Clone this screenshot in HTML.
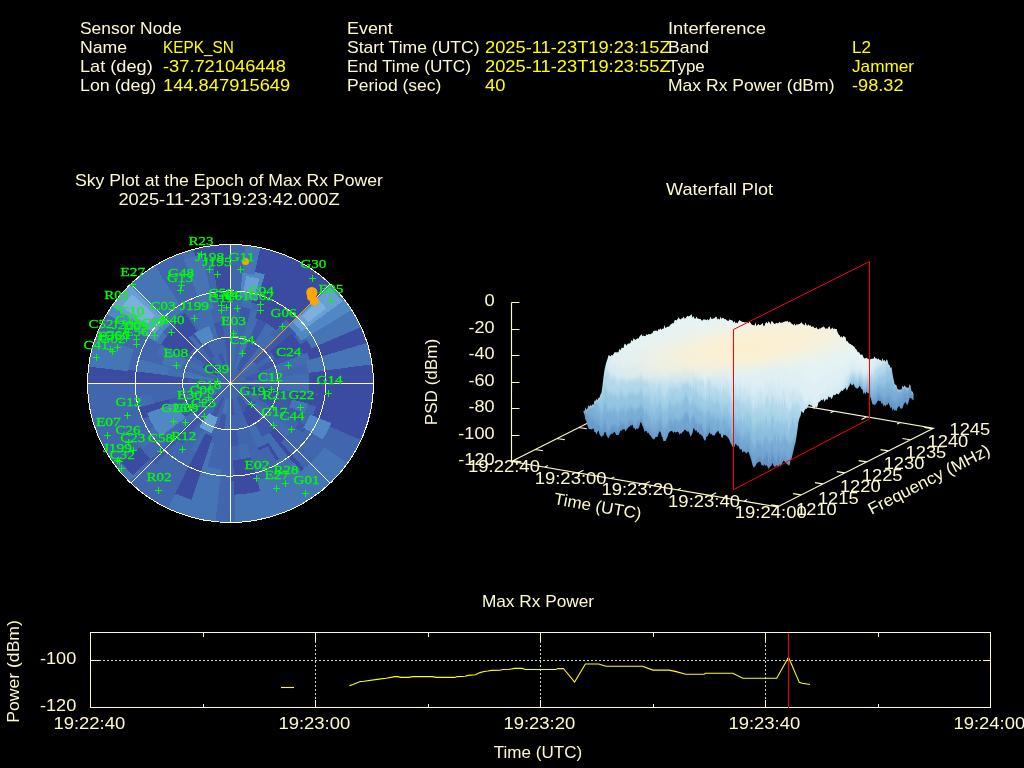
<!DOCTYPE html>
<html><head><meta charset="utf-8"><title>Interference Event</title>
<style>
html,body{margin:0;padding:0;background:#000;width:1024px;height:768px;overflow:hidden}
svg{display:block;will-change:transform}
text{font-family:"Liberation Sans",sans-serif;white-space:pre}
.sv text{font-family:"Liberation Serif",serif}
</style></head><body>
<svg width="1024" height="768" viewBox="0 0 1024 768">
<rect width="1024" height="768" fill="#000"/>
<text x="80.0" y="33.5" fill="#fffacd" font-size="16.6" textLength="101.7" lengthAdjust="spacingAndGlyphs">Sensor Node</text>
<text x="80.0" y="52.5" fill="#fffacd" font-size="16.6" textLength="47.2" lengthAdjust="spacingAndGlyphs">Name</text>
<text x="163.0" y="52.5" fill="#ffff00" font-size="16.6" textLength="70.9" lengthAdjust="spacingAndGlyphs">KEPK_SN</text>
<text x="80.0" y="71.5" fill="#fffacd" font-size="16.6" textLength="72.7" lengthAdjust="spacingAndGlyphs">Lat (deg)</text>
<text x="163.0" y="71.5" fill="#ffff00" font-size="16.6" textLength="122.8" lengthAdjust="spacingAndGlyphs">-37.721046448</text>
<text x="80.0" y="90.5" fill="#fffacd" font-size="16.6" textLength="76.3" lengthAdjust="spacingAndGlyphs">Lon (deg)</text>
<text x="163.0" y="90.5" fill="#ffff00" font-size="16.6" textLength="127.2" lengthAdjust="spacingAndGlyphs">144.847915649</text>
<text x="347.0" y="33.5" fill="#fffacd" font-size="16.6" textLength="45.8" lengthAdjust="spacingAndGlyphs">Event</text>
<text x="347.0" y="52.5" fill="#fffacd" font-size="16.6" textLength="132.6" lengthAdjust="spacingAndGlyphs">Start Time (UTC)</text>
<text x="485.0" y="52.5" fill="#ffff00" font-size="16.6" textLength="185.6" lengthAdjust="spacingAndGlyphs">2025-11-23T19:23:15Z</text>
<text x="347.0" y="71.5" fill="#fffacd" font-size="16.6" textLength="123.9" lengthAdjust="spacingAndGlyphs">End Time (UTC)</text>
<text x="485.0" y="71.5" fill="#ffff00" font-size="16.6" textLength="185.6" lengthAdjust="spacingAndGlyphs">2025-11-23T19:23:55Z</text>
<text x="347.0" y="90.5" fill="#fffacd" font-size="16.6" textLength="94.4" lengthAdjust="spacingAndGlyphs">Period (sec)</text>
<text x="485.0" y="90.5" fill="#ffff00" font-size="16.6" textLength="20.4" lengthAdjust="spacingAndGlyphs">40</text>
<text x="668.0" y="33.5" fill="#fffacd" font-size="16.6" textLength="97.9" lengthAdjust="spacingAndGlyphs">Interference</text>
<text x="668.0" y="52.5" fill="#fffacd" font-size="16.6" textLength="41.1" lengthAdjust="spacingAndGlyphs">Band</text>
<text x="852.0" y="52.5" fill="#ffff00" font-size="16.6" textLength="19.1" lengthAdjust="spacingAndGlyphs">L2</text>
<text x="668.0" y="71.5" fill="#fffacd" font-size="16.6" textLength="36.8" lengthAdjust="spacingAndGlyphs">Type</text>
<text x="852.0" y="71.5" fill="#ffff00" font-size="16.6" textLength="62.1" lengthAdjust="spacingAndGlyphs">Jammer</text>
<text x="668.0" y="90.5" fill="#fffacd" font-size="16.6" textLength="166.5" lengthAdjust="spacingAndGlyphs">Max Rx Power (dBm)</text>
<text x="852.0" y="90.5" fill="#ffff00" font-size="16.6" textLength="51.6" lengthAdjust="spacingAndGlyphs">-98.32</text>
<text x="75.0" y="185.5" fill="#fffacd" font-size="16.6" textLength="308.0" lengthAdjust="spacingAndGlyphs">Sky Plot at the Epoch of Max Rx Power</text>
<text x="118.4" y="204.5" fill="#fffacd" font-size="16.6" textLength="221.2" lengthAdjust="spacingAndGlyphs">2025-11-23T19:23:42.000Z</text>
<text x="666.1" y="194.5" fill="#fffacd" font-size="16.6" textLength="106.9" lengthAdjust="spacingAndGlyphs">Waterfall Plot</text>
<text x="481.9" y="606.5" fill="#fffacd" font-size="16.6" textLength="112.2" lengthAdjust="spacingAndGlyphs">Max Rx Power</text>
<text x="493.8" y="757.5" fill="#fffacd" font-size="16.6" textLength="88.4" lengthAdjust="spacingAndGlyphs">Time (UTC)</text>
<defs><clipPath id="skc"><ellipse cx="230.5" cy="383.5" rx="143.0" ry="139.0"/></clipPath></defs>
<g clip-path="url(#skc)" shape-rendering="crispEdges">
<rect x="86" y="243" width="290" height="282" fill="#4166ae"/>
<path d="M230.5 352.1 232.0 352.1 233.4 352.2 234.9 352.3 232.7 368.2 231.9 368.1 231.2 368.1 230.5 368.1Z" fill="#436db1"/>
<path d="M230.5 336.6 232.7 336.7 234.9 336.8 237.0 337.0 234.8 352.9 233.4 352.7 231.9 352.6 230.5 352.6Z" fill="#436db1"/>
<path d="M230.5 321.2 233.4 321.2 236.3 321.4 239.2 321.7 237.0 337.6 234.8 337.4 232.7 337.2 230.5 337.2Z" fill="#436db1"/>
<path d="M240.9 306.4 244.5 306.9 248.1 307.6 251.6 308.5 247.3 323.9 244.5 323.2 241.6 322.7 238.8 322.3Z" fill="#3e57a8"/>
<path d="M243.0 291.1 247.3 291.7 251.6 292.6 255.8 293.6 251.5 309.0 248.0 308.2 244.4 307.5 240.9 306.9Z" fill="#436db1"/>
<path d="M245.1 275.8 250.1 276.5 255.1 277.5 260.0 278.7 255.7 294.1 251.5 293.1 247.2 292.3 242.9 291.6Z" fill="#3b4ba1"/>
<path d="M247.2 260.5 252.9 261.3 258.6 262.4 264.2 263.8 259.8 279.2 255.0 278.0 250.0 277.1 245.0 276.3Z" fill="#3b4ba1"/>
<path d="M249.2 245.1 255.7 246.1 262.1 247.4 268.4 248.9 264.0 264.3 258.4 263.0 252.8 261.9 247.1 261.0Z" fill="#3b4ba1"/>
<path d="M238.9 353.1 240.3 353.5 241.7 354.0 243.0 354.5 236.7 369.3 236.0 369.0 235.3 368.8 234.6 368.6Z" fill="#436db1"/>
<path d="M243.0 338.2 245.1 338.8 247.2 339.5 249.2 340.3 242.8 355.0 241.5 354.5 240.1 354.1 238.7 353.7Z" fill="#4575b4"/>
<path d="M247.1 323.3 249.9 324.1 252.6 325.0 255.4 326.0 249.0 340.8 247.0 340.0 244.9 339.3 242.8 338.7Z" fill="#436db1"/>
<path d="M251.2 308.4 254.7 309.4 258.1 310.5 261.5 311.8 255.1 326.5 252.4 325.5 249.7 324.6 246.9 323.8Z" fill="#436db1"/>
<path d="M263.5 263.6 269.1 265.2 274.6 267.0 280.0 269.1 273.6 283.8 268.9 282.0 264.1 280.4 259.3 279.1Z" fill="#436db1"/>
<path d="M267.7 248.7 273.9 250.5 280.1 252.5 286.1 254.8 279.8 269.6 274.4 267.5 268.9 265.7 263.4 264.2Z" fill="#436db1"/>
<path d="M242.9 354.4 244.2 355.0 245.5 355.7 246.8 356.4 238.5 370.2 237.9 369.8 237.2 369.5 236.6 369.2Z" fill="#3e57a8"/>
<path d="M249.0 340.2 251.0 341.0 252.9 342.0 254.8 343.0 246.5 356.8 245.3 356.2 244.0 355.5 242.7 355.0Z" fill="#3e57a8"/>
<path d="M255.0 325.9 257.7 327.1 260.3 328.3 262.9 329.7 254.5 343.5 252.7 342.5 250.7 341.5 248.7 340.7Z" fill="#3e57a8"/>
<path d="M261.1 311.6 264.4 313.1 267.7 314.6 270.9 316.3 262.6 330.2 260.0 328.8 257.5 327.6 254.8 326.4Z" fill="#3e57a8"/>
<path d="M273.3 283.1 277.9 285.1 282.5 287.3 286.9 289.7 278.6 303.5 274.8 301.5 270.9 299.6 267.0 297.9Z" fill="#4575b4"/>
<path d="M279.4 268.8 284.7 271.1 289.9 273.6 294.9 276.3 286.6 290.2 282.2 287.8 277.7 285.6 273.1 283.6Z" fill="#4575b4"/>
<path d="M285.4 254.6 291.4 257.1 297.2 259.9 302.9 263.0 294.6 276.8 289.6 274.1 284.4 271.6 279.1 269.3Z" fill="#4575b4"/>
<path d="M246.7 356.3 247.9 357.0 249.1 357.8 250.3 358.7 240.2 371.3 239.7 370.9 239.1 370.5 238.4 370.1Z" fill="#3e57a8"/>
<path d="M254.6 342.9 256.5 344.0 258.3 345.2 260.1 346.5 250.0 359.1 248.8 358.3 247.6 357.5 246.4 356.7Z" fill="#3e57a8"/>
<path d="M262.6 329.5 265.1 331.0 267.5 332.6 269.8 334.2 259.7 346.9 258.0 345.6 256.2 344.5 254.3 343.4Z" fill="#436db1"/>
<path d="M270.5 316.1 273.6 318.0 276.6 319.9 279.5 322.0 269.5 334.7 267.1 333.0 264.7 331.5 262.3 330.0Z" fill="#436db1"/>
<path d="M278.5 302.8 282.2 305.0 285.8 307.3 289.3 309.8 279.2 322.5 276.3 320.4 273.3 318.4 270.2 316.6Z" fill="#436db1"/>
<path d="M302.3 262.6 307.9 265.9 313.3 269.5 318.5 273.2 308.4 285.9 303.8 282.5 299.0 279.4 294.1 276.5Z" fill="#436db1"/>
<path d="M250.2 358.6 251.3 359.4 252.4 360.4 253.5 361.4 241.8 372.6 241.3 372.1 240.7 371.7 240.2 371.2Z" fill="#436db1"/>
<path d="M259.9 346.3 261.6 347.6 263.2 349.0 264.8 350.5 253.1 361.8 252.1 360.8 251.0 359.9 249.8 359.0Z" fill="#436db1"/>
<path d="M269.5 334.0 271.8 335.8 274.0 337.7 276.1 339.7 264.4 350.9 262.8 349.4 261.2 348.1 259.5 346.7Z" fill="#436db1"/>
<path d="M253.4 361.3 254.4 362.3 255.4 363.4 256.3 364.5 243.2 374.2 242.7 373.6 242.2 373.1 241.7 372.6Z" fill="#436db1"/>
<path d="M264.6 350.3 266.1 351.9 267.6 353.5 268.9 355.2 255.8 364.8 254.9 363.7 254.0 362.7 253.0 361.7Z" fill="#3e57a8"/>
<path d="M275.8 339.4 277.9 341.5 279.8 343.6 281.6 345.8 268.5 355.5 267.1 353.8 265.7 352.3 264.2 350.7Z" fill="#3e57a8"/>
<path d="M287.1 328.5 289.6 331.1 292.0 333.7 294.2 336.5 281.1 346.1 279.3 344.0 277.4 341.8 275.4 339.8Z" fill="#3e57a8"/>
<path d="M298.3 317.6 301.3 320.6 304.2 323.8 306.9 327.1 293.8 336.8 291.5 334.1 289.2 331.4 286.7 328.9Z" fill="#3e57a8"/>
<path d="M319.2 317.3 322.2 321.3 325.0 325.4 327.6 329.7 313.3 337.6 311.1 334.0 308.7 330.5 306.1 327.1Z" fill="#3e57a8"/>
<path d="M331.8 307.9 335.2 312.5 338.4 317.2 341.4 322.0 327.1 329.9 324.5 325.7 321.7 321.6 318.7 317.7Z" fill="#3e57a8"/>
<path d="M344.4 298.5 348.3 303.7 351.9 308.9 355.2 314.4 340.9 322.3 337.9 317.5 334.8 312.8 331.3 308.3Z" fill="#3b4ba1"/>
<path d="M272.3 360.1 273.3 361.9 274.3 363.8 275.2 365.8 259.9 371.8 259.3 370.5 258.7 369.3 258.0 368.1Z" fill="#3e57a8"/>
<path d="M286.0 352.3 287.4 354.8 288.7 357.4 289.9 359.9 274.6 366.0 273.8 364.1 272.8 362.2 271.8 360.3Z" fill="#3e57a8"/>
<path d="M299.8 344.6 301.5 347.7 303.1 350.9 304.6 354.1 289.3 360.2 288.2 357.6 286.9 355.1 285.5 352.6Z" fill="#3e57a8"/>
<path d="M313.6 336.9 315.6 340.6 317.6 344.4 319.3 348.3 304.1 354.3 302.6 351.1 301.0 348.0 299.3 344.9Z" fill="#3b4ba1"/>
<path d="M327.3 329.2 329.8 333.5 332.0 337.9 334.0 342.4 318.8 348.5 317.0 344.6 315.1 340.9 313.1 337.2Z" fill="#3b4ba1"/>
<path d="M260.4 371.5 260.9 372.8 261.4 374.1 261.8 375.5 245.9 379.6 245.7 378.9 245.4 378.2 245.2 377.6Z" fill="#3e57a8"/>
<path d="M289.7 359.6 290.8 362.3 291.7 365.0 292.5 367.7 276.6 371.7 276.0 369.7 275.3 367.7 274.5 365.8Z" fill="#436db1"/>
<path d="M304.4 353.7 305.7 357.0 306.9 360.4 307.9 363.8 292.0 367.8 291.2 365.1 290.3 362.5 289.2 359.9Z" fill="#436db1"/>
<path d="M319.1 347.8 320.7 351.8 322.1 355.8 323.3 359.8 307.3 363.9 306.4 360.5 305.2 357.2 303.9 353.9Z" fill="#436db1"/>
<path d="M261.7 375.4 262.1 376.7 262.4 378.1 262.6 379.6 246.3 381.6 246.2 380.9 246.0 380.2 245.8 379.5Z" fill="#3e57a8"/>
<path d="M277.1 371.4 277.6 373.4 278.0 375.5 278.4 377.6 262.0 379.6 261.8 378.2 261.5 376.9 261.2 375.5Z" fill="#436db1"/>
<path d="M338.5 355.4 339.7 360.2 340.7 365.0 341.4 369.9 325.1 371.9 324.4 367.7 323.6 363.6 322.6 359.5Z" fill="#3b4ba1"/>
<path d="M353.8 351.4 355.2 356.8 356.3 362.4 357.2 367.9 340.8 370.0 340.1 365.1 339.1 360.3 337.9 355.5Z" fill="#3b4ba1"/>
<path d="M369.2 347.4 370.7 353.5 372.0 359.7 372.9 366.0 356.6 368.0 355.8 362.5 354.6 357.0 353.3 351.5Z" fill="#3b4ba1"/>
<path d="M262.6 379.4 262.7 380.8 262.8 382.2 262.8 383.7 246.4 383.6 246.4 382.9 246.3 382.2 246.3 381.5Z" fill="#436db1"/>
<path d="M278.3 377.4 278.6 379.5 278.7 381.6 278.7 383.7 262.3 383.7 262.3 382.3 262.2 380.9 262.0 379.5Z" fill="#436db1"/>
<path d="M294.1 375.4 294.4 378.2 294.6 381.0 294.6 383.8 278.2 383.7 278.1 381.6 278.0 379.5 277.8 377.5Z" fill="#436db1"/>
<path d="M309.8 373.3 310.2 376.9 310.5 380.4 310.5 383.9 294.1 383.8 294.0 381.0 293.8 378.2 293.5 375.4Z" fill="#436db1"/>
<path d="M325.6 371.3 326.1 375.5 326.3 379.8 326.4 384.0 309.9 383.9 309.9 380.4 309.7 376.9 309.3 373.4Z" fill="#436db1"/>
<path d="M341.3 369.3 341.9 374.2 342.2 379.1 342.3 384.1 325.8 384.0 325.8 379.8 325.5 375.6 325.0 371.4Z" fill="#436db1"/>
<path d="M357.1 367.3 357.7 372.9 358.1 378.5 358.2 384.1 341.7 384.1 341.6 379.2 341.3 374.3 340.8 369.4Z" fill="#436db1"/>
<path d="M372.8 365.3 373.5 371.6 374.0 377.9 374.1 384.2 357.6 384.1 357.5 378.5 357.1 372.9 356.5 367.4Z" fill="#436db1"/>
<path d="M294.6 383.5 294.6 386.3 294.4 389.1 294.0 392.0 277.7 389.8 278.0 387.7 278.1 385.6 278.2 383.5Z" fill="#436db1"/>
<path d="M310.5 383.5 310.4 387.0 310.2 390.5 309.8 394.1 293.5 391.9 293.8 389.1 294.0 386.3 294.1 383.5Z" fill="#436db1"/>
<path d="M326.4 383.5 326.3 387.7 326.0 391.9 325.5 396.2 309.2 394.0 309.6 390.5 309.9 387.0 309.9 383.5Z" fill="#436db1"/>
<path d="M342.3 383.5 342.2 388.4 341.8 393.3 341.3 398.2 325.0 396.1 325.4 391.9 325.7 387.7 325.8 383.5Z" fill="#3e57a8"/>
<path d="M358.2 383.5 358.1 389.1 357.7 394.7 357.0 400.3 340.7 398.2 341.3 393.3 341.6 388.4 341.7 383.5Z" fill="#3e57a8"/>
<path d="M374.1 383.5 373.9 389.8 373.5 396.1 372.7 402.4 356.4 400.3 357.1 394.7 357.5 389.1 357.6 383.5Z" fill="#3e57a8"/>
<path d="M262.6 387.6 262.3 389.0 262.1 390.4 261.7 391.8 245.8 387.6 246.0 386.9 246.1 386.2 246.3 385.5Z" fill="#3b4ba1"/>
<path d="M278.3 389.6 278.0 391.7 277.6 393.8 277.0 395.9 261.2 391.7 261.5 390.3 261.8 388.9 262.0 387.5Z" fill="#3b4ba1"/>
<path d="M294.1 391.6 293.6 394.4 293.1 397.2 292.4 399.9 276.5 395.7 277.0 393.7 277.4 391.6 277.8 389.5Z" fill="#3e57a8"/>
<path d="M309.8 393.7 309.3 397.1 308.6 400.6 307.7 404.0 291.8 399.8 292.5 397.1 293.1 394.3 293.5 391.6Z" fill="#3b4ba1"/>
<path d="M325.6 395.7 324.9 399.8 324.1 404.0 323.0 408.1 307.1 403.9 308.0 400.5 308.7 397.0 309.3 393.6Z" fill="#3b4ba1"/>
<path d="M341.3 397.7 340.6 402.6 339.6 407.4 338.3 412.2 322.5 408.0 323.5 403.9 324.4 399.8 325.0 395.6Z" fill="#3b4ba1"/>
<path d="M357.1 399.7 356.2 405.3 355.1 410.8 353.7 416.2 337.8 412.0 339.0 407.3 340.0 402.5 340.8 397.6Z" fill="#3b4ba1"/>
<path d="M372.8 401.7 371.8 408.0 370.6 414.2 369.0 420.3 353.1 416.1 354.5 410.7 355.6 405.2 356.5 399.6Z" fill="#3b4ba1"/>
<path d="M261.7 391.6 261.3 393.0 260.9 394.4 260.3 395.7 245.1 389.5 245.4 388.8 245.6 388.2 245.8 387.5Z" fill="#3b4ba1"/>
<path d="M277.1 395.6 276.5 397.7 275.8 399.7 275.0 401.7 259.8 395.5 260.3 394.2 260.8 392.8 261.2 391.5Z" fill="#3e57a8"/>
<path d="M292.4 399.6 291.6 402.3 290.7 405.0 289.6 407.7 274.4 401.5 275.2 399.5 275.9 397.5 276.5 395.5Z" fill="#3e57a8"/>
<path d="M307.8 403.6 306.8 407.0 305.6 410.4 304.3 413.6 289.1 407.4 290.1 404.8 291.1 402.2 291.9 399.5Z" fill="#4575b4"/>
<path d="M338.5 411.6 337.1 416.4 335.4 421.0 333.6 425.6 318.4 419.4 320.0 415.5 321.4 411.5 322.6 407.5Z" fill="#3e57a8"/>
<path d="M353.8 415.6 352.2 421.0 350.3 426.4 348.2 431.6 333.0 425.4 334.9 420.8 336.5 416.2 337.9 411.5Z" fill="#3e57a8"/>
<path d="M369.2 419.6 367.4 425.7 365.2 431.7 362.9 437.6 347.7 431.4 349.8 426.2 351.7 420.9 353.3 415.5Z" fill="#3e57a8"/>
<path d="M275.1 401.4 274.2 403.4 273.2 405.3 272.1 407.2 257.9 399.1 258.6 397.9 259.3 396.6 259.9 395.3Z" fill="#3e57a8"/>
<path d="M289.7 407.4 288.6 409.9 287.3 412.5 285.9 414.9 271.7 406.9 272.7 405.0 273.7 403.2 274.5 401.2Z" fill="#3e57a8"/>
<path d="M304.4 413.3 303.0 416.5 301.3 419.7 299.6 422.7 285.4 414.7 286.8 412.2 288.1 409.7 289.2 407.1Z" fill="#3e57a8"/>
<path d="M313.6 430.1 311.3 433.7 308.9 437.2 306.3 440.6 293.3 430.8 295.4 428.0 297.4 425.1 299.3 422.1Z" fill="#3e57a8"/>
<path d="M327.3 437.8 324.7 442.0 321.9 446.1 318.8 450.1 305.8 440.3 308.4 436.9 310.8 433.4 313.1 429.8Z" fill="#436db1"/>
<path d="M341.1 445.6 338.1 450.4 334.8 455.0 331.4 459.6 318.4 449.8 321.4 445.8 324.2 441.7 326.8 437.6Z" fill="#3e57a8"/>
<path d="M354.8 453.3 351.5 458.7 347.8 463.9 343.9 469.0 330.9 459.2 334.4 454.7 337.6 450.1 340.6 445.3Z" fill="#3b4ba1"/>
<path d="M256.2 402.6 255.2 403.8 254.3 404.8 253.3 405.9 241.7 394.5 242.2 394.0 242.7 393.4 243.1 392.9Z" fill="#3e57a8"/>
<path d="M268.8 412.0 267.4 413.7 266.0 415.3 264.4 416.8 252.9 405.5 253.9 404.4 254.8 403.4 255.7 402.3Z" fill="#436db1"/>
<path d="M281.4 421.4 279.6 423.7 277.6 425.8 275.6 427.8 264.0 416.4 265.5 414.9 267.0 413.3 268.3 411.7Z" fill="#436db1"/>
<path d="M294.0 430.8 291.7 433.6 289.3 436.2 286.8 438.8 275.2 427.4 277.2 425.4 279.1 423.3 280.9 421.1Z" fill="#436db1"/>
<path d="M306.6 440.3 303.9 443.5 301.0 446.7 298.0 449.8 286.4 438.4 288.9 435.9 291.3 433.2 293.5 430.5Z" fill="#436db1"/>
<path d="M319.2 449.7 316.0 453.5 312.7 457.2 309.1 460.7 297.6 449.4 300.6 446.3 303.4 443.2 306.1 439.9Z" fill="#436db1"/>
<path d="M331.8 459.1 328.2 463.4 324.3 467.7 320.3 471.7 308.7 460.3 312.2 456.8 315.6 453.1 318.7 449.3Z" fill="#436db1"/>
<path d="M344.4 468.5 340.3 473.4 336.0 478.1 331.5 482.7 319.9 471.3 323.9 467.3 327.7 463.1 331.3 458.7Z" fill="#436db1"/>
<path d="M253.4 405.7 252.3 406.7 251.2 407.7 250.1 408.5 240.1 395.8 240.7 395.4 241.2 394.9 241.7 394.4Z" fill="#436db1"/>
<path d="M264.6 416.7 263.0 418.1 261.4 419.5 259.7 420.8 249.7 408.1 250.8 407.2 251.9 406.3 253.0 405.3Z" fill="#436db1"/>
<path d="M275.8 427.6 273.7 429.5 271.5 431.4 269.3 433.2 259.3 420.4 261.0 419.1 262.6 417.7 264.2 416.3Z" fill="#3e57a8"/>
<path d="M287.1 438.5 284.5 440.9 281.7 443.3 278.9 445.5 268.9 432.7 271.2 431.0 273.4 429.1 275.4 427.2Z" fill="#3b4ba1"/>
<path d="M298.3 449.4 295.2 452.3 291.9 455.1 288.5 457.8 278.5 445.0 281.4 442.8 284.1 440.5 286.7 438.1Z" fill="#3b4ba1"/>
<path d="M309.6 460.3 305.9 463.7 302.1 467.0 298.1 470.1 288.1 457.3 291.5 454.7 294.8 451.9 297.9 449.0Z" fill="#3b4ba1"/>
<path d="M320.8 471.3 316.6 475.2 312.2 478.9 307.7 482.4 297.7 469.6 301.7 466.6 305.5 463.3 309.1 459.9Z" fill="#3b4ba1"/>
<path d="M332.0 482.2 327.3 486.6 322.4 490.7 317.3 494.7 307.4 481.9 311.9 478.4 316.2 474.7 320.4 470.9Z" fill="#3b4ba1"/>
<path d="M250.2 408.4 249.0 409.3 247.8 410.1 246.5 410.8 238.4 396.9 239.0 396.6 239.6 396.2 240.2 395.8Z" fill="#3e57a8"/>
<path d="M259.9 420.7 258.1 422.0 256.3 423.1 254.4 424.2 246.2 410.3 247.5 409.6 248.7 408.8 249.8 408.0Z" fill="#3e57a8"/>
<path d="M269.5 433.0 267.2 434.6 264.8 436.2 262.3 437.6 254.1 423.7 256.0 422.7 257.8 421.5 259.5 420.3Z" fill="#3e57a8"/>
<path d="M279.2 445.2 276.3 447.3 273.3 449.2 270.1 451.1 262.0 437.2 264.5 435.7 266.9 434.2 269.2 432.5Z" fill="#436db1"/>
<path d="M288.9 457.5 285.4 460.0 281.7 462.3 278.0 464.5 269.9 450.6 273.0 448.8 276.0 446.8 278.9 444.8Z" fill="#436db1"/>
<path d="M298.6 469.7 294.5 472.6 290.2 475.4 285.9 477.9 277.7 464.0 281.4 461.8 285.0 459.5 288.5 457.0Z" fill="#436db1"/>
<path d="M308.2 482.0 303.6 485.3 298.7 488.4 293.8 491.3 285.6 477.4 289.9 474.9 294.1 472.2 298.2 469.3Z" fill="#436db1"/>
<path d="M317.9 494.2 312.6 498.0 307.2 501.5 301.6 504.7 293.5 490.8 298.4 487.9 303.2 484.8 307.9 481.5Z" fill="#436db1"/>
<path d="M246.7 410.7 245.4 411.4 244.1 412.0 242.7 412.6 236.5 397.8 237.2 397.5 237.8 397.2 238.4 396.9Z" fill="#3e57a8"/>
<path d="M254.6 424.1 252.7 425.1 250.7 426.1 248.7 426.9 242.5 412.1 243.8 411.5 245.1 410.9 246.4 410.3Z" fill="#3b4ba1"/>
<path d="M262.6 437.5 260.0 438.8 257.4 440.1 254.7 441.2 248.5 426.4 250.5 425.6 252.4 424.6 254.3 423.6Z" fill="#436db1"/>
<path d="M270.5 450.9 267.3 452.6 264.1 454.1 260.7 455.5 254.5 440.7 257.2 439.6 259.7 438.3 262.3 437.0Z" fill="#436db1"/>
<path d="M278.5 464.2 274.6 466.3 270.7 468.1 266.7 469.8 260.5 455.0 263.8 453.6 267.1 452.1 270.2 450.4Z" fill="#436db1"/>
<path d="M286.4 477.6 281.9 480.0 277.4 482.1 272.7 484.1 266.5 469.3 270.5 467.6 274.4 465.8 278.2 463.8Z" fill="#436db1"/>
<path d="M294.3 491.0 289.3 493.7 284.1 496.2 278.7 498.4 272.5 483.6 277.2 481.6 281.7 479.5 286.1 477.1Z" fill="#436db1"/>
<path d="M279.4 498.2 274.0 500.2 268.5 502.0 262.9 503.5 258.7 488.1 263.6 486.7 268.4 485.2 273.1 483.4Z" fill="#3e57a8"/>
<path d="M251.2 458.6 247.7 459.5 244.1 460.1 240.5 460.7 238.5 444.8 241.3 444.4 244.1 443.8 246.9 443.2Z" fill="#436db1"/>
<path d="M255.3 473.5 251.1 474.5 246.8 475.4 242.5 476.0 240.5 460.1 244.0 459.6 247.6 458.9 251.1 458.1Z" fill="#436db1"/>
<path d="M259.4 488.5 254.5 489.6 249.5 490.6 244.5 491.3 242.4 475.4 246.7 474.8 251.0 474.0 255.2 473.0Z" fill="#436db1"/>
<path d="M263.5 503.4 257.9 504.7 252.2 505.8 246.5 506.6 244.4 490.8 249.4 490.0 254.4 489.1 259.3 487.9Z" fill="#3b4ba1"/>
<path d="M267.7 518.3 261.3 519.8 254.9 521.0 248.5 522.0 246.4 506.1 252.1 505.3 257.8 504.2 263.4 502.8Z" fill="#3b4ba1"/>
<path d="M234.7 414.7 233.3 414.8 231.8 414.9 230.3 414.9 230.4 398.9 231.1 398.9 231.9 398.9 232.6 398.8Z" fill="#3e57a8"/>
<path d="M238.9 445.3 236.0 445.6 233.1 445.8 230.2 445.8 230.3 429.8 232.4 429.8 234.6 429.7 236.7 429.4Z" fill="#3e57a8"/>
<path d="M245.1 491.2 240.0 491.8 235.0 492.1 229.9 492.2 230.0 476.2 234.3 476.1 238.6 475.8 242.9 475.4Z" fill="#3b4ba1"/>
<path d="M247.2 506.5 241.4 507.2 235.6 507.5 229.8 507.6 229.9 491.6 235.0 491.5 240.0 491.2 245.0 490.7Z" fill="#3b4ba1"/>
<path d="M249.2 521.9 242.8 522.5 236.3 522.9 229.7 523.1 229.8 507.1 235.6 507.0 241.4 506.6 247.1 506.0Z" fill="#3b4ba1"/>
<path d="M230.5 414.9 229.0 414.9 227.6 414.8 226.1 414.7 228.3 398.8 229.1 398.9 229.8 398.9 230.5 398.9Z" fill="#436db1"/>
<path d="M230.5 430.4 228.3 430.3 226.1 430.2 224.0 430.0 226.2 414.1 227.6 414.3 229.1 414.4 230.5 414.4Z" fill="#436db1"/>
<path d="M230.5 507.6 224.7 507.5 218.9 507.1 213.2 506.5 215.4 490.6 220.4 491.2 225.5 491.5 230.5 491.6Z" fill="#436db1"/>
<path d="M230.5 523.1 224.0 522.9 217.5 522.5 211.0 521.8 213.2 505.9 219.0 506.5 224.7 506.9 230.5 507.1Z" fill="#436db1"/>
<path d="M226.3 414.7 224.8 414.5 223.4 414.2 222.0 413.8 226.3 398.4 227.0 398.6 227.7 398.7 228.4 398.8Z" fill="#4575b4"/>
<path d="M224.2 430.0 222.0 429.7 219.9 429.2 217.8 428.7 222.1 413.3 223.5 413.6 224.9 413.9 226.4 414.1Z" fill="#3e57a8"/>
<path d="M209.8 458.6 206.3 457.6 202.9 456.5 199.5 455.2 205.9 440.5 208.6 441.5 211.3 442.4 214.1 443.2Z" fill="#4575b4"/>
<path d="M205.7 473.5 201.5 472.4 197.4 471.0 193.3 469.4 199.7 454.7 203.1 456.0 206.5 457.1 209.9 458.1Z" fill="#4575b4"/>
<path d="M218.1 412.6 216.8 412.0 215.5 411.3 214.2 410.6 222.5 396.8 223.1 397.2 223.8 397.5 224.4 397.8Z" fill="#3e57a8"/>
<path d="M212.0 426.8 210.0 426.0 208.1 425.0 206.2 424.0 214.5 410.2 215.7 410.8 217.0 411.5 218.3 412.0Z" fill="#3e57a8"/>
<path d="M206.0 441.1 203.3 439.9 200.7 438.7 198.1 437.3 206.5 423.5 208.3 424.5 210.3 425.5 212.3 426.3Z" fill="#436db1"/>
<path d="M199.9 455.4 196.6 453.9 193.3 452.4 190.1 450.7 198.4 436.8 201.0 438.2 203.5 439.4 206.2 440.6Z" fill="#436db1"/>
<path d="M193.8 469.6 189.8 467.9 185.9 466.0 182.1 464.0 190.4 450.2 193.6 451.9 196.8 453.4 200.1 454.8Z" fill="#436db1"/>
<path d="M187.7 483.9 183.1 481.9 178.5 479.7 174.1 477.3 182.4 463.5 186.2 465.5 190.1 467.4 194.0 469.1Z" fill="#3e57a8"/>
<path d="M181.6 498.2 176.3 495.9 171.1 493.4 166.1 490.7 174.4 476.8 178.8 479.2 183.3 481.4 187.9 483.4Z" fill="#3e57a8"/>
<path d="M175.6 512.4 169.6 509.9 163.8 507.1 158.1 504.0 166.4 490.2 171.4 492.9 176.6 495.4 181.9 497.7Z" fill="#4575b4"/>
<path d="M182.5 464.2 178.8 462.0 175.2 459.7 171.7 457.2 181.8 444.5 184.7 446.6 187.7 448.6 190.8 450.4Z" fill="#3e57a8"/>
<path d="M174.6 477.6 170.3 475.0 166.1 472.3 162.0 469.4 172.1 456.7 175.5 459.2 179.1 461.6 182.8 463.8Z" fill="#3e57a8"/>
<path d="M166.7 491.0 161.7 488.1 156.9 484.9 152.2 481.6 162.3 468.9 166.4 471.8 170.6 474.6 174.9 477.1Z" fill="#3e57a8"/>
<path d="M158.7 504.4 153.1 501.1 147.7 497.5 142.5 493.8 152.6 481.1 157.2 484.5 162.0 487.6 166.9 490.5Z" fill="#4575b4"/>
<path d="M191.5 433.0 189.2 431.2 187.0 429.3 184.9 427.3 196.6 416.1 198.2 417.6 199.8 418.9 201.5 420.3Z" fill="#3e57a8"/>
<path d="M181.8 445.2 179.0 443.0 176.2 440.7 173.6 438.2 185.3 427.0 187.4 428.9 189.6 430.8 191.8 432.5Z" fill="#3e57a8"/>
<path d="M172.1 457.5 168.7 454.8 165.5 452.0 162.3 449.1 174.0 437.8 176.6 440.3 179.3 442.6 182.1 444.8Z" fill="#3e57a8"/>
<path d="M162.4 469.7 158.5 466.6 154.7 463.4 151.0 459.9 162.7 448.7 165.8 451.6 169.1 454.4 172.5 457.0Z" fill="#3e57a8"/>
<path d="M207.6 405.7 206.6 404.7 205.6 403.6 204.7 402.5 217.8 392.8 218.3 393.4 218.8 393.9 219.3 394.4Z" fill="#3e57a8"/>
<path d="M196.4 416.7 194.9 415.1 193.4 413.5 192.1 411.8 205.2 402.2 206.1 403.3 207.0 404.3 208.0 405.3Z" fill="#3e57a8"/>
<path d="M185.2 427.6 183.1 425.5 181.2 423.4 179.4 421.2 192.5 411.5 193.9 413.2 195.3 414.7 196.8 416.3Z" fill="#436db1"/>
<path d="M129.0 482.2 124.5 477.6 120.2 472.8 116.1 467.9 129.3 458.2 132.8 462.6 136.6 466.8 140.6 470.9Z" fill="#4575b4"/>
<path d="M204.8 402.6 204.0 401.5 203.2 400.3 202.4 399.1 216.7 391.2 217.1 391.8 217.5 392.3 217.9 392.9Z" fill="#436db1"/>
<path d="M192.2 412.0 190.9 410.3 189.7 408.6 188.6 406.7 202.9 398.8 203.6 400.0 204.4 401.2 205.3 402.3Z" fill="#436db1"/>
<path d="M179.6 421.4 177.9 419.2 176.3 416.8 174.8 414.4 189.1 406.5 190.2 408.3 191.4 410.0 192.7 411.7Z" fill="#3e57a8"/>
<path d="M167.0 430.8 164.9 428.0 162.9 425.1 161.0 422.0 175.3 414.1 176.8 416.5 178.4 418.8 180.1 421.1Z" fill="#436db1"/>
<path d="M154.4 440.3 151.8 436.8 149.4 433.3 147.2 429.7 161.5 421.8 163.3 424.8 165.3 427.7 167.5 430.5Z" fill="#436db1"/>
<path d="M141.8 449.7 138.8 445.7 136.0 441.6 133.4 437.3 147.7 429.4 149.9 433.0 152.3 436.5 154.9 439.9Z" fill="#436db1"/>
<path d="M202.5 399.2 201.8 398.0 201.1 396.7 200.5 395.4 215.8 389.3 216.1 390.0 216.4 390.6 216.7 391.2Z" fill="#436db1"/>
<path d="M188.7 406.9 187.7 405.1 186.7 403.2 185.8 401.2 201.1 395.2 201.7 396.5 202.3 397.7 203.0 398.9Z" fill="#3e57a8"/>
<path d="M175.0 414.7 173.6 412.2 172.3 409.6 171.1 407.1 186.4 401.0 187.2 402.9 188.2 404.8 189.2 406.7Z" fill="#436db1"/>
<path d="M200.6 395.5 200.1 394.2 199.6 392.9 199.2 391.5 215.1 387.4 215.3 388.1 215.6 388.8 215.8 389.4Z" fill="#4575b4"/>
<path d="M185.9 401.4 185.1 399.5 184.4 397.4 183.8 395.4 199.8 391.3 200.2 392.7 200.6 394.0 201.1 395.3Z" fill="#436db1"/>
<path d="M171.3 407.4 170.2 404.7 169.3 402.0 168.5 399.3 184.4 395.3 185.0 397.3 185.7 399.3 186.5 401.2Z" fill="#3e57a8"/>
<path d="M156.6 413.3 155.3 410.0 154.1 406.6 153.1 403.2 169.0 399.2 169.8 401.9 170.7 404.5 171.8 407.1Z" fill="#3b4ba1"/>
<path d="M141.9 419.2 140.3 415.2 138.9 411.2 137.7 407.2 153.7 403.1 154.6 406.5 155.8 409.8 157.1 413.1Z" fill="#3b4ba1"/>
<path d="M127.2 425.1 125.4 420.5 123.8 415.8 122.4 411.1 138.3 407.0 139.5 411.1 140.9 415.0 142.4 419.0Z" fill="#436db1"/>
<path d="M112.5 431.0 110.4 425.7 108.6 420.4 107.0 415.0 122.9 410.9 124.3 415.6 125.9 420.3 127.7 424.9Z" fill="#436db1"/>
<path d="M97.9 436.9 95.5 431.0 93.4 425.0 91.6 418.9 107.5 414.9 109.1 420.2 111.0 425.6 113.1 430.8Z" fill="#436db1"/>
<path d="M137.9 407.6 136.8 403.5 136.0 399.4 135.4 395.2 151.7 393.2 152.2 396.6 152.9 400.1 153.8 403.5Z" fill="#436db1"/>
<path d="M122.5 411.6 121.3 406.8 120.3 402.0 119.6 397.1 135.9 395.1 136.6 399.3 137.4 403.4 138.4 407.5Z" fill="#436db1"/>
<path d="M107.2 415.6 105.8 410.2 104.7 404.6 103.8 399.1 120.2 397.0 120.9 401.9 121.9 406.7 123.1 411.5Z" fill="#436db1"/>
<path d="M91.8 419.6 90.3 413.5 89.0 407.3 88.1 401.0 104.4 399.0 105.2 404.5 106.4 410.0 107.7 415.5Z" fill="#436db1"/>
<path d="M198.4 387.6 198.3 386.2 198.2 384.8 198.2 383.3 214.6 383.4 214.6 384.1 214.7 384.8 214.7 385.5Z" fill="#3e57a8"/>
<path d="M166.9 391.6 166.6 388.8 166.4 386.0 166.4 383.2 182.8 383.3 182.9 385.4 183.0 387.5 183.2 389.5Z" fill="#3e57a8"/>
<path d="M151.2 393.7 150.8 390.1 150.5 386.6 150.5 383.1 166.9 383.2 167.0 386.0 167.2 388.8 167.5 391.6Z" fill="#3e57a8"/>
<path d="M135.4 395.7 134.9 391.5 134.7 387.2 134.6 383.0 151.1 383.1 151.1 386.6 151.3 390.1 151.7 393.6Z" fill="#3e57a8"/>
<path d="M119.7 397.7 119.1 392.8 118.8 387.9 118.7 382.9 135.2 383.0 135.2 387.2 135.5 391.4 136.0 395.6Z" fill="#3e57a8"/>
<path d="M103.9 399.7 103.3 394.1 102.9 388.5 102.8 382.9 119.3 382.9 119.4 387.8 119.7 392.7 120.2 397.6Z" fill="#3e57a8"/>
<path d="M198.2 383.5 198.2 382.1 198.3 380.7 198.4 379.2 214.8 381.4 214.7 382.1 214.6 382.8 214.6 383.5Z" fill="#3e57a8"/>
<path d="M182.3 383.5 182.3 381.4 182.5 379.3 182.7 377.1 199.0 379.3 198.9 380.7 198.8 382.1 198.7 383.5Z" fill="#3e57a8"/>
<path d="M166.4 383.5 166.4 380.7 166.6 377.9 167.0 375.0 183.3 377.2 183.0 379.3 182.9 381.4 182.8 383.5Z" fill="#3e57a8"/>
<path d="M150.5 383.5 150.6 380.0 150.8 376.5 151.2 372.9 167.5 375.1 167.2 377.9 167.0 380.7 166.9 383.5Z" fill="#3b4ba1"/>
<path d="M134.6 383.5 134.7 379.3 135.0 375.1 135.5 370.8 151.8 373.0 151.4 376.5 151.1 380.0 151.1 383.5Z" fill="#3b4ba1"/>
<path d="M118.7 383.5 118.8 378.6 119.2 373.7 119.7 368.8 136.0 370.9 135.6 375.1 135.3 379.3 135.2 383.5Z" fill="#3b4ba1"/>
<path d="M102.8 383.5 102.9 377.9 103.3 372.3 104.0 366.7 120.3 368.8 119.7 373.7 119.4 378.6 119.3 383.5Z" fill="#3b4ba1"/>
<path d="M86.9 383.5 87.1 377.2 87.5 370.9 88.3 364.6 104.6 366.7 103.9 372.3 103.5 377.9 103.4 383.5Z" fill="#3b4ba1"/>
<path d="M198.4 379.4 198.7 378.0 198.9 376.6 199.3 375.2 215.2 379.4 215.0 380.1 214.9 380.8 214.7 381.5Z" fill="#4575b4"/>
<path d="M182.7 377.4 183.0 375.3 183.4 373.2 184.0 371.1 199.8 375.3 199.5 376.7 199.2 378.1 199.0 379.5Z" fill="#4575b4"/>
<path d="M166.9 375.4 167.4 372.6 167.9 369.8 168.6 367.1 184.5 371.3 184.0 373.3 183.6 375.4 183.2 377.5Z" fill="#436db1"/>
<path d="M151.2 373.3 151.7 369.9 152.4 366.4 153.3 363.0 169.2 367.2 168.5 369.9 167.9 372.7 167.5 375.4Z" fill="#4575b4"/>
<path d="M135.4 371.3 136.1 367.2 136.9 363.0 138.0 358.9 153.9 363.1 153.0 366.5 152.3 370.0 151.7 373.4Z" fill="#4575b4"/>
<path d="M200.6 371.5 201.2 370.2 201.9 368.9 202.6 367.6 216.8 375.7 216.4 376.3 216.1 376.9 215.8 377.6Z" fill="#436db1"/>
<path d="M185.9 365.6 186.8 363.6 187.8 361.7 188.9 359.8 203.1 367.9 202.4 369.1 201.7 370.4 201.1 371.7Z" fill="#436db1"/>
<path d="M171.3 359.6 172.4 357.1 173.7 354.5 175.1 352.1 189.3 360.1 188.3 362.0 187.3 363.8 186.5 365.8Z" fill="#436db1"/>
<path d="M156.6 353.7 158.0 350.5 159.7 347.3 161.4 344.3 175.6 352.3 174.2 354.8 172.9 357.3 171.8 359.9Z" fill="#436db1"/>
<path d="M112.5 336.0 114.9 330.9 117.5 325.8 120.3 320.9 134.5 329.0 132.0 333.2 129.8 337.6 127.7 342.1Z" fill="#3e57a8"/>
<path d="M97.9 330.1 100.5 324.3 103.4 318.6 106.5 313.1 120.8 321.2 118.0 326.1 115.4 331.1 113.1 336.2Z" fill="#3e57a8"/>
<path d="M202.5 367.8 203.2 366.6 204.1 365.4 204.9 364.2 217.9 374.0 217.5 374.6 217.1 375.2 216.7 375.8Z" fill="#3b4ba1"/>
<path d="M147.4 336.9 149.7 333.3 152.1 329.8 154.7 326.4 167.7 336.2 165.6 339.0 163.6 341.9 161.7 344.9Z" fill="#4575b4"/>
<path d="M119.9 321.4 122.9 316.6 126.2 312.0 129.6 307.4 142.6 317.2 139.6 321.2 136.8 325.3 134.2 329.4Z" fill="#436db1"/>
<path d="M106.2 313.7 109.5 308.3 113.2 303.1 117.1 298.0 130.1 307.8 126.6 312.3 123.4 316.9 120.4 321.7Z" fill="#436db1"/>
<path d="M204.8 364.4 205.8 363.2 206.7 362.2 207.7 361.1 219.3 372.5 218.8 373.0 218.3 373.6 217.9 374.1Z" fill="#3e57a8"/>
<path d="M192.2 355.0 193.6 353.3 195.0 351.7 196.6 350.2 208.1 361.5 207.1 362.6 206.2 363.6 205.3 364.7Z" fill="#3e57a8"/>
<path d="M207.6 361.3 208.7 360.3 209.8 359.3 210.9 358.5 220.9 371.2 220.3 371.6 219.8 372.1 219.3 372.6Z" fill="#3e57a8"/>
<path d="M185.2 339.4 187.3 337.5 189.5 335.6 191.7 333.8 201.7 346.6 200.0 347.9 198.4 349.3 196.8 350.7Z" fill="#436db1"/>
<path d="M173.9 328.5 176.5 326.1 179.3 323.7 182.1 321.5 192.1 334.3 189.8 336.0 187.6 337.9 185.6 339.8Z" fill="#436db1"/>
<path d="M162.7 317.6 165.8 314.7 169.1 311.9 172.5 309.2 182.5 322.0 179.6 324.2 176.9 326.5 174.3 328.9Z" fill="#436db1"/>
<path d="M151.4 306.7 155.1 303.3 158.9 300.0 162.9 296.9 172.9 309.7 169.5 312.3 166.2 315.1 163.1 318.0Z" fill="#436db1"/>
<path d="M140.2 295.7 144.4 291.8 148.8 288.1 153.3 284.6 163.3 297.4 159.3 300.4 155.5 303.7 151.9 307.1Z" fill="#436db1"/>
<path d="M129.0 284.8 133.7 280.4 138.6 276.3 143.7 272.3 153.6 285.1 149.1 288.6 144.8 292.3 140.6 296.1Z" fill="#436db1"/>
<path d="M201.1 346.3 202.9 345.0 204.7 343.9 206.6 342.8 214.8 356.7 213.5 357.4 212.3 358.2 211.2 359.0Z" fill="#3e57a8"/>
<path d="M191.5 334.0 193.8 332.4 196.2 330.8 198.7 329.4 206.9 343.3 205.0 344.3 203.2 345.5 201.5 346.7Z" fill="#3e57a8"/>
<path d="M143.1 272.8 148.4 269.0 153.8 265.5 159.4 262.3 167.5 276.2 162.6 279.1 157.8 282.2 153.1 285.5Z" fill="#3b4ba1"/>
<path d="M190.5 316.1 193.7 314.4 196.9 312.9 200.3 311.5 206.5 326.3 203.8 327.4 201.3 328.7 198.7 330.0Z" fill="#436db1"/>
<path d="M218.1 354.4 219.5 353.9 220.9 353.5 222.3 353.1 226.5 368.6 225.8 368.8 225.1 369.0 224.4 369.2Z" fill="#3e57a8"/>
<path d="M206.0 325.9 208.7 324.9 211.4 324.0 214.2 323.2 218.4 338.7 216.3 339.3 214.3 339.9 212.3 340.7Z" fill="#436db1"/>
<path d="M199.9 311.6 203.3 310.4 206.7 309.2 210.2 308.3 214.4 323.7 211.6 324.5 208.9 325.4 206.2 326.4Z" fill="#436db1"/>
<path d="M193.8 297.4 197.9 295.8 202.0 294.5 206.2 293.3 210.3 308.8 206.9 309.8 203.5 310.9 200.1 312.2Z" fill="#436db1"/>
<path d="M187.7 283.1 192.4 281.3 197.3 279.7 202.1 278.4 206.3 293.9 202.2 295.0 198.1 296.4 194.0 297.9Z" fill="#436db1"/>
<path d="M181.6 268.8 187.0 266.8 192.5 265.0 198.1 263.5 202.3 278.9 197.4 280.3 192.6 281.8 187.9 283.6Z" fill="#436db1"/>
<path d="M175.6 254.6 181.6 252.3 187.8 250.3 194.1 248.5 198.2 264.0 192.7 265.5 187.2 267.3 181.9 269.3Z" fill="#436db1"/>
<path d="M213.9 323.3 216.7 322.6 219.6 322.1 222.5 321.7 224.5 337.5 222.4 337.8 220.3 338.2 218.2 338.7Z" fill="#3e57a8"/>
<path d="M193.3 248.7 199.7 247.2 206.1 246.0 212.5 245.0 214.6 260.9 208.9 261.7 203.2 262.8 197.6 264.2Z" fill="#3b4ba1"/>
<path d="M226.3 352.3 227.7 352.2 229.2 352.1 230.7 352.1 230.6 368.1 229.9 368.1 229.1 368.1 228.4 368.2Z" fill="#3e57a8"/>
<path d="M224.2 337.0 226.4 336.8 228.6 336.6 230.8 336.6 230.7 352.6 229.2 352.6 227.8 352.7 226.4 352.9Z" fill="#3e57a8"/>
<path d="M218.0 291.1 222.3 290.6 226.7 290.4 231.0 290.3 230.9 306.3 227.3 306.3 223.7 306.6 220.1 306.9Z" fill="#3b4ba1"/>
<path d="M215.9 275.8 221.0 275.2 226.0 274.9 231.1 274.8 231.0 290.8 226.7 290.9 222.4 291.2 218.1 291.6Z" fill="#3b4ba1"/>
<path d="M213.8 260.5 219.6 259.8 225.4 259.5 231.2 259.4 231.1 275.4 226.0 275.5 221.0 275.8 216.0 276.3Z" fill="#3b4ba1"/>
<path d="M211.8 245.1 218.2 244.5 224.7 244.1 231.3 243.9 231.2 259.9 225.4 260.0 219.6 260.4 213.9 261.0Z" fill="#3b4ba1"/>
<path d="M265.4 247.3 272.1 249.1 278.6 251.1 285.0 253.5 291.3 256.2 297.5 259.1 303.5 262.4 309.4 265.9 315.0 269.7 320.5 273.7 325.8 278.0 330.8 282.5 290.1 323.5 287.1 320.8 284.0 318.3 280.7 315.9 277.3 313.6 273.9 311.5 270.3 309.6 266.6 307.9 262.9 306.3 259.1 304.9 255.2 303.6 251.3 302.6Z" fill="#3b4ba1"/>
<path d="M260.8 302.5 264.9 304.1 269.0 305.9 272.9 307.8 276.7 310.0 280.4 312.3 284.0 314.8 287.5 317.5 276.5 330.3 273.7 328.1 270.8 326.1 267.8 324.2 264.7 322.5 261.5 320.9 258.3 319.5 255.0 318.2Z" fill="#3b4ba1"/>
<path d="M242.8 270.1 248.3 270.8 253.9 271.8 259.4 273.0 264.8 274.5 256.4 301.1 252.3 300.0 248.2 299.1 244.0 298.3 239.8 297.8Z" fill="#5088c6"/>
<path d="M246.0 276.1 250.5 276.8 255.0 277.7 259.4 278.8 254.9 294.9 251.2 294.0 247.4 293.2 243.6 292.7Z" fill="#6a9fd6"/>
<path d="M240.6 243.5 247.3 244.1 253.9 245.0 260.5 246.2 254.3 274.7 249.1 273.8 243.8 273.1 238.5 272.6Z" fill="#4575b4"/>
<path d="M230.5 243.1 235.5 243.2 240.6 243.5 245.6 243.9 239.8 297.8 236.7 297.5 233.6 297.4 230.5 297.3Z" fill="#4166ae"/>
<path d="M330.8 282.5 335.8 287.4 340.5 292.5 344.9 297.8 349.1 303.4 353.0 309.1 300.8 340.8 298.6 337.5 296.2 334.3 293.7 331.2 291.0 328.3 288.1 325.5Z" fill="#5088c6"/>
<path d="M329.6 287.2 334.1 291.8 338.4 296.5 342.4 301.5 301.3 331.6 298.7 328.5 296.0 325.5 293.2 322.6Z" fill="#6a9fd6"/>
<path d="M319.0 300.5 322.6 304.3 326.1 308.3 308.3 322.3 305.5 319.0 302.5 315.9Z" fill="#7db0de"/>
<path d="M353.0 309.1 356.4 314.7 359.6 320.5 362.4 326.4 311.5 348.4 309.7 344.8 307.8 341.3 305.7 337.8Z" fill="#4575b4"/>
<path d="M362.4 326.4 364.7 331.7 366.8 337.0 368.6 342.5 309.8 359.9 308.8 356.8 307.6 353.7 306.3 350.7Z" fill="#3b4ba1"/>
<path d="M368.6 342.5 370.2 347.8 371.5 353.1 372.6 358.5 373.5 364.0 308.4 372.9 307.9 369.9 307.3 367.0 306.6 364.0 305.7 361.1Z" fill="#4575b4"/>
<path d="M373.5 364.0 374.3 370.0 374.7 376.2 374.9 382.3 374.8 388.4 374.5 394.5 373.9 400.6 308.6 392.8 308.9 389.5 309.1 386.2 309.1 382.8 309.0 379.5 308.8 376.2 308.4 372.9Z" fill="#3b4ba1"/>
<path d="M291.8 333.5 293.9 336.0 295.9 338.6 297.8 341.3 299.6 344.1 301.2 347.0 276.0 360.0 274.9 358.2 273.8 356.4 272.6 354.7 271.3 353.0 269.9 351.3Z" fill="#3b4ba1"/>
<path d="M374.8 388.4 374.4 395.1 373.7 401.8 372.6 408.5 371.2 415.1 369.5 421.6 367.5 428.0 365.1 434.4 362.4 440.6 311.5 418.6 313.1 414.7 314.6 410.8 315.8 406.9 316.9 402.9 317.7 398.8 318.4 394.7 318.9 390.6 319.1 386.5Z" fill="#3b4ba1"/>
<path d="M362.4 440.6 359.5 446.7 356.2 452.6 352.6 458.4 348.8 464.0 303.1 432.9 305.5 429.5 307.7 425.9 309.7 422.3 311.5 418.6Z" fill="#4166ae"/>
<path d="M331.3 423.1 329.4 427.3 327.3 431.5 325.1 435.5 322.7 439.5 303.3 427.7 305.2 424.6 306.9 421.4 308.6 418.1 310.1 414.7Z" fill="#5088c6"/>
<path d="M279.0 458.9 275.6 460.9 272.0 462.8 268.5 464.5 264.8 466.0 257.3 447.9 260.2 446.7 263.0 445.4 265.7 444.0 268.4 442.4Z" fill="#3b4ba1"/>
<path d="M261.1 416.6 259.7 417.8 258.2 418.9 256.6 420.0 255.0 421.1 253.4 422.0 244.8 407.6 245.8 407.0 246.8 406.3 247.8 405.6 248.7 404.9 249.6 404.2Z" fill="#3b4ba1"/>
<path d="M348.8 464.0 344.6 469.6 340.1 475.0 335.3 480.1 330.2 485.1 324.9 489.7 319.4 494.1 300.9 471.1 305.3 467.6 309.5 463.9 313.5 460.0 317.3 456.0 320.9 451.7 324.2 447.3Z" fill="#4575b4"/>
<path d="M324.2 447.3 321.3 451.2 318.1 455.0 314.8 458.6 311.4 462.1 307.8 465.5 304.0 468.7 281.1 442.1 283.6 439.9 286.1 437.6 288.5 435.1 290.7 432.6 292.9 430.0 294.9 427.3Z" fill="#4166ae"/>
<path d="M319.4 494.1 313.6 498.3 307.6 502.2 301.4 505.8 295.0 509.1 288.5 512.1 281.8 514.7 275.0 517.1 268.1 519.0 261.1 520.7 254.0 522.0 246.8 523.0 239.7 523.6 232.4 523.9 225.2 523.8 218.0 523.4 210.9 522.6 203.7 521.5 196.7 520.0 189.7 518.2 182.8 516.0 176.1 513.5 169.5 510.7 187.0 474.2 191.7 476.2 196.5 478.0 201.4 479.5 206.4 480.8 211.4 481.8 216.5 482.6 221.6 483.2 226.7 483.5 231.9 483.6 237.0 483.4 242.2 482.9 247.3 482.2 252.3 481.3 257.3 480.1 262.2 478.7 267.1 477.0 271.9 475.2 276.5 473.0 281.1 470.7 285.5 468.1 289.8 465.3 293.9 462.4Z" fill="#4575b4"/>
<path d="M282.0 470.2 278.0 472.3 274.0 474.2 269.9 476.0 265.7 477.5 261.5 478.9 257.1 480.2 249.7 453.3 252.9 452.4 255.9 451.4 259.0 450.3 261.9 449.0 264.8 447.6 267.7 446.1Z" fill="#4166ae"/>
<path d="M260.1 490.9 255.1 492.1 250.0 493.1 244.8 493.8 239.7 494.3 234.5 494.6 233.2 459.9 236.8 459.7 240.4 459.3 243.9 458.8 247.4 458.2 250.9 457.3Z" fill="#3b4ba1"/>
<path d="M235.5 523.8 228.8 523.9 222.1 523.7 215.4 523.1 220.0 480.3 224.7 480.6 229.3 480.8 234.0 480.7Z" fill="#4166ae"/>
<path d="M217.8 501.0 211.9 500.3 206.1 499.2 200.3 497.9 194.6 496.4 188.9 494.5 200.2 464.5 204.3 465.8 208.5 467.0 212.7 467.9 216.9 468.7 221.2 469.2Z" fill="#4575b4"/>
<path d="M191.6 499.8 186.1 497.9 180.7 495.8 175.3 493.4 205.4 433.5 207.8 434.6 210.3 435.5 212.8 436.4Z" fill="#3b4ba1"/>
<path d="M167.2 509.7 161.2 506.7 155.4 503.4 149.7 499.9 144.3 496.1 139.0 492.1 133.9 487.8 177.9 440.3 180.6 442.6 183.5 444.8 186.5 446.9 189.6 448.8 192.8 450.6 196.0 452.2Z" fill="#4166ae"/>
<path d="M132.8 475.2 128.5 470.7 124.4 466.0 120.6 461.1 140.3 447.2 143.4 451.2 146.7 455.1 150.3 458.8Z" fill="#3b4ba1"/>
<path d="M211.9 433.1 209.7 432.3 207.5 431.4 205.4 430.4 203.3 429.2 201.3 428.0 199.3 426.8 209.2 413.1 210.5 414.0 211.9 414.8 213.3 415.6 214.8 416.3 216.3 416.9 217.8 417.5Z" fill="#6a9fd6"/>
<path d="M160.6 436.6 158.3 433.5 156.0 430.3 153.9 427.0 152.0 423.6 150.2 420.1 148.6 416.6 147.2 413.0 176.7 402.5 177.7 404.8 178.7 407.1 179.9 409.4 181.1 411.5 182.5 413.7 183.9 415.7 185.4 417.7Z" fill="#5088c6"/>
<path d="M110.8 462.0 106.8 456.0 103.2 449.9 100.0 443.6 97.0 437.1 94.4 430.5 92.1 423.8 90.2 416.9 88.7 410.0 87.5 403.0 137.0 396.3 137.8 400.8 138.8 405.3 140.1 409.8 141.6 414.2 143.3 418.5 145.2 422.8 147.3 426.9 149.7 430.9 152.3 434.8Z" fill="#4166ae"/>
<path d="M87.5 403.0 86.7 396.5 86.2 390.0 86.1 383.5 180.4 383.5 180.5 385.8 180.7 388.0 180.9 390.3Z" fill="#4166ae"/>
<path d="M86.1 383.5 86.2 377.8 86.5 372.1 87.1 366.4 187.9 378.4 187.7 380.1 187.6 381.8 187.6 383.5Z" fill="#3b4ba1"/>
<path d="M87.1 366.4 88.1 360.1 89.3 353.8 90.9 347.6 92.7 341.5 94.8 335.5 133.7 349.3 132.3 353.6 131.0 357.9 129.9 362.4 129.0 366.8 128.3 371.3Z" fill="#4575b4"/>
<path d="M94.8 335.5 97.1 329.8 99.6 324.2 102.4 318.7 105.4 313.3 156.2 341.8 154.4 345.0 152.7 348.3 151.2 351.6 149.9 355.0Z" fill="#4166ae"/>
<path d="M105.4 313.3 108.9 307.7 112.7 302.3 116.7 297.1 120.9 292.0 125.4 287.2 130.2 282.5 170.9 323.5 168.1 326.3 165.4 329.2 162.9 332.2 160.5 335.3 158.3 338.5 156.2 341.8Z" fill="#5088c6"/>
<path d="M110.8 305.0 114.8 299.5 119.1 294.2 123.6 289.1 128.4 284.2 165.8 320.6 162.8 323.7 159.9 326.9 157.2 330.3 154.6 333.8Z" fill="#6a9fd6"/>
<path d="M121.8 306.7 125.1 302.5 128.5 298.4 132.2 294.4 155.2 315.2 152.4 318.3 149.7 321.4 147.2 324.7Z" fill="#7db0de"/>
<path d="M130.2 282.5 134.6 278.5 139.2 274.7 144.0 271.1 148.9 267.7 154.0 264.4 183.5 310.4 180.4 312.4 177.4 314.5 174.5 316.7 171.6 319.1 168.9 321.5Z" fill="#4575b4"/>
<path d="M154.0 264.4 159.2 261.4 164.5 258.6 169.9 256.1 175.5 253.7 181.1 251.6 198.2 297.3 194.5 298.7 190.9 300.2 187.4 301.9 183.9 303.7 180.5 305.7Z" fill="#4166ae"/>
<path d="M184.0 259.4 190.0 257.4 196.1 255.8 202.3 254.3 214.1 308.7 210.6 309.5 207.1 310.5 203.6 311.7Z" fill="#4575b4"/>
<path d="M210.4 244.5 217.1 243.7 223.8 243.3 230.5 243.1 230.5 307.1 226.8 307.1 223.2 307.4 219.6 307.8Z" fill="#3b4ba1"/>
<path d="M161.1 344.6 163.0 341.6 165.0 338.7 167.2 335.9 169.4 333.2 171.8 330.6 174.3 328.0 176.9 325.7 196.1 346.3 194.4 347.9 192.8 349.5 191.2 351.1 189.8 352.9 188.4 354.7 187.1 356.6 185.9 358.5Z" fill="#3b4ba1"/>
<path d="M194.4 333.4 196.7 331.9 199.0 330.5 201.4 329.3 203.9 328.1 206.4 327.0 209.0 326.0 213.9 339.1 211.9 339.8 210.0 340.7 208.0 341.6 206.2 342.6 204.4 343.6 202.6 344.8Z" fill="#5088c6"/>
<path d="M172.0 322.5 175.1 319.8 178.3 317.3 181.6 315.0 185.0 312.8 197.2 331.6 194.6 333.2 192.2 335.0 189.8 336.8 187.6 338.8Z" fill="#3b4ba1"/>
<path d="M161.8 364.3 162.7 361.6 163.7 358.8 164.8 356.1 166.0 353.5 167.4 350.9 185.0 360.0 184.1 361.9 183.2 363.8 182.4 365.7 181.7 367.7 181.0 369.7Z" fill="#4575b4"/>
</g>
<g fill="none" stroke="#fffacd" stroke-width="1" shape-rendering="crispEdges"><ellipse cx="230.5" cy="383.5" rx="47.7" ry="46.3"/><ellipse cx="230.5" cy="383.5" rx="95.3" ry="92.7"/><ellipse cx="230.5" cy="383.5" rx="143.0" ry="139.0"/><path d="M87.5 383.5H373.5M230.5 244.5V522.5M230.5 383.5L330.2 283.8M230.5 383.5L330.2 483.2M230.5 383.5L130.8 483.2M230.5 383.5L130.8 283.8"/></g>
<path d="M230.5 383.5L312.5 301.5" stroke="#ffa500" stroke-width="1" shape-rendering="crispEdges"/>
<g fill="#ffa500"><circle cx="311.8" cy="292.5" r="5.6"/><circle cx="314.2" cy="301" r="4.5"/><circle cx="310.8" cy="297" r="3.8"/><circle cx="245.5" cy="261.5" r="3.6"/></g>
<path d="M198.0 254.5h7M201.5 251.0v7M206.0 269.5h7M209.5 266.0v7M214.0 274.5h7M217.5 271.0v7M237.0 269.5h7M240.5 266.0v7M178.0 285.5h7M181.5 282.0v7M177.0 290.5h7M180.5 287.0v7M129.0 284.5h7M132.5 281.0v7M114.0 307.5h7M117.5 304.0v7M129.0 323.5h7M132.5 320.0v7M125.0 332.5h7M128.5 329.0v7M98.0 336.5h7M101.5 333.0v7M123.0 338.5h7M126.5 335.0v7M133.0 339.5h7M136.5 336.0v7M151.0 335.5h7M154.5 332.0v7M168.0 332.5h7M171.5 329.0v7M160.0 318.5h7M163.5 315.0v7M191.0 318.5h7M194.5 315.0v7M133.0 344.5h7M136.5 341.0v7M107.0 349.5h7M110.5 346.0v7M114.0 347.5h7M117.5 344.0v7M109.0 351.5h7M112.5 348.0v7M93.0 357.5h7M96.5 354.0v7M173.0 365.5h7M176.5 362.0v7M214.0 381.5h7M217.5 378.0v7M218.0 305.5h7M221.5 302.0v7M218.0 310.5h7M221.5 307.0v7M223.0 307.5h7M226.5 304.0v7M234.0 308.5h7M237.5 305.0v7M230.0 333.5h7M233.5 330.0v7M239.0 353.5h7M242.5 350.0v7M309.0 278.5h7M312.5 275.0v7M327.0 301.5h7M330.5 298.0v7M257.0 304.5h7M260.5 301.0v7M257.0 310.5h7M260.5 307.0v7M279.0 326.5h7M282.5 323.0v7M285.0 365.5h7M288.5 362.0v7M268.0 389.5h7M271.5 386.0v7M325.0 393.5h7M328.5 390.0v7M124.0 415.5h7M127.5 412.0v7M104.0 435.5h7M107.5 432.0v7M125.0 442.5h7M128.5 439.0v7M130.0 450.5h7M133.5 447.0v7M114.0 460.5h7M117.5 457.0v7M118.0 468.5h7M121.5 465.0v7M157.0 451.5h7M160.5 448.0v7M179.0 449.5h7M182.5 446.0v7M155.0 490.5h7M158.5 487.0v7M170.0 421.5h7M173.5 418.0v7M182.0 422.5h7M185.5 419.0v7M187.0 407.5h7M190.5 404.0v7M199.0 402.5h7M202.5 399.0v7M205.0 397.5h7M208.5 394.0v7M201.0 416.5h7M204.5 413.0v7M248.0 404.5h7M251.5 401.0v7M270.0 407.5h7M273.5 404.0v7M297.0 407.5h7M300.5 404.0v7M270.0 425.5h7M273.5 422.0v7M288.0 429.5h7M291.5 426.0v7M253.0 478.5h7M256.5 475.0v7M282.0 483.5h7M285.5 480.0v7M273.0 488.5h7M276.5 485.0v7M302.0 493.5h7M305.5 490.0v7M116.0 461.5h7M119.5 458.0v7" stroke="#00ff00" stroke-width="1" fill="none" shape-rendering="crispEdges"/>
<g class="sv" fill="#00ff00" stroke="#00ff00" stroke-width="0.3" font-size="13.2">
<text x="188.4" y="245.3" textLength="25.0" lengthAdjust="spacingAndGlyphs">R23</text>
<text x="195.2" y="261.0" textLength="29.0" lengthAdjust="spacingAndGlyphs">J198</text>
<text x="202.6" y="265.5" textLength="29.0" lengthAdjust="spacingAndGlyphs">J195</text>
<text x="228.4" y="261.0" textLength="26.0" lengthAdjust="spacingAndGlyphs">G11</text>
<text x="168.1" y="277.2" textLength="26.0" lengthAdjust="spacingAndGlyphs">G48</text>
<text x="167.1" y="281.7" textLength="26.0" lengthAdjust="spacingAndGlyphs">G13</text>
<text x="120.2" y="276.0" textLength="25.0" lengthAdjust="spacingAndGlyphs">E27</text>
<text x="104.2" y="298.9" textLength="25.0" lengthAdjust="spacingAndGlyphs">R01</text>
<text x="119.2" y="315.1" textLength="25.0" lengthAdjust="spacingAndGlyphs">C10</text>
<text x="115.0" y="323.5" textLength="26.0" lengthAdjust="spacingAndGlyphs">G15</text>
<text x="88.4" y="328.0" textLength="25.0" lengthAdjust="spacingAndGlyphs">C52</text>
<text x="111.9" y="329.3" textLength="29.0" lengthAdjust="spacingAndGlyphs">J200</text>
<text x="123.6" y="330.2" textLength="25.0" lengthAdjust="spacingAndGlyphs">C09</text>
<text x="141.6" y="327.2" textLength="25.0" lengthAdjust="spacingAndGlyphs">C07</text>
<text x="158.6" y="323.7" textLength="26.0" lengthAdjust="spacingAndGlyphs">G40</text>
<text x="150.4" y="309.9" textLength="25.0" lengthAdjust="spacingAndGlyphs">C03</text>
<text x="180.0" y="309.9" textLength="29.0" lengthAdjust="spacingAndGlyphs">J199</text>
<text x="123.6" y="335.7" textLength="25.0" lengthAdjust="spacingAndGlyphs">C56</text>
<text x="97.3" y="340.1" textLength="25.0" lengthAdjust="spacingAndGlyphs">E36</text>
<text x="104.6" y="339.2" textLength="25.0" lengthAdjust="spacingAndGlyphs">C60</text>
<text x="99.6" y="342.7" textLength="26.0" lengthAdjust="spacingAndGlyphs">G02</text>
<text x="83.4" y="348.7" textLength="25.0" lengthAdjust="spacingAndGlyphs">C41</text>
<text x="163.4" y="356.7" textLength="25.0" lengthAdjust="spacingAndGlyphs">E08</text>
<text x="204.2" y="373.0" textLength="25.0" lengthAdjust="spacingAndGlyphs">C39</text>
<text x="208.4" y="296.7" textLength="25.0" lengthAdjust="spacingAndGlyphs">C58</text>
<text x="208.6" y="301.7" textLength="25.0" lengthAdjust="spacingAndGlyphs">C11</text>
<text x="213.6" y="298.7" textLength="25.0" lengthAdjust="spacingAndGlyphs">C14</text>
<text x="224.6" y="300.2" textLength="25.0" lengthAdjust="spacingAndGlyphs">C61</text>
<text x="221.1" y="324.5" textLength="25.0" lengthAdjust="spacingAndGlyphs">E03</text>
<text x="229.6" y="343.9" textLength="25.0" lengthAdjust="spacingAndGlyphs">C34</text>
<text x="300.4" y="268.2" textLength="26.0" lengthAdjust="spacingAndGlyphs">G30</text>
<text x="318.6" y="292.7" textLength="25.0" lengthAdjust="spacingAndGlyphs">E05</text>
<text x="248.8" y="294.7" textLength="25.0" lengthAdjust="spacingAndGlyphs">C04</text>
<text x="248.8" y="300.1" textLength="25.0" lengthAdjust="spacingAndGlyphs">C62</text>
<text x="270.6" y="317.2" textLength="26.0" lengthAdjust="spacingAndGlyphs">G06</text>
<text x="276.3" y="356.4" textLength="25.0" lengthAdjust="spacingAndGlyphs">C24</text>
<text x="258.1" y="381.0" textLength="25.0" lengthAdjust="spacingAndGlyphs">C12</text>
<text x="316.5" y="384.1" textLength="26.0" lengthAdjust="spacingAndGlyphs">G14</text>
<text x="115.4" y="406.2" textLength="26.0" lengthAdjust="spacingAndGlyphs">G12</text>
<text x="95.9" y="426.4" textLength="25.0" lengthAdjust="spacingAndGlyphs">E07</text>
<text x="115.4" y="433.9" textLength="25.0" lengthAdjust="spacingAndGlyphs">C26</text>
<text x="120.2" y="441.6" textLength="25.0" lengthAdjust="spacingAndGlyphs">C23</text>
<text x="102.9" y="452.0" textLength="29.0" lengthAdjust="spacingAndGlyphs">J199</text>
<text x="109.8" y="458.9" textLength="25.0" lengthAdjust="spacingAndGlyphs">C32</text>
<text x="147.9" y="441.6" textLength="25.0" lengthAdjust="spacingAndGlyphs">C58</text>
<text x="171.3" y="440.1" textLength="25.0" lengthAdjust="spacingAndGlyphs">R12</text>
<text x="146.6" y="480.5" textLength="25.0" lengthAdjust="spacingAndGlyphs">R02</text>
<text x="161.3" y="412.4" textLength="26.0" lengthAdjust="spacingAndGlyphs">G26</text>
<text x="173.4" y="412.4" textLength="25.0" lengthAdjust="spacingAndGlyphs">C09</text>
<text x="177.1" y="398.9" textLength="25.0" lengthAdjust="spacingAndGlyphs">E30</text>
<text x="189.6" y="393.7" textLength="25.0" lengthAdjust="spacingAndGlyphs">C06</text>
<text x="196.3" y="388.5" textLength="25.0" lengthAdjust="spacingAndGlyphs">C16</text>
<text x="191.1" y="406.7" textLength="25.0" lengthAdjust="spacingAndGlyphs">C25</text>
<text x="239.4" y="395.1" textLength="26.0" lengthAdjust="spacingAndGlyphs">G19</text>
<text x="262.3" y="398.9" textLength="25.0" lengthAdjust="spacingAndGlyphs">R21</text>
<text x="288.4" y="398.5" textLength="26.0" lengthAdjust="spacingAndGlyphs">G22</text>
<text x="261.3" y="416.0" textLength="26.0" lengthAdjust="spacingAndGlyphs">G17</text>
<text x="279.6" y="420.3" textLength="25.0" lengthAdjust="spacingAndGlyphs">C44</text>
<text x="244.6" y="469.3" textLength="25.0" lengthAdjust="spacingAndGlyphs">E02</text>
<text x="273.4" y="473.9" textLength="25.0" lengthAdjust="spacingAndGlyphs">R28</text>
<text x="264.4" y="479.1" textLength="25.0" lengthAdjust="spacingAndGlyphs">E27</text>
<text x="293.6" y="483.9" textLength="26.0" lengthAdjust="spacingAndGlyphs">G01</text>
</g>
<text x="484.4" y="305.9" fill="#fffacd" font-size="16.6" textLength="10.2" lengthAdjust="spacingAndGlyphs">0</text>
<text x="468.5" y="332.9" fill="#fffacd" font-size="16.6" textLength="26.1" lengthAdjust="spacingAndGlyphs">-20</text>
<text x="468.5" y="358.9" fill="#fffacd" font-size="16.6" textLength="26.1" lengthAdjust="spacingAndGlyphs">-40</text>
<text x="468.5" y="385.9" fill="#fffacd" font-size="16.6" textLength="26.1" lengthAdjust="spacingAndGlyphs">-60</text>
<text x="468.5" y="411.9" fill="#fffacd" font-size="16.6" textLength="26.1" lengthAdjust="spacingAndGlyphs">-80</text>
<text x="458.3" y="438.9" fill="#fffacd" font-size="16.6" textLength="36.3" lengthAdjust="spacingAndGlyphs">-100</text>
<text x="458.3" y="464.9" fill="#fffacd" font-size="16.6" textLength="36.3" lengthAdjust="spacingAndGlyphs">-120</text>
<text x="393.8" y="382.0" fill="#fffacd" font-size="16.6" textLength="86.4" lengthAdjust="spacingAndGlyphs" transform="rotate(-90 437.0 382.0)">PSD (dBm)</text>
<text x="468.0" y="472.0" fill="#fffacd" font-size="16.6" textLength="71.9" lengthAdjust="spacingAndGlyphs">19:22:40</text>
<text x="534.7" y="483.6" fill="#fffacd" font-size="16.6" textLength="71.9" lengthAdjust="spacingAndGlyphs">19:23:00</text>
<text x="601.4" y="495.2" fill="#fffacd" font-size="16.6" textLength="71.9" lengthAdjust="spacingAndGlyphs">19:23:20</text>
<text x="668.1" y="506.8" fill="#fffacd" font-size="16.6" textLength="71.9" lengthAdjust="spacingAndGlyphs">19:23:40</text>
<text x="734.8" y="518.4" fill="#fffacd" font-size="16.6" textLength="71.9" lengthAdjust="spacingAndGlyphs">19:24:00</text>
<text x="552.7" y="511.8" fill="#fffacd" font-size="16.6" textLength="88.4" lengthAdjust="spacingAndGlyphs" transform="rotate(10 596.9 511.8)">Time (UTC)</text>
<text x="796.0" y="515.0" fill="#fffacd" font-size="16.6" textLength="40.7" lengthAdjust="spacingAndGlyphs">1210</text>
<text x="817.9" y="503.6" fill="#fffacd" font-size="16.6" textLength="40.7" lengthAdjust="spacingAndGlyphs">1215</text>
<text x="839.9" y="492.2" fill="#fffacd" font-size="16.6" textLength="40.7" lengthAdjust="spacingAndGlyphs">1220</text>
<text x="861.8" y="480.7" fill="#fffacd" font-size="16.6" textLength="40.7" lengthAdjust="spacingAndGlyphs">1225</text>
<text x="883.7" y="469.3" fill="#fffacd" font-size="16.6" textLength="40.7" lengthAdjust="spacingAndGlyphs">1230</text>
<text x="905.6" y="457.9" fill="#fffacd" font-size="16.6" textLength="40.7" lengthAdjust="spacingAndGlyphs">1235</text>
<text x="927.6" y="446.5" fill="#fffacd" font-size="16.6" textLength="40.7" lengthAdjust="spacingAndGlyphs">1240</text>
<text x="949.5" y="435.1" fill="#fffacd" font-size="16.6" textLength="40.7" lengthAdjust="spacingAndGlyphs">1245</text>
<text x="864.3" y="484.5" fill="#fffacd" font-size="16.6" textLength="134.5" lengthAdjust="spacingAndGlyphs" transform="rotate(-27 931.5 484.5)">Frequency (MHz)</text>
<path d="M511.5 302.5V461.5M511.5 302.5h8M511.5 329.5h8M511.5 355.5h8M511.5 382.5h8M511.5 408.5h8M511.5 435.5h8M511.5 461.5h8M511.5 461.5L667.6 382.8L933.4 428.2L777.3 506.9ZM511.5 461.5l5.4 -2.7M667.6 382.8l-5.4 2.7M544.7 467.2l3.1 -1.6M700.8 388.5l-3.1 1.6M578.0 472.9l5.4 -2.7M734.1 394.2l-5.4 2.7M611.2 478.5l3.1 -1.6M767.3 399.8l-3.1 1.6M644.4 484.2l5.4 -2.7M800.5 405.5l-5.4 2.7M677.6 489.9l3.1 -1.6M833.7 411.2l-3.1 1.6M710.8 495.5l5.4 -2.7M866.9 416.8l-5.4 2.7M744.1 501.2l3.1 -1.6M900.2 422.5l-3.1 1.6M777.3 506.9l5.4 -2.7M933.4 428.2l-5.4 2.7M779.2 506.0l-7.9 -1.3M513.4 460.6l7.9 1.3M801.0 494.9l-7.9 -1.3M535.2 449.5l7.9 1.3M822.9 483.9l-7.9 -1.3M557.1 438.5l7.9 1.3M844.7 472.9l-7.9 -1.3M578.9 427.5l7.9 1.3M866.6 461.9l-7.9 -1.3M600.8 416.5l7.9 1.3M888.4 450.9l-7.9 -1.3M622.6 405.5l7.9 1.3M910.3 439.8l-7.9 -1.3M644.5 394.4l7.9 1.3M932.2 428.8l-7.9 -1.3M666.4 383.4l7.9 1.3" fill="none" stroke="#fffacd" stroke-width="1.15"/>
<defs><clipPath id="wfc"><path d="M583.5 411.1 584.5 411.0 585.5 407.2 586.5 410.1 587.5 408.5 588.5 405.2 589.5 406.7 590.5 404.9 591.5 406.1 592.5 404.3 593.5 405.0 594.5 400.6 595.5 400.9 596.5 398.7 597.5 400.3 598.5 397.8 599.5 397.8 600.5 394.4 601.5 393.1 602.5 385.8 603.5 377.3 604.5 370.1 605.5 365.5 606.5 361.7 607.5 359.0 608.5 355.2 609.5 355.6 610.5 356.6 611.5 355.0 612.5 355.4 613.5 353.9 614.5 352.3 615.5 352.2 616.5 352.2 617.5 352.6 618.5 352.0 619.5 348.7 620.5 350.4 621.5 347.7 622.5 347.9 623.5 348.1 624.5 343.8 625.5 344.1 626.5 345.8 627.5 344.1 628.5 343.4 629.5 343.6 630.5 342.9 631.5 339.7 632.5 341.4 633.5 338.2 634.5 339.2 635.5 339.9 636.5 339.0 637.5 338.2 638.5 338.8 639.5 336.4 640.5 335.6 641.5 334.1 642.5 336.3 643.5 335.5 644.5 336.1 645.5 336.2 646.5 333.9 647.5 335.0 648.5 334.1 649.5 334.2 650.5 334.3 651.5 333.4 652.5 333.0 653.5 331.1 654.5 330.7 655.5 330.8 656.5 330.4 657.5 331.5 658.5 329.1 659.5 329.7 660.5 328.3 661.5 329.9 662.5 328.5 663.5 329.0 664.5 325.0 665.5 328.2 666.5 327.2 667.5 326.8 668.5 326.8 669.5 325.9 670.5 324.4 671.5 324.0 672.5 323.1 673.5 323.6 674.5 320.5 675.5 319.7 676.5 320.5 677.5 319.2 678.5 317.3 679.5 318.7 680.5 319.4 681.5 318.6 682.5 318.2 683.5 316.4 684.5 318.6 685.5 318.3 686.5 317.0 687.5 315.7 688.5 316.4 689.5 316.1 690.5 315.2 691.5 313.9 692.5 317.8 693.5 316.1 694.5 318.4 695.5 318.8 696.5 316.6 697.5 318.4 698.5 318.7 699.5 319.0 700.5 318.7 701.5 320.4 702.5 320.6 703.5 319.2 704.5 319.4 705.5 319.5 706.5 320.3 707.5 319.1 708.5 320.4 709.5 319.3 710.5 316.5 711.5 318.9 712.5 318.7 713.5 318.5 714.5 318.3 715.5 316.7 716.5 316.7 717.5 319.4 718.5 318.6 719.5 319.8 720.5 316.4 721.5 319.1 722.5 317.8 723.5 318.0 724.5 319.2 725.5 318.9 726.5 320.1 727.5 320.8 728.5 321.1 729.5 319.3 730.5 320.1 731.5 320.3 732.5 320.6 733.5 322.8 734.5 321.1 735.5 323.3 736.5 322.6 737.5 323.6 738.5 321.6 739.5 320.0 740.5 321.1 741.5 321.6 742.5 322.1 743.5 322.1 744.5 322.6 745.5 322.6 746.5 322.1 747.5 322.6 748.5 323.6 749.5 321.6 750.5 323.0 751.5 324.5 752.5 324.9 753.5 325.3 754.5 325.7 755.5 322.6 756.5 326.6 757.5 325.0 758.5 323.9 759.5 325.3 760.5 325.0 761.5 324.3 762.5 322.9 763.5 326.3 764.5 326.0 765.5 323.3 766.5 321.9 767.5 323.8 768.5 321.4 769.5 322.3 770.5 324.7 771.5 320.9 772.5 321.8 773.5 323.2 774.5 324.0 775.5 323.8 776.5 322.7 777.5 323.5 778.5 323.3 779.5 321.7 780.5 323.0 781.5 322.8 782.5 322.7 783.5 322.0 784.5 321.8 785.5 321.6 786.5 321.5 787.5 320.8 788.5 322.7 789.5 321.6 790.5 322.5 791.5 323.8 792.5 324.2 793.5 325.6 794.5 323.5 795.5 326.1 796.5 324.2 797.5 324.8 798.5 324.5 799.5 324.1 800.5 323.4 801.5 322.2 802.5 324.1 803.5 324.4 804.5 325.8 805.5 322.5 806.5 325.4 807.5 325.8 808.5 324.6 809.5 326.0 810.5 325.3 811.5 327.2 812.5 326.5 813.5 326.8 814.5 328.4 815.5 328.1 816.5 327.2 817.5 329.3 818.5 329.4 819.5 328.6 820.5 328.7 821.5 327.8 822.5 327.4 823.5 326.5 824.5 327.6 825.5 329.0 826.5 328.4 827.5 328.9 828.5 327.3 829.5 326.2 830.5 329.7 831.5 328.7 832.5 327.6 833.5 329.5 834.5 328.4 835.5 329.3 836.5 329.0 837.5 332.5 838.5 334.4 839.5 335.2 840.5 337.4 841.5 336.2 842.5 337.9 843.5 336.1 844.5 336.8 845.5 337.5 846.5 341.8 847.5 340.9 848.5 343.1 849.5 343.8 850.5 343.9 851.5 345.1 852.5 345.3 853.5 346.2 854.5 347.1 855.5 349.0 856.5 349.4 857.5 351.8 858.5 352.2 859.5 352.7 860.5 354.9 861.5 354.6 862.5 354.7 863.5 357.4 864.5 358.6 865.5 358.2 866.5 357.8 867.5 358.4 868.5 359.4 869.5 357.5 870.5 359.6 871.5 358.7 872.5 358.7 873.5 358.8 874.5 356.3 875.5 358.5 876.5 358.2 877.5 359.4 878.5 358.2 879.5 359.9 880.5 359.7 881.5 361.4 882.5 358.1 883.5 360.9 884.5 359.7 885.5 361.9 886.5 359.3 887.5 360.5 888.5 364.4 889.5 365.1 890.5 367.9 891.5 367.1 892.5 374.1 893.5 379.1 894.5 384.1 895.5 384.8 896.5 385.5 897.5 389.2 898.5 389.4 899.5 389.7 900.5 389.6 901.5 389.4 902.5 385.6 903.5 387.5 904.5 385.2 905.5 386.7 906.5 387.5 907.5 387.8 908.5 388.1 909.5 384.3 910.5 385.8 911.5 391.3 912.5 391.6 913.5 394.0 L913.5 400.5 912.5 399.6 911.5 398.4 910.5 398.1 909.5 398.1 908.5 402.6 907.5 405.1 906.5 404.2 905.5 402.1 904.5 403.2 903.5 405.0 902.5 408.6 901.5 408.5 900.5 408.7 899.5 406.4 898.5 406.5 897.5 408.2 896.5 411.1 895.5 409.9 894.5 410.7 893.5 408.5 892.5 411.1 891.5 406.7 890.5 408.6 889.5 405.3 888.5 402.6 887.5 405.1 886.5 404.4 885.5 406.6 884.5 405.0 883.5 406.3 882.5 403.3 881.5 403.7 880.5 400.8 879.5 401.3 878.5 400.2 877.5 401.2 876.5 402.9 875.5 404.6 874.5 405.0 873.5 404.6 872.5 404.3 871.5 400.9 870.5 397.5 869.5 395.4 868.5 392.9 867.5 393.0 866.5 391.6 865.5 394.4 864.5 392.2 863.5 394.3 862.5 389.4 861.5 389.2 860.5 386.9 859.5 385.7 858.5 387.8 857.5 388.5 856.5 388.4 855.5 387.7 854.5 386.5 853.5 383.7 852.5 385.2 851.5 385.0 850.5 383.0 849.5 385.8 848.5 387.1 847.5 389.5 846.5 390.3 845.5 387.6 844.5 389.1 843.5 389.8 842.5 391.2 841.5 390.2 840.5 392.1 839.5 392.9 838.5 394.6 837.5 394.1 836.5 393.5 835.5 394.9 834.5 395.3 833.5 394.8 832.5 397.4 831.5 399.3 830.5 396.9 829.5 397.4 828.5 396.2 827.5 399.9 826.5 399.3 825.5 399.8 824.5 401.9 823.5 398.8 822.5 400.6 821.5 399.8 820.5 400.9 819.5 402.1 818.5 402.2 817.5 406.4 816.5 407.8 815.5 406.7 814.5 409.1 813.5 408.5 812.5 406.7 811.5 405.6 810.5 405.6 809.5 404.4 808.5 405.0 807.5 407.5 806.5 409.0 805.5 408.7 804.5 410.3 803.5 413.3 802.5 412.2 801.5 411.1 800.5 416.0 799.5 418.1 798.5 422.1 797.5 429.5 796.5 436.2 795.5 442.4 794.5 446.1 793.5 450.6 792.5 454.7 791.5 458.7 790.5 460.3 789.5 465.2 788.5 465.6 787.5 464.3 786.5 463.6 785.5 463.0 784.5 461.3 783.5 460.8 782.5 462.7 781.5 464.7 780.5 466.6 779.5 464.2 778.5 466.6 777.5 466.2 776.5 465.3 775.5 466.7 774.5 466.8 773.5 465.7 772.5 462.8 771.5 465.4 770.5 466.2 769.5 467.6 768.5 469.1 767.5 466.8 766.5 464.9 765.5 466.1 764.5 464.2 763.5 466.0 762.5 465.3 761.5 465.3 760.5 462.3 759.5 461.6 758.5 462.3 757.5 462.4 756.5 463.9 755.5 465.7 754.5 466.9 753.5 467.5 752.5 465.0 751.5 461.0 750.5 457.5 749.5 454.7 748.5 451.8 747.5 452.3 746.5 453.4 745.5 452.7 744.5 451.5 743.5 451.4 742.5 452.8 741.5 449.1 740.5 449.6 739.5 448.8 738.5 445.7 737.5 446.1 736.5 444.8 735.5 443.6 734.5 446.6 733.5 447.5 732.5 446.7 731.5 444.4 730.5 443.1 729.5 440.3 728.5 438.5 727.5 436.9 726.5 436.3 725.5 435.3 724.5 434.9 723.5 434.7 722.5 438.1 721.5 437.5 720.5 433.6 719.5 433.9 718.5 431.2 717.5 431.2 716.5 432.5 715.5 433.8 714.5 435.7 713.5 435.4 712.5 435.3 711.5 433.9 710.5 434.1 709.5 432.3 708.5 434.6 707.5 436.6 706.5 436.4 705.5 440.5 704.5 440.4 703.5 438.6 702.5 436.1 701.5 435.4 700.5 434.3 699.5 434.3 698.5 432.0 697.5 432.9 696.5 430.2 695.5 431.1 694.5 429.3 693.5 428.1 692.5 433.0 691.5 435.2 690.5 436.7 689.5 433.5 688.5 431.2 687.5 431.7 686.5 431.1 685.5 429.9 684.5 429.5 683.5 431.5 682.5 432.1 681.5 433.7 680.5 433.3 679.5 434.7 678.5 432.3 677.5 431.6 676.5 432.3 675.5 432.4 674.5 431.4 673.5 433.0 672.5 431.6 671.5 430.7 670.5 431.1 669.5 432.3 668.5 433.2 667.5 437.0 666.5 438.8 665.5 441.2 664.5 441.0 663.5 441.3 662.5 437.5 661.5 435.6 660.5 431.9 659.5 431.3 658.5 433.8 657.5 436.9 656.5 437.0 655.5 436.9 654.5 439.0 653.5 439.6 652.5 438.5 651.5 437.3 650.5 435.6 649.5 435.1 648.5 432.6 647.5 433.3 646.5 431.1 645.5 431.0 644.5 432.0 643.5 428.3 642.5 426.1 641.5 423.3 640.5 422.1 639.5 426.3 638.5 428.5 637.5 428.9 636.5 428.2 635.5 430.4 634.5 427.8 633.5 428.3 632.5 424.5 631.5 425.7 630.5 425.4 629.5 426.8 628.5 427.3 627.5 428.4 626.5 430.0 625.5 431.6 624.5 428.9 623.5 429.2 622.5 429.2 621.5 431.1 620.5 430.6 619.5 433.1 618.5 435.1 617.5 435.1 616.5 435.2 615.5 433.6 614.5 431.7 613.5 432.8 612.5 433.7 611.5 433.7 610.5 434.8 609.5 435.9 608.5 438.6 607.5 437.2 606.5 435.1 605.5 432.3 604.5 432.3 603.5 435.4 602.5 436.1 601.5 437.1 600.5 435.8 599.5 434.3 598.5 430.3 597.5 432.0 596.5 434.8 595.5 432.0 594.5 432.3 593.5 428.3 592.5 428.9 591.5 429.5 590.5 429.1 589.5 429.2 588.5 428.5 587.5 425.6 586.5 421.5 585.5 419.9 584.5 414.7 583.5 412.1Z"/></clipPath><radialGradient id="crm" gradientUnits="userSpaceOnUse" cx="0" cy="0" r="1" gradientTransform="translate(752 346) rotate(-9) scale(150 31)"><stop offset="0" stop-color="#fcefcf" stop-opacity="1"/><stop offset="0.45" stop-color="#fbf0d3" stop-opacity="0.85"/><stop offset="1" stop-color="#f4f2e0" stop-opacity="0"/></radialGradient></defs>
<g clip-path="url(#wfc)">
<filter id="wfb" x="560" y="290" width="380" height="210" filterUnits="userSpaceOnUse"><feGaussianBlur stdDeviation="0.7 2"/></filter>
<g filter="url(#wfb)">
<rect x="560" y="290" width="380" height="210" fill="rgb(230, 243, 243)"/>
<path d="M583.5 411.1 584.5 411.0 585.5 407.2 586.5 410.1 587.5 408.5 588.5 405.2 589.5 406.7 590.5 404.9 591.5 406.1 592.5 404.3 593.5 405.0 594.5 400.6 595.5 400.9 596.5 398.7 597.5 400.3 598.5 397.8 599.5 397.8 600.5 394.4 601.5 393.1 602.5 385.8 603.5 377.3 604.5 370.1 605.5 365.5 606.5 361.7 607.5 359.0 608.5 355.2 609.5 355.6 610.5 356.6 611.5 355.0 612.5 355.4 613.5 353.9 614.5 352.3 615.5 352.2 616.5 352.2 617.5 352.6 618.5 352.2 619.5 348.7 620.5 350.6 621.5 348.0 622.5 347.9 623.5 349.2 624.5 348.8 625.5 345.8 626.5 350.7 627.5 347.1 628.5 348.4 629.5 350.5 630.5 348.2 631.5 349.1 632.5 349.4 633.5 349.2 634.5 347.8 635.5 348.0 636.5 346.8 637.5 346.3 638.5 344.1 639.5 344.4 640.5 345.4 641.5 342.7 642.5 345.0 643.5 350.1 644.5 348.3 645.5 348.6 646.5 345.3 647.5 350.2 648.5 344.1 649.5 344.8 650.5 346.5 651.5 345.3 652.5 345.3 653.5 342.0 654.5 345.6 655.5 341.7 656.5 345.2 657.5 344.0 658.5 341.5 659.5 340.8 660.5 340.9 661.5 346.3 662.5 344.6 663.5 346.5 664.5 344.9 665.5 347.1 666.5 345.0 667.5 347.1 668.5 345.8 669.5 339.2 670.5 341.2 671.5 339.8 672.5 337.4 673.5 344.5 674.5 338.2 675.5 336.3 676.5 342.8 677.5 337.5 678.5 337.5 679.5 343.5 680.5 338.7 681.5 342.7 682.5 341.4 683.5 331.8 684.5 335.8 685.5 331.6 686.5 337.0 687.5 332.7 688.5 336.9 689.5 340.7 690.5 339.8 691.5 336.5 692.5 338.7 693.5 339.1 694.5 339.3 695.5 341.6 696.5 345.5 697.5 348.2 698.5 346.4 699.5 351.0 700.5 351.3 701.5 352.0 702.5 351.9 703.5 351.3 704.5 352.0 705.5 353.1 706.5 354.6 707.5 356.5 708.5 357.0 709.5 352.2 710.5 355.4 711.5 354.7 712.5 351.9 713.5 356.7 714.5 351.4 715.5 353.1 716.5 351.5 717.5 355.5 718.5 355.2 719.5 358.0 720.5 354.8 721.5 354.0 722.5 351.5 723.5 350.6 724.5 356.9 725.5 351.6 726.5 350.8 727.5 351.2 728.5 352.1 729.5 349.7 730.5 354.5 731.5 348.9 732.5 352.4 733.5 356.1 734.5 352.1 735.5 350.6 736.5 352.5 737.5 353.4 738.5 350.7 739.5 353.5 740.5 351.4 741.5 358.1 742.5 354.6 743.5 350.7 744.5 355.4 745.5 357.3 746.5 354.1 747.5 357.9 748.5 359.6 749.5 359.5 750.5 361.3 751.5 359.4 752.5 362.3 753.5 355.0 754.5 358.5 755.5 360.5 756.5 358.1 757.5 353.0 758.5 351.7 759.5 352.7 760.5 352.0 761.5 354.3 762.5 351.9 763.5 361.2 764.5 359.6 765.5 353.0 766.5 357.1 767.5 354.6 768.5 354.3 769.5 354.8 770.5 355.3 771.5 352.6 772.5 356.9 773.5 354.5 774.5 355.9 775.5 352.6 776.5 357.3 777.5 354.9 778.5 354.4 779.5 360.6 780.5 360.6 781.5 356.3 782.5 356.2 783.5 356.3 784.5 360.4 785.5 360.6 786.5 361.9 787.5 360.8 788.5 357.4 789.5 353.9 790.5 359.5 791.5 359.5 792.5 354.4 793.5 356.9 794.5 355.4 795.5 361.1 796.5 360.6 797.5 362.6 798.5 362.9 799.5 361.3 800.5 359.8 801.5 356.7 802.5 361.5 803.5 364.2 804.5 361.1 805.5 360.2 806.5 364.3 807.5 361.3 808.5 363.0 809.5 361.7 810.5 362.8 811.5 366.7 812.5 363.5 813.5 367.4 814.5 367.5 815.5 369.1 816.5 368.1 817.5 369.8 818.5 367.3 819.5 362.1 820.5 362.8 821.5 360.6 822.5 363.3 823.5 362.2 824.5 363.6 825.5 364.9 826.5 363.7 827.5 365.2 828.5 361.1 829.5 359.7 830.5 364.1 831.5 363.3 832.5 360.8 833.5 364.3 834.5 361.4 835.5 363.1 836.5 360.7 837.5 365.7 838.5 364.9 839.5 365.4 840.5 366.2 841.5 365.0 842.5 363.3 843.5 363.9 844.5 362.0 845.5 358.5 846.5 362.6 847.5 359.5 848.5 359.2 849.5 358.4 850.5 357.1 851.5 357.9 852.5 357.4 853.5 356.9 854.5 358.6 855.5 360.6 856.5 360.8 857.5 363.1 858.5 361.3 859.5 360.3 860.5 363.7 861.5 363.5 862.5 361.9 863.5 363.9 864.5 365.2 865.5 364.8 866.5 363.7 867.5 364.9 868.5 362.8 869.5 361.3 870.5 362.1 871.5 359.5 872.5 358.7 873.5 358.8 874.5 356.3 875.5 358.5 876.5 358.2 877.5 359.4 878.5 358.2 879.5 359.9 880.5 359.7 881.5 361.4 882.5 358.1 883.5 360.9 884.5 359.7 885.5 361.9 886.5 359.3 887.5 360.5 888.5 364.4 889.5 365.1 890.5 367.9 891.5 367.1 892.5 374.1 893.5 379.1 894.5 384.1 895.5 384.8 896.5 385.5 897.5 389.2 898.5 389.4 899.5 389.7 900.5 389.6 901.5 389.4 902.5 385.6 903.5 387.5 904.5 385.2 905.5 386.7 906.5 387.5 907.5 387.8 908.5 388.1 909.5 384.3 910.5 385.8 911.5 391.3 912.5 391.6 913.5 394.0 L913.5 414.5 912.5 413.6 911.5 412.4 910.5 412.1 909.5 412.1 908.5 416.6 907.5 419.1 906.5 418.2 905.5 416.1 904.5 417.2 903.5 419.0 902.5 422.6 901.5 422.5 900.5 422.7 899.5 420.4 898.5 420.5 897.5 422.2 896.5 425.1 895.5 423.9 894.5 424.7 893.5 422.5 892.5 425.1 891.5 420.7 890.5 422.6 889.5 419.3 888.5 416.6 887.5 419.1 886.5 418.4 885.5 420.6 884.5 419.0 883.5 420.3 882.5 417.3 881.5 417.7 880.5 414.8 879.5 415.3 878.5 414.2 877.5 415.2 876.5 416.9 875.5 418.6 874.5 419.0 873.5 418.6 872.5 418.3 871.5 414.9 870.5 411.5 869.5 409.4 868.5 406.9 867.5 407.0 866.5 405.6 865.5 408.4 864.5 406.2 863.5 408.3 862.5 403.4 861.5 403.2 860.5 400.9 859.5 399.7 858.5 401.8 857.5 402.5 856.5 402.4 855.5 401.7 854.5 400.5 853.5 397.7 852.5 399.2 851.5 399.0 850.5 397.0 849.5 399.8 848.5 401.1 847.5 403.5 846.5 404.3 845.5 401.6 844.5 403.1 843.5 403.8 842.5 405.2 841.5 404.2 840.5 406.1 839.5 406.9 838.5 408.6 837.5 408.1 836.5 407.5 835.5 408.9 834.5 409.3 833.5 408.8 832.5 411.4 831.5 413.3 830.5 410.9 829.5 411.4 828.5 410.2 827.5 413.9 826.5 413.3 825.5 413.8 824.5 415.9 823.5 412.8 822.5 414.6 821.5 413.8 820.5 414.9 819.5 416.1 818.5 416.2 817.5 420.4 816.5 421.8 815.5 420.7 814.5 423.1 813.5 422.5 812.5 420.7 811.5 419.6 810.5 419.6 809.5 418.4 808.5 419.0 807.5 421.5 806.5 423.0 805.5 422.7 804.5 424.3 803.5 427.3 802.5 426.2 801.5 425.1 800.5 430.0 799.5 432.1 798.5 436.1 797.5 443.5 796.5 450.2 795.5 456.4 794.5 460.1 793.5 464.6 792.5 468.7 791.5 472.7 790.5 474.3 789.5 479.2 788.5 479.6 787.5 478.3 786.5 477.6 785.5 477.0 784.5 475.3 783.5 474.8 782.5 476.7 781.5 478.7 780.5 480.6 779.5 478.2 778.5 480.6 777.5 480.2 776.5 479.3 775.5 480.7 774.5 480.8 773.5 479.7 772.5 476.8 771.5 479.4 770.5 480.2 769.5 481.6 768.5 483.1 767.5 480.8 766.5 478.9 765.5 480.1 764.5 478.2 763.5 480.0 762.5 479.3 761.5 479.3 760.5 476.3 759.5 475.6 758.5 476.3 757.5 476.4 756.5 477.9 755.5 479.7 754.5 480.9 753.5 481.5 752.5 479.0 751.5 475.0 750.5 471.5 749.5 468.7 748.5 465.8 747.5 466.3 746.5 467.4 745.5 466.7 744.5 465.5 743.5 465.4 742.5 466.8 741.5 463.1 740.5 463.6 739.5 462.8 738.5 459.7 737.5 460.1 736.5 458.8 735.5 457.6 734.5 460.6 733.5 461.5 732.5 460.7 731.5 458.4 730.5 457.1 729.5 454.3 728.5 452.5 727.5 450.9 726.5 450.3 725.5 449.3 724.5 448.9 723.5 448.7 722.5 452.1 721.5 451.5 720.5 447.6 719.5 447.9 718.5 445.2 717.5 445.2 716.5 446.5 715.5 447.8 714.5 449.7 713.5 449.4 712.5 449.3 711.5 447.9 710.5 448.1 709.5 446.3 708.5 448.6 707.5 450.6 706.5 450.4 705.5 454.5 704.5 454.4 703.5 452.6 702.5 450.1 701.5 449.4 700.5 448.3 699.5 448.3 698.5 446.0 697.5 446.9 696.5 444.2 695.5 445.1 694.5 443.3 693.5 442.1 692.5 447.0 691.5 449.2 690.5 450.7 689.5 447.5 688.5 445.2 687.5 445.7 686.5 445.1 685.5 443.9 684.5 443.5 683.5 445.5 682.5 446.1 681.5 447.7 680.5 447.3 679.5 448.7 678.5 446.3 677.5 445.6 676.5 446.3 675.5 446.4 674.5 445.4 673.5 447.0 672.5 445.6 671.5 444.7 670.5 445.1 669.5 446.3 668.5 447.2 667.5 451.0 666.5 452.8 665.5 455.2 664.5 455.0 663.5 455.3 662.5 451.5 661.5 449.6 660.5 445.9 659.5 445.3 658.5 447.8 657.5 450.9 656.5 451.0 655.5 450.9 654.5 453.0 653.5 453.6 652.5 452.5 651.5 451.3 650.5 449.6 649.5 449.1 648.5 446.6 647.5 447.3 646.5 445.1 645.5 445.0 644.5 446.0 643.5 442.3 642.5 440.1 641.5 437.3 640.5 436.1 639.5 440.3 638.5 442.5 637.5 442.9 636.5 442.2 635.5 444.4 634.5 441.8 633.5 442.3 632.5 438.5 631.5 439.7 630.5 439.4 629.5 440.8 628.5 441.3 627.5 442.4 626.5 444.0 625.5 445.6 624.5 442.9 623.5 443.2 622.5 443.2 621.5 445.1 620.5 444.6 619.5 447.1 618.5 449.1 617.5 449.1 616.5 449.2 615.5 447.6 614.5 445.7 613.5 446.8 612.5 447.7 611.5 447.7 610.5 448.8 609.5 449.9 608.5 452.6 607.5 451.2 606.5 449.1 605.5 446.3 604.5 446.3 603.5 449.4 602.5 450.1 601.5 451.1 600.5 449.8 599.5 448.3 598.5 444.3 597.5 446.0 596.5 448.8 595.5 446.0 594.5 446.3 593.5 442.3 592.5 442.9 591.5 443.5 590.5 443.1 589.5 443.2 588.5 442.5 587.5 439.6 586.5 435.5 585.5 433.9 584.5 428.7 583.5 426.1Z" fill="rgb(228, 242, 243)"/>
<path d="M583.5 411.1 584.5 411.0 585.5 407.2 586.5 410.1 587.5 408.5 588.5 405.2 589.5 406.7 590.5 404.9 591.5 406.1 592.5 404.3 593.5 405.0 594.5 400.6 595.5 400.9 596.5 398.7 597.5 400.3 598.5 397.8 599.5 397.8 600.5 394.4 601.5 393.1 602.5 385.8 603.5 377.3 604.5 370.1 605.5 365.5 606.5 361.7 607.5 359.0 608.5 355.2 609.5 355.6 610.5 356.6 611.5 355.0 612.5 355.4 613.5 353.9 614.5 352.3 615.5 352.2 616.5 352.2 617.5 352.6 618.5 352.0 619.5 348.7 620.5 350.4 621.5 349.1 622.5 347.9 623.5 353.0 624.5 347.4 625.5 352.7 626.5 352.4 627.5 352.4 628.5 352.0 629.5 357.0 630.5 353.3 631.5 348.3 632.5 349.0 633.5 349.2 634.5 349.5 635.5 349.8 636.5 351.4 637.5 350.9 638.5 351.8 639.5 346.1 640.5 347.8 641.5 346.5 642.5 350.6 643.5 350.3 644.5 354.2 645.5 350.1 646.5 349.1 647.5 347.0 648.5 347.9 649.5 351.6 650.5 351.0 651.5 354.5 652.5 348.1 653.5 353.3 654.5 353.4 655.5 354.9 656.5 348.6 657.5 354.0 658.5 351.9 659.5 353.8 660.5 350.0 661.5 350.4 662.5 350.2 663.5 354.5 664.5 348.3 665.5 352.2 666.5 353.8 667.5 349.8 668.5 354.6 669.5 350.6 670.5 351.5 671.5 348.0 672.5 351.4 673.5 352.3 674.5 348.3 675.5 349.7 676.5 351.0 677.5 352.4 678.5 352.1 679.5 353.0 680.5 348.1 681.5 351.1 682.5 354.2 683.5 350.5 684.5 351.9 685.5 352.6 686.5 352.9 687.5 350.4 688.5 351.4 689.5 351.8 690.5 355.2 691.5 349.4 692.5 355.0 693.5 348.6 694.5 346.3 695.5 348.5 696.5 350.5 697.5 354.2 698.5 353.6 699.5 346.9 700.5 348.3 701.5 352.0 702.5 347.4 703.5 351.1 704.5 352.1 705.5 355.2 706.5 351.3 707.5 353.8 708.5 351.7 709.5 350.3 710.5 351.2 711.5 351.9 712.5 355.2 713.5 355.0 714.5 353.5 715.5 354.5 716.5 355.6 717.5 357.0 718.5 358.3 719.5 361.0 720.5 360.7 721.5 358.5 722.5 356.4 723.5 355.1 724.5 357.9 725.5 360.8 726.5 360.9 727.5 359.8 728.5 361.0 729.5 360.4 730.5 358.0 731.5 362.6 732.5 362.6 733.5 360.1 734.5 358.5 735.5 359.8 736.5 363.1 737.5 360.4 738.5 360.4 739.5 365.9 740.5 363.4 741.5 368.0 742.5 367.8 743.5 367.7 744.5 368.3 745.5 362.2 746.5 365.5 747.5 360.9 748.5 360.9 749.5 363.0 750.5 360.5 751.5 368.9 752.5 369.4 753.5 369.5 754.5 372.1 755.5 363.1 756.5 365.9 757.5 367.7 758.5 367.1 759.5 371.1 760.5 367.8 761.5 363.3 762.5 362.4 763.5 367.2 764.5 370.1 765.5 371.8 766.5 370.9 767.5 372.6 768.5 374.5 769.5 373.1 770.5 372.1 771.5 370.3 772.5 373.4 773.5 371.5 774.5 375.6 775.5 372.6 776.5 369.2 777.5 370.3 778.5 377.6 779.5 370.9 780.5 370.4 781.5 369.7 782.5 374.2 783.5 369.2 784.5 370.6 785.5 369.1 786.5 367.4 787.5 370.2 788.5 370.3 789.5 369.3 790.5 373.0 791.5 374.0 792.5 372.2 793.5 367.3 794.5 368.0 795.5 373.1 796.5 366.2 797.5 369.0 798.5 370.1 799.5 372.7 800.5 367.5 801.5 366.2 802.5 371.3 803.5 374.5 804.5 374.5 805.5 377.5 806.5 378.0 807.5 376.1 808.5 379.0 809.5 377.4 810.5 377.2 811.5 376.7 812.5 382.1 813.5 382.9 814.5 378.3 815.5 381.2 816.5 382.9 817.5 382.1 818.5 378.4 819.5 376.8 820.5 378.3 821.5 374.3 822.5 378.3 823.5 372.2 824.5 374.3 825.5 373.5 826.5 370.6 827.5 375.8 828.5 371.4 829.5 370.3 830.5 370.2 831.5 372.9 832.5 368.7 833.5 368.9 834.5 369.1 835.5 366.8 836.5 368.6 837.5 369.1 838.5 368.9 839.5 368.8 840.5 368.8 841.5 367.7 842.5 369.1 843.5 365.6 844.5 366.8 845.5 363.4 846.5 366.1 847.5 365.3 848.5 364.7 849.5 364.4 850.5 362.1 851.5 363.1 852.5 363.0 853.5 360.6 854.5 361.2 855.5 362.3 856.5 362.1 857.5 363.9 858.5 363.8 859.5 363.0 860.5 365.1 861.5 364.1 862.5 364.7 863.5 367.5 864.5 367.9 865.5 367.3 866.5 364.4 867.5 363.1 868.5 363.7 869.5 359.7 870.5 359.6 871.5 358.7 872.5 358.7 873.5 358.8 874.5 356.3 875.5 358.5 876.5 358.2 877.5 359.4 878.5 358.2 879.5 359.9 880.5 359.7 881.5 361.4 882.5 358.1 883.5 360.9 884.5 359.7 885.5 361.9 886.5 359.3 887.5 360.5 888.5 364.4 889.5 365.1 890.5 367.9 891.5 367.1 892.5 374.1 893.5 379.1 894.5 384.1 895.5 384.8 896.5 385.5 897.5 389.2 898.5 389.4 899.5 389.7 900.5 389.6 901.5 389.4 902.5 385.6 903.5 387.5 904.5 385.2 905.5 386.7 906.5 387.5 907.5 387.8 908.5 388.1 909.5 384.3 910.5 385.8 911.5 391.3 912.5 391.6 913.5 394.0 L913.5 414.5 912.5 413.6 911.5 412.4 910.5 412.1 909.5 412.1 908.5 416.6 907.5 419.1 906.5 418.2 905.5 416.1 904.5 417.2 903.5 419.0 902.5 422.6 901.5 422.5 900.5 422.7 899.5 420.4 898.5 420.5 897.5 422.2 896.5 425.1 895.5 423.9 894.5 424.7 893.5 422.5 892.5 425.1 891.5 420.7 890.5 422.6 889.5 419.3 888.5 416.6 887.5 419.1 886.5 418.4 885.5 420.6 884.5 419.0 883.5 420.3 882.5 417.3 881.5 417.7 880.5 414.8 879.5 415.3 878.5 414.2 877.5 415.2 876.5 416.9 875.5 418.6 874.5 419.0 873.5 418.6 872.5 418.3 871.5 414.9 870.5 411.5 869.5 409.4 868.5 406.9 867.5 407.0 866.5 405.6 865.5 408.4 864.5 406.2 863.5 408.3 862.5 403.4 861.5 403.2 860.5 400.9 859.5 399.7 858.5 401.8 857.5 402.5 856.5 402.4 855.5 401.7 854.5 400.5 853.5 397.7 852.5 399.2 851.5 399.0 850.5 397.0 849.5 399.8 848.5 401.1 847.5 403.5 846.5 404.3 845.5 401.6 844.5 403.1 843.5 403.8 842.5 405.2 841.5 404.2 840.5 406.1 839.5 406.9 838.5 408.6 837.5 408.1 836.5 407.5 835.5 408.9 834.5 409.3 833.5 408.8 832.5 411.4 831.5 413.3 830.5 410.9 829.5 411.4 828.5 410.2 827.5 413.9 826.5 413.3 825.5 413.8 824.5 415.9 823.5 412.8 822.5 414.6 821.5 413.8 820.5 414.9 819.5 416.1 818.5 416.2 817.5 420.4 816.5 421.8 815.5 420.7 814.5 423.1 813.5 422.5 812.5 420.7 811.5 419.6 810.5 419.6 809.5 418.4 808.5 419.0 807.5 421.5 806.5 423.0 805.5 422.7 804.5 424.3 803.5 427.3 802.5 426.2 801.5 425.1 800.5 430.0 799.5 432.1 798.5 436.1 797.5 443.5 796.5 450.2 795.5 456.4 794.5 460.1 793.5 464.6 792.5 468.7 791.5 472.7 790.5 474.3 789.5 479.2 788.5 479.6 787.5 478.3 786.5 477.6 785.5 477.0 784.5 475.3 783.5 474.8 782.5 476.7 781.5 478.7 780.5 480.6 779.5 478.2 778.5 480.6 777.5 480.2 776.5 479.3 775.5 480.7 774.5 480.8 773.5 479.7 772.5 476.8 771.5 479.4 770.5 480.2 769.5 481.6 768.5 483.1 767.5 480.8 766.5 478.9 765.5 480.1 764.5 478.2 763.5 480.0 762.5 479.3 761.5 479.3 760.5 476.3 759.5 475.6 758.5 476.3 757.5 476.4 756.5 477.9 755.5 479.7 754.5 480.9 753.5 481.5 752.5 479.0 751.5 475.0 750.5 471.5 749.5 468.7 748.5 465.8 747.5 466.3 746.5 467.4 745.5 466.7 744.5 465.5 743.5 465.4 742.5 466.8 741.5 463.1 740.5 463.6 739.5 462.8 738.5 459.7 737.5 460.1 736.5 458.8 735.5 457.6 734.5 460.6 733.5 461.5 732.5 460.7 731.5 458.4 730.5 457.1 729.5 454.3 728.5 452.5 727.5 450.9 726.5 450.3 725.5 449.3 724.5 448.9 723.5 448.7 722.5 452.1 721.5 451.5 720.5 447.6 719.5 447.9 718.5 445.2 717.5 445.2 716.5 446.5 715.5 447.8 714.5 449.7 713.5 449.4 712.5 449.3 711.5 447.9 710.5 448.1 709.5 446.3 708.5 448.6 707.5 450.6 706.5 450.4 705.5 454.5 704.5 454.4 703.5 452.6 702.5 450.1 701.5 449.4 700.5 448.3 699.5 448.3 698.5 446.0 697.5 446.9 696.5 444.2 695.5 445.1 694.5 443.3 693.5 442.1 692.5 447.0 691.5 449.2 690.5 450.7 689.5 447.5 688.5 445.2 687.5 445.7 686.5 445.1 685.5 443.9 684.5 443.5 683.5 445.5 682.5 446.1 681.5 447.7 680.5 447.3 679.5 448.7 678.5 446.3 677.5 445.6 676.5 446.3 675.5 446.4 674.5 445.4 673.5 447.0 672.5 445.6 671.5 444.7 670.5 445.1 669.5 446.3 668.5 447.2 667.5 451.0 666.5 452.8 665.5 455.2 664.5 455.0 663.5 455.3 662.5 451.5 661.5 449.6 660.5 445.9 659.5 445.3 658.5 447.8 657.5 450.9 656.5 451.0 655.5 450.9 654.5 453.0 653.5 453.6 652.5 452.5 651.5 451.3 650.5 449.6 649.5 449.1 648.5 446.6 647.5 447.3 646.5 445.1 645.5 445.0 644.5 446.0 643.5 442.3 642.5 440.1 641.5 437.3 640.5 436.1 639.5 440.3 638.5 442.5 637.5 442.9 636.5 442.2 635.5 444.4 634.5 441.8 633.5 442.3 632.5 438.5 631.5 439.7 630.5 439.4 629.5 440.8 628.5 441.3 627.5 442.4 626.5 444.0 625.5 445.6 624.5 442.9 623.5 443.2 622.5 443.2 621.5 445.1 620.5 444.6 619.5 447.1 618.5 449.1 617.5 449.1 616.5 449.2 615.5 447.6 614.5 445.7 613.5 446.8 612.5 447.7 611.5 447.7 610.5 448.8 609.5 449.9 608.5 452.6 607.5 451.2 606.5 449.1 605.5 446.3 604.5 446.3 603.5 449.4 602.5 450.1 601.5 451.1 600.5 449.8 599.5 448.3 598.5 444.3 597.5 446.0 596.5 448.8 595.5 446.0 594.5 446.3 593.5 442.3 592.5 442.9 591.5 443.5 590.5 443.1 589.5 443.2 588.5 442.5 587.5 439.6 586.5 435.5 585.5 433.9 584.5 428.7 583.5 426.1Z" fill="rgb(226, 241, 244)"/>
<path d="M583.5 411.1 584.5 411.0 585.5 407.2 586.5 410.1 587.5 408.5 588.5 405.2 589.5 406.7 590.5 404.9 591.5 406.1 592.5 404.3 593.5 405.0 594.5 400.6 595.5 400.9 596.5 398.7 597.5 400.3 598.5 397.8 599.5 397.8 600.5 394.4 601.5 393.1 602.5 385.8 603.5 377.3 604.5 370.1 605.5 365.5 606.5 361.7 607.5 359.0 608.5 355.2 609.5 355.6 610.5 356.6 611.5 355.0 612.5 355.4 613.5 353.9 614.5 352.3 615.5 352.2 616.5 352.8 617.5 352.7 618.5 352.0 619.5 349.4 620.5 353.5 621.5 351.0 622.5 354.0 623.5 353.3 624.5 353.4 625.5 357.3 626.5 355.8 627.5 351.4 628.5 351.5 629.5 350.7 630.5 354.7 631.5 349.6 632.5 349.2 633.5 349.2 634.5 351.7 635.5 352.0 636.5 348.9 637.5 347.9 638.5 349.6 639.5 346.3 640.5 349.4 641.5 350.9 642.5 352.7 643.5 349.4 644.5 350.0 645.5 355.1 646.5 354.0 647.5 353.4 648.5 352.3 649.5 354.7 650.5 358.9 651.5 356.7 652.5 355.4 653.5 359.4 654.5 354.4 655.5 355.6 656.5 352.1 657.5 357.5 658.5 352.5 659.5 356.3 660.5 356.3 661.5 360.6 662.5 362.8 663.5 359.2 664.5 362.0 665.5 360.8 666.5 362.8 667.5 362.9 668.5 356.8 669.5 360.3 670.5 358.5 671.5 356.4 672.5 359.6 673.5 356.6 674.5 356.3 675.5 360.6 676.5 359.6 677.5 354.6 678.5 358.4 679.5 357.9 680.5 353.6 681.5 351.1 682.5 355.9 683.5 349.9 684.5 354.0 685.5 350.3 686.5 356.9 687.5 354.1 688.5 354.0 689.5 356.9 690.5 362.9 691.5 354.1 692.5 359.2 693.5 356.9 694.5 358.8 695.5 362.2 696.5 357.3 697.5 360.3 698.5 362.2 699.5 361.1 700.5 362.1 701.5 359.4 702.5 363.9 703.5 361.8 704.5 363.8 705.5 367.3 706.5 361.8 707.5 361.2 708.5 359.0 709.5 356.8 710.5 355.9 711.5 358.6 712.5 359.3 713.5 360.7 714.5 358.8 715.5 358.2 716.5 355.0 717.5 360.7 718.5 356.2 719.5 361.3 720.5 358.7 721.5 362.6 722.5 364.3 723.5 359.2 724.5 362.9 725.5 361.5 726.5 359.3 727.5 363.4 728.5 363.0 729.5 366.1 730.5 366.1 731.5 370.9 732.5 369.8 733.5 370.5 734.5 368.5 735.5 372.6 736.5 371.9 737.5 370.8 738.5 366.3 739.5 365.0 740.5 371.4 741.5 372.1 742.5 372.8 743.5 365.2 744.5 365.4 745.5 367.0 746.5 367.1 747.5 367.4 748.5 371.3 749.5 366.9 750.5 366.6 751.5 364.7 752.5 369.0 753.5 369.3 754.5 374.9 755.5 368.0 756.5 375.3 757.5 372.1 758.5 370.1 759.5 366.3 760.5 366.9 761.5 365.5 762.5 366.9 763.5 369.4 764.5 365.6 765.5 360.8 766.5 358.9 767.5 360.6 768.5 365.6 769.5 367.3 770.5 363.0 771.5 359.1 772.5 367.6 773.5 360.9 774.5 366.5 775.5 364.1 776.5 360.6 777.5 366.7 778.5 365.5 779.5 364.1 780.5 366.3 781.5 367.7 782.5 366.7 783.5 367.2 784.5 365.7 785.5 367.6 786.5 364.2 787.5 366.7 788.5 371.5 789.5 368.8 790.5 371.9 791.5 373.0 792.5 370.1 793.5 373.5 794.5 372.3 795.5 371.2 796.5 369.8 797.5 371.7 798.5 367.9 799.5 373.7 800.5 374.6 801.5 375.0 802.5 380.2 803.5 380.7 804.5 382.7 805.5 383.5 806.5 382.3 807.5 382.8 808.5 381.4 809.5 382.5 810.5 382.2 811.5 382.5 812.5 384.3 813.5 385.4 814.5 386.4 815.5 388.2 816.5 384.6 817.5 385.4 818.5 379.2 819.5 381.9 820.5 379.7 821.5 376.3 822.5 379.2 823.5 377.5 824.5 377.2 825.5 376.9 826.5 375.2 827.5 375.1 828.5 371.5 829.5 373.5 830.5 373.3 831.5 376.9 832.5 375.2 833.5 373.3 834.5 371.4 835.5 371.7 836.5 371.0 837.5 373.7 838.5 374.2 839.5 371.5 840.5 372.7 841.5 369.9 842.5 370.1 843.5 368.6 844.5 367.0 845.5 365.8 846.5 365.7 847.5 364.6 848.5 362.6 849.5 362.3 850.5 361.1 851.5 361.2 852.5 359.5 853.5 358.9 854.5 361.7 855.5 363.2 856.5 362.8 857.5 363.8 858.5 363.4 859.5 363.8 860.5 363.2 861.5 365.5 862.5 364.0 863.5 366.7 864.5 368.5 865.5 367.5 866.5 365.6 867.5 366.1 868.5 365.8 869.5 363.1 870.5 362.3 871.5 360.7 872.5 358.7 873.5 358.8 874.5 356.3 875.5 358.5 876.5 358.2 877.5 359.4 878.5 358.2 879.5 359.9 880.5 359.7 881.5 361.4 882.5 358.1 883.5 360.9 884.5 359.7 885.5 361.9 886.5 359.3 887.5 360.5 888.5 364.4 889.5 365.1 890.5 367.9 891.5 367.1 892.5 374.1 893.5 379.1 894.5 384.1 895.5 384.8 896.5 385.5 897.5 389.2 898.5 389.4 899.5 389.7 900.5 389.6 901.5 389.4 902.5 385.6 903.5 387.5 904.5 385.2 905.5 386.7 906.5 387.5 907.5 387.8 908.5 388.1 909.5 384.3 910.5 385.8 911.5 391.3 912.5 391.6 913.5 394.0 L913.5 414.5 912.5 413.6 911.5 412.4 910.5 412.1 909.5 412.1 908.5 416.6 907.5 419.1 906.5 418.2 905.5 416.1 904.5 417.2 903.5 419.0 902.5 422.6 901.5 422.5 900.5 422.7 899.5 420.4 898.5 420.5 897.5 422.2 896.5 425.1 895.5 423.9 894.5 424.7 893.5 422.5 892.5 425.1 891.5 420.7 890.5 422.6 889.5 419.3 888.5 416.6 887.5 419.1 886.5 418.4 885.5 420.6 884.5 419.0 883.5 420.3 882.5 417.3 881.5 417.7 880.5 414.8 879.5 415.3 878.5 414.2 877.5 415.2 876.5 416.9 875.5 418.6 874.5 419.0 873.5 418.6 872.5 418.3 871.5 414.9 870.5 411.5 869.5 409.4 868.5 406.9 867.5 407.0 866.5 405.6 865.5 408.4 864.5 406.2 863.5 408.3 862.5 403.4 861.5 403.2 860.5 400.9 859.5 399.7 858.5 401.8 857.5 402.5 856.5 402.4 855.5 401.7 854.5 400.5 853.5 397.7 852.5 399.2 851.5 399.0 850.5 397.0 849.5 399.8 848.5 401.1 847.5 403.5 846.5 404.3 845.5 401.6 844.5 403.1 843.5 403.8 842.5 405.2 841.5 404.2 840.5 406.1 839.5 406.9 838.5 408.6 837.5 408.1 836.5 407.5 835.5 408.9 834.5 409.3 833.5 408.8 832.5 411.4 831.5 413.3 830.5 410.9 829.5 411.4 828.5 410.2 827.5 413.9 826.5 413.3 825.5 413.8 824.5 415.9 823.5 412.8 822.5 414.6 821.5 413.8 820.5 414.9 819.5 416.1 818.5 416.2 817.5 420.4 816.5 421.8 815.5 420.7 814.5 423.1 813.5 422.5 812.5 420.7 811.5 419.6 810.5 419.6 809.5 418.4 808.5 419.0 807.5 421.5 806.5 423.0 805.5 422.7 804.5 424.3 803.5 427.3 802.5 426.2 801.5 425.1 800.5 430.0 799.5 432.1 798.5 436.1 797.5 443.5 796.5 450.2 795.5 456.4 794.5 460.1 793.5 464.6 792.5 468.7 791.5 472.7 790.5 474.3 789.5 479.2 788.5 479.6 787.5 478.3 786.5 477.6 785.5 477.0 784.5 475.3 783.5 474.8 782.5 476.7 781.5 478.7 780.5 480.6 779.5 478.2 778.5 480.6 777.5 480.2 776.5 479.3 775.5 480.7 774.5 480.8 773.5 479.7 772.5 476.8 771.5 479.4 770.5 480.2 769.5 481.6 768.5 483.1 767.5 480.8 766.5 478.9 765.5 480.1 764.5 478.2 763.5 480.0 762.5 479.3 761.5 479.3 760.5 476.3 759.5 475.6 758.5 476.3 757.5 476.4 756.5 477.9 755.5 479.7 754.5 480.9 753.5 481.5 752.5 479.0 751.5 475.0 750.5 471.5 749.5 468.7 748.5 465.8 747.5 466.3 746.5 467.4 745.5 466.7 744.5 465.5 743.5 465.4 742.5 466.8 741.5 463.1 740.5 463.6 739.5 462.8 738.5 459.7 737.5 460.1 736.5 458.8 735.5 457.6 734.5 460.6 733.5 461.5 732.5 460.7 731.5 458.4 730.5 457.1 729.5 454.3 728.5 452.5 727.5 450.9 726.5 450.3 725.5 449.3 724.5 448.9 723.5 448.7 722.5 452.1 721.5 451.5 720.5 447.6 719.5 447.9 718.5 445.2 717.5 445.2 716.5 446.5 715.5 447.8 714.5 449.7 713.5 449.4 712.5 449.3 711.5 447.9 710.5 448.1 709.5 446.3 708.5 448.6 707.5 450.6 706.5 450.4 705.5 454.5 704.5 454.4 703.5 452.6 702.5 450.1 701.5 449.4 700.5 448.3 699.5 448.3 698.5 446.0 697.5 446.9 696.5 444.2 695.5 445.1 694.5 443.3 693.5 442.1 692.5 447.0 691.5 449.2 690.5 450.7 689.5 447.5 688.5 445.2 687.5 445.7 686.5 445.1 685.5 443.9 684.5 443.5 683.5 445.5 682.5 446.1 681.5 447.7 680.5 447.3 679.5 448.7 678.5 446.3 677.5 445.6 676.5 446.3 675.5 446.4 674.5 445.4 673.5 447.0 672.5 445.6 671.5 444.7 670.5 445.1 669.5 446.3 668.5 447.2 667.5 451.0 666.5 452.8 665.5 455.2 664.5 455.0 663.5 455.3 662.5 451.5 661.5 449.6 660.5 445.9 659.5 445.3 658.5 447.8 657.5 450.9 656.5 451.0 655.5 450.9 654.5 453.0 653.5 453.6 652.5 452.5 651.5 451.3 650.5 449.6 649.5 449.1 648.5 446.6 647.5 447.3 646.5 445.1 645.5 445.0 644.5 446.0 643.5 442.3 642.5 440.1 641.5 437.3 640.5 436.1 639.5 440.3 638.5 442.5 637.5 442.9 636.5 442.2 635.5 444.4 634.5 441.8 633.5 442.3 632.5 438.5 631.5 439.7 630.5 439.4 629.5 440.8 628.5 441.3 627.5 442.4 626.5 444.0 625.5 445.6 624.5 442.9 623.5 443.2 622.5 443.2 621.5 445.1 620.5 444.6 619.5 447.1 618.5 449.1 617.5 449.1 616.5 449.2 615.5 447.6 614.5 445.7 613.5 446.8 612.5 447.7 611.5 447.7 610.5 448.8 609.5 449.9 608.5 452.6 607.5 451.2 606.5 449.1 605.5 446.3 604.5 446.3 603.5 449.4 602.5 450.1 601.5 451.1 600.5 449.8 599.5 448.3 598.5 444.3 597.5 446.0 596.5 448.8 595.5 446.0 594.5 446.3 593.5 442.3 592.5 442.9 591.5 443.5 590.5 443.1 589.5 443.2 588.5 442.5 587.5 439.6 586.5 435.5 585.5 433.9 584.5 428.7 583.5 426.1Z" fill="rgb(224, 240, 244)"/>
<path d="M583.5 411.1 584.5 411.0 585.5 407.2 586.5 410.1 587.5 408.5 588.5 405.2 589.5 406.7 590.5 404.9 591.5 406.1 592.5 404.3 593.5 405.0 594.5 400.6 595.5 400.9 596.5 398.7 597.5 400.3 598.5 397.8 599.5 397.8 600.5 394.4 601.5 393.1 602.5 385.8 603.5 377.3 604.5 370.1 605.5 365.5 606.5 361.7 607.5 359.0 608.5 355.2 609.5 358.3 610.5 360.8 611.5 356.6 612.5 359.6 613.5 357.3 614.5 361.7 615.5 359.8 616.5 363.6 617.5 365.1 618.5 364.5 619.5 364.1 620.5 367.5 621.5 366.8 622.5 362.0 623.5 364.2 624.5 361.9 625.5 362.6 626.5 362.9 627.5 363.9 628.5 363.0 629.5 361.8 630.5 365.0 631.5 359.8 632.5 361.4 633.5 365.0 634.5 362.6 635.5 362.7 636.5 365.8 637.5 361.1 638.5 363.5 639.5 361.6 640.5 358.2 641.5 360.6 642.5 362.2 643.5 365.3 644.5 365.1 645.5 363.5 646.5 364.9 647.5 365.3 648.5 364.0 649.5 361.1 650.5 361.1 651.5 363.5 652.5 362.3 653.5 360.8 654.5 359.6 655.5 360.9 656.5 361.3 657.5 361.5 658.5 358.4 659.5 360.5 660.5 355.9 661.5 361.5 662.5 362.2 663.5 364.3 664.5 356.6 665.5 359.5 666.5 363.6 667.5 361.3 668.5 359.0 669.5 356.7 670.5 357.8 671.5 360.1 672.5 357.2 673.5 359.1 674.5 357.0 675.5 357.1 676.5 355.3 677.5 352.3 678.5 358.6 679.5 358.9 680.5 358.9 681.5 356.8 682.5 352.7 683.5 347.8 684.5 348.0 685.5 350.1 686.5 352.8 687.5 349.0 688.5 352.7 689.5 352.4 690.5 352.7 691.5 350.0 692.5 354.6 693.5 352.6 694.5 354.8 695.5 360.9 696.5 359.6 697.5 364.5 698.5 358.6 699.5 363.7 700.5 367.9 701.5 364.9 702.5 366.8 703.5 364.7 704.5 367.7 705.5 372.4 706.5 364.6 707.5 369.2 708.5 370.3 709.5 369.5 710.5 365.9 711.5 370.4 712.5 371.9 713.5 367.0 714.5 370.8 715.5 369.8 716.5 371.1 717.5 368.0 718.5 371.2 719.5 372.6 720.5 364.0 721.5 369.3 722.5 372.0 723.5 367.7 724.5 368.4 725.5 369.7 726.5 370.4 727.5 366.8 728.5 365.2 729.5 364.8 730.5 369.2 731.5 370.2 732.5 368.3 733.5 368.7 734.5 368.0 735.5 370.3 736.5 372.0 737.5 368.9 738.5 374.2 739.5 370.5 740.5 367.8 741.5 373.5 742.5 376.1 743.5 370.6 744.5 369.1 745.5 375.7 746.5 375.3 747.5 375.2 748.5 377.1 749.5 375.2 750.5 374.4 751.5 377.1 752.5 376.0 753.5 374.8 754.5 375.4 755.5 371.8 756.5 379.2 757.5 376.9 758.5 369.2 759.5 373.8 760.5 370.1 761.5 377.6 762.5 377.2 763.5 377.8 764.5 370.6 765.5 375.1 766.5 372.1 767.5 376.2 768.5 371.5 769.5 374.7 770.5 376.4 771.5 372.6 772.5 374.8 773.5 378.1 774.5 378.2 775.5 375.5 776.5 375.5 777.5 377.3 778.5 375.4 779.5 379.5 780.5 376.8 781.5 380.8 782.5 380.7 783.5 372.8 784.5 373.5 785.5 378.3 786.5 374.5 787.5 378.8 788.5 374.7 789.5 378.5 790.5 379.6 791.5 377.6 792.5 372.8 793.5 373.0 794.5 375.1 795.5 379.4 796.5 376.5 797.5 378.2 798.5 379.5 799.5 376.4 800.5 376.5 801.5 377.3 802.5 378.1 803.5 380.5 804.5 381.4 805.5 380.5 806.5 381.9 807.5 384.6 808.5 381.6 809.5 384.3 810.5 383.6 811.5 383.6 812.5 387.7 813.5 388.2 814.5 389.6 815.5 385.6 816.5 388.2 817.5 385.3 818.5 381.3 819.5 384.1 820.5 380.3 821.5 378.9 822.5 380.5 823.5 380.3 824.5 379.5 825.5 378.9 826.5 382.0 827.5 382.4 828.5 379.9 829.5 376.8 830.5 380.7 831.5 380.5 832.5 379.5 833.5 377.5 834.5 380.8 835.5 380.7 836.5 379.0 837.5 378.8 838.5 382.1 839.5 378.6 840.5 378.5 841.5 376.5 842.5 377.1 843.5 375.8 844.5 372.7 845.5 369.6 846.5 371.3 847.5 369.0 848.5 368.0 849.5 366.4 850.5 363.8 851.5 366.1 852.5 365.3 853.5 363.2 854.5 365.8 855.5 365.7 856.5 366.0 857.5 368.6 858.5 368.0 859.5 366.7 860.5 368.5 861.5 368.0 862.5 368.8 863.5 369.5 864.5 369.4 865.5 371.6 866.5 370.3 867.5 369.7 868.5 368.4 869.5 367.1 870.5 368.7 871.5 367.6 872.5 366.5 873.5 365.5 874.5 360.0 875.5 360.9 876.5 359.2 877.5 359.4 878.5 358.2 879.5 359.9 880.5 359.7 881.5 361.4 882.5 358.1 883.5 360.9 884.5 359.7 885.5 361.9 886.5 359.3 887.5 360.5 888.5 364.4 889.5 365.1 890.5 367.9 891.5 367.1 892.5 374.1 893.5 379.1 894.5 384.1 895.5 384.8 896.5 385.5 897.5 389.2 898.5 389.4 899.5 389.7 900.5 389.6 901.5 389.4 902.5 385.6 903.5 387.5 904.5 385.2 905.5 386.7 906.5 387.5 907.5 387.8 908.5 388.1 909.5 384.3 910.5 385.8 911.5 391.3 912.5 391.6 913.5 394.0 L913.5 414.5 912.5 413.6 911.5 412.4 910.5 412.1 909.5 412.1 908.5 416.6 907.5 419.1 906.5 418.2 905.5 416.1 904.5 417.2 903.5 419.0 902.5 422.6 901.5 422.5 900.5 422.7 899.5 420.4 898.5 420.5 897.5 422.2 896.5 425.1 895.5 423.9 894.5 424.7 893.5 422.5 892.5 425.1 891.5 420.7 890.5 422.6 889.5 419.3 888.5 416.6 887.5 419.1 886.5 418.4 885.5 420.6 884.5 419.0 883.5 420.3 882.5 417.3 881.5 417.7 880.5 414.8 879.5 415.3 878.5 414.2 877.5 415.2 876.5 416.9 875.5 418.6 874.5 419.0 873.5 418.6 872.5 418.3 871.5 414.9 870.5 411.5 869.5 409.4 868.5 406.9 867.5 407.0 866.5 405.6 865.5 408.4 864.5 406.2 863.5 408.3 862.5 403.4 861.5 403.2 860.5 400.9 859.5 399.7 858.5 401.8 857.5 402.5 856.5 402.4 855.5 401.7 854.5 400.5 853.5 397.7 852.5 399.2 851.5 399.0 850.5 397.0 849.5 399.8 848.5 401.1 847.5 403.5 846.5 404.3 845.5 401.6 844.5 403.1 843.5 403.8 842.5 405.2 841.5 404.2 840.5 406.1 839.5 406.9 838.5 408.6 837.5 408.1 836.5 407.5 835.5 408.9 834.5 409.3 833.5 408.8 832.5 411.4 831.5 413.3 830.5 410.9 829.5 411.4 828.5 410.2 827.5 413.9 826.5 413.3 825.5 413.8 824.5 415.9 823.5 412.8 822.5 414.6 821.5 413.8 820.5 414.9 819.5 416.1 818.5 416.2 817.5 420.4 816.5 421.8 815.5 420.7 814.5 423.1 813.5 422.5 812.5 420.7 811.5 419.6 810.5 419.6 809.5 418.4 808.5 419.0 807.5 421.5 806.5 423.0 805.5 422.7 804.5 424.3 803.5 427.3 802.5 426.2 801.5 425.1 800.5 430.0 799.5 432.1 798.5 436.1 797.5 443.5 796.5 450.2 795.5 456.4 794.5 460.1 793.5 464.6 792.5 468.7 791.5 472.7 790.5 474.3 789.5 479.2 788.5 479.6 787.5 478.3 786.5 477.6 785.5 477.0 784.5 475.3 783.5 474.8 782.5 476.7 781.5 478.7 780.5 480.6 779.5 478.2 778.5 480.6 777.5 480.2 776.5 479.3 775.5 480.7 774.5 480.8 773.5 479.7 772.5 476.8 771.5 479.4 770.5 480.2 769.5 481.6 768.5 483.1 767.5 480.8 766.5 478.9 765.5 480.1 764.5 478.2 763.5 480.0 762.5 479.3 761.5 479.3 760.5 476.3 759.5 475.6 758.5 476.3 757.5 476.4 756.5 477.9 755.5 479.7 754.5 480.9 753.5 481.5 752.5 479.0 751.5 475.0 750.5 471.5 749.5 468.7 748.5 465.8 747.5 466.3 746.5 467.4 745.5 466.7 744.5 465.5 743.5 465.4 742.5 466.8 741.5 463.1 740.5 463.6 739.5 462.8 738.5 459.7 737.5 460.1 736.5 458.8 735.5 457.6 734.5 460.6 733.5 461.5 732.5 460.7 731.5 458.4 730.5 457.1 729.5 454.3 728.5 452.5 727.5 450.9 726.5 450.3 725.5 449.3 724.5 448.9 723.5 448.7 722.5 452.1 721.5 451.5 720.5 447.6 719.5 447.9 718.5 445.2 717.5 445.2 716.5 446.5 715.5 447.8 714.5 449.7 713.5 449.4 712.5 449.3 711.5 447.9 710.5 448.1 709.5 446.3 708.5 448.6 707.5 450.6 706.5 450.4 705.5 454.5 704.5 454.4 703.5 452.6 702.5 450.1 701.5 449.4 700.5 448.3 699.5 448.3 698.5 446.0 697.5 446.9 696.5 444.2 695.5 445.1 694.5 443.3 693.5 442.1 692.5 447.0 691.5 449.2 690.5 450.7 689.5 447.5 688.5 445.2 687.5 445.7 686.5 445.1 685.5 443.9 684.5 443.5 683.5 445.5 682.5 446.1 681.5 447.7 680.5 447.3 679.5 448.7 678.5 446.3 677.5 445.6 676.5 446.3 675.5 446.4 674.5 445.4 673.5 447.0 672.5 445.6 671.5 444.7 670.5 445.1 669.5 446.3 668.5 447.2 667.5 451.0 666.5 452.8 665.5 455.2 664.5 455.0 663.5 455.3 662.5 451.5 661.5 449.6 660.5 445.9 659.5 445.3 658.5 447.8 657.5 450.9 656.5 451.0 655.5 450.9 654.5 453.0 653.5 453.6 652.5 452.5 651.5 451.3 650.5 449.6 649.5 449.1 648.5 446.6 647.5 447.3 646.5 445.1 645.5 445.0 644.5 446.0 643.5 442.3 642.5 440.1 641.5 437.3 640.5 436.1 639.5 440.3 638.5 442.5 637.5 442.9 636.5 442.2 635.5 444.4 634.5 441.8 633.5 442.3 632.5 438.5 631.5 439.7 630.5 439.4 629.5 440.8 628.5 441.3 627.5 442.4 626.5 444.0 625.5 445.6 624.5 442.9 623.5 443.2 622.5 443.2 621.5 445.1 620.5 444.6 619.5 447.1 618.5 449.1 617.5 449.1 616.5 449.2 615.5 447.6 614.5 445.7 613.5 446.8 612.5 447.7 611.5 447.7 610.5 448.8 609.5 449.9 608.5 452.6 607.5 451.2 606.5 449.1 605.5 446.3 604.5 446.3 603.5 449.4 602.5 450.1 601.5 451.1 600.5 449.8 599.5 448.3 598.5 444.3 597.5 446.0 596.5 448.8 595.5 446.0 594.5 446.3 593.5 442.3 592.5 442.9 591.5 443.5 590.5 443.1 589.5 443.2 588.5 442.5 587.5 439.6 586.5 435.5 585.5 433.9 584.5 428.7 583.5 426.1Z" fill="rgb(223, 239, 244)"/>
<path d="M583.5 411.1 584.5 411.0 585.5 407.2 586.5 410.1 587.5 408.5 588.5 405.2 589.5 406.7 590.5 404.9 591.5 406.1 592.5 404.3 593.5 405.0 594.5 400.6 595.5 400.9 596.5 398.7 597.5 400.3 598.5 397.8 599.5 397.8 600.5 394.4 601.5 393.1 602.5 385.8 603.5 377.3 604.5 370.1 605.5 365.5 606.5 361.7 607.5 359.0 608.5 355.2 609.5 359.6 610.5 358.1 611.5 360.7 612.5 363.4 613.5 359.3 614.5 361.9 615.5 361.0 616.5 364.1 617.5 364.2 618.5 360.6 619.5 363.0 620.5 363.7 621.5 361.2 622.5 363.5 623.5 365.7 624.5 366.7 625.5 363.3 626.5 369.3 627.5 367.2 628.5 366.2 629.5 367.8 630.5 368.2 631.5 366.2 632.5 363.8 633.5 365.1 634.5 362.2 635.5 368.2 636.5 367.4 637.5 366.7 638.5 367.1 639.5 360.8 640.5 360.0 641.5 363.0 642.5 362.2 643.5 363.9 644.5 368.4 645.5 365.2 646.5 363.0 647.5 365.9 648.5 365.5 649.5 365.7 650.5 369.4 651.5 367.3 652.5 365.9 653.5 367.7 654.5 365.0 655.5 369.1 656.5 368.0 657.5 367.4 658.5 367.2 659.5 365.1 660.5 364.1 661.5 368.9 662.5 368.3 663.5 372.0 664.5 368.6 665.5 371.9 666.5 365.5 667.5 368.9 668.5 364.9 669.5 366.2 670.5 367.0 671.5 364.9 672.5 365.3 673.5 369.7 674.5 364.2 675.5 365.4 676.5 367.7 677.5 368.5 678.5 367.8 679.5 365.7 680.5 365.1 681.5 368.9 682.5 365.5 683.5 369.4 684.5 371.5 685.5 369.4 686.5 365.9 687.5 363.8 688.5 369.8 689.5 373.2 690.5 369.0 691.5 368.0 692.5 365.8 693.5 361.3 694.5 365.4 695.5 362.4 696.5 363.5 697.5 370.2 698.5 368.0 699.5 366.2 700.5 362.3 701.5 362.5 702.5 366.7 703.5 363.7 704.5 369.2 705.5 369.7 706.5 366.6 707.5 370.2 708.5 366.3 709.5 367.8 710.5 364.3 711.5 370.8 712.5 372.5 713.5 372.3 714.5 372.1 715.5 376.5 716.5 370.6 717.5 369.5 718.5 372.5 719.5 372.6 720.5 375.0 721.5 373.1 722.5 372.6 723.5 369.0 724.5 374.2 725.5 377.3 726.5 372.0 727.5 373.3 728.5 374.4 729.5 374.4 730.5 374.3 731.5 382.6 732.5 380.8 733.5 376.1 734.5 376.5 735.5 380.5 736.5 376.0 737.5 377.7 738.5 380.3 739.5 377.2 740.5 379.0 741.5 384.0 742.5 384.4 743.5 386.5 744.5 385.5 745.5 378.8 746.5 378.9 747.5 375.2 748.5 382.1 749.5 378.6 750.5 378.8 751.5 390.2 752.5 384.1 753.5 386.6 754.5 389.2 755.5 382.6 756.5 387.1 757.5 385.4 758.5 383.1 759.5 384.7 760.5 389.8 761.5 386.8 762.5 383.6 763.5 387.4 764.5 389.9 765.5 387.7 766.5 389.4 767.5 386.5 768.5 387.1 769.5 389.5 770.5 395.0 771.5 395.6 772.5 392.4 773.5 395.0 774.5 391.1 775.5 394.9 776.5 390.6 777.5 392.3 778.5 394.3 779.5 391.1 780.5 391.5 781.5 384.7 782.5 386.4 783.5 389.9 784.5 390.1 785.5 383.1 786.5 386.7 787.5 390.8 788.5 388.5 789.5 389.6 790.5 394.0 791.5 389.7 792.5 385.1 793.5 389.0 794.5 385.1 795.5 387.0 796.5 384.2 797.5 389.7 798.5 385.4 799.5 386.9 800.5 390.7 801.5 388.6 802.5 391.4 803.5 392.8 804.5 396.4 805.5 398.5 806.5 398.0 807.5 396.8 808.5 397.7 809.5 397.9 810.5 398.7 811.5 397.3 812.5 398.5 813.5 402.3 814.5 401.8 815.5 400.3 816.5 402.2 817.5 399.7 818.5 395.2 819.5 393.6 820.5 394.2 821.5 395.7 822.5 395.8 823.5 391.6 824.5 393.8 825.5 393.0 826.5 391.9 827.5 390.0 828.5 387.4 829.5 388.1 830.5 388.3 831.5 390.1 832.5 387.6 833.5 385.0 834.5 384.4 835.5 382.2 836.5 381.6 837.5 383.9 838.5 382.8 839.5 384.3 840.5 383.0 841.5 380.0 842.5 384.0 843.5 379.1 844.5 376.3 845.5 374.2 846.5 377.6 847.5 376.3 848.5 372.1 849.5 370.4 850.5 368.1 851.5 369.6 852.5 368.8 853.5 366.4 854.5 367.5 855.5 369.6 856.5 367.9 857.5 369.8 858.5 369.3 859.5 367.9 860.5 370.3 861.5 369.2 862.5 370.0 863.5 373.8 864.5 373.2 865.5 371.3 866.5 369.2 867.5 368.5 868.5 368.6 869.5 366.9 870.5 365.9 871.5 364.8 872.5 364.8 873.5 363.1 874.5 359.7 875.5 359.1 876.5 358.2 877.5 359.4 878.5 358.2 879.5 359.9 880.5 359.7 881.5 361.4 882.5 358.1 883.5 360.9 884.5 359.7 885.5 361.9 886.5 359.3 887.5 360.5 888.5 364.4 889.5 365.1 890.5 367.9 891.5 367.1 892.5 374.1 893.5 379.1 894.5 384.1 895.5 384.8 896.5 385.5 897.5 389.2 898.5 389.4 899.5 389.7 900.5 389.6 901.5 389.4 902.5 385.6 903.5 387.5 904.5 385.2 905.5 386.7 906.5 387.5 907.5 387.8 908.5 388.1 909.5 384.3 910.5 385.8 911.5 391.3 912.5 391.6 913.5 394.0 L913.5 414.5 912.5 413.6 911.5 412.4 910.5 412.1 909.5 412.1 908.5 416.6 907.5 419.1 906.5 418.2 905.5 416.1 904.5 417.2 903.5 419.0 902.5 422.6 901.5 422.5 900.5 422.7 899.5 420.4 898.5 420.5 897.5 422.2 896.5 425.1 895.5 423.9 894.5 424.7 893.5 422.5 892.5 425.1 891.5 420.7 890.5 422.6 889.5 419.3 888.5 416.6 887.5 419.1 886.5 418.4 885.5 420.6 884.5 419.0 883.5 420.3 882.5 417.3 881.5 417.7 880.5 414.8 879.5 415.3 878.5 414.2 877.5 415.2 876.5 416.9 875.5 418.6 874.5 419.0 873.5 418.6 872.5 418.3 871.5 414.9 870.5 411.5 869.5 409.4 868.5 406.9 867.5 407.0 866.5 405.6 865.5 408.4 864.5 406.2 863.5 408.3 862.5 403.4 861.5 403.2 860.5 400.9 859.5 399.7 858.5 401.8 857.5 402.5 856.5 402.4 855.5 401.7 854.5 400.5 853.5 397.7 852.5 399.2 851.5 399.0 850.5 397.0 849.5 399.8 848.5 401.1 847.5 403.5 846.5 404.3 845.5 401.6 844.5 403.1 843.5 403.8 842.5 405.2 841.5 404.2 840.5 406.1 839.5 406.9 838.5 408.6 837.5 408.1 836.5 407.5 835.5 408.9 834.5 409.3 833.5 408.8 832.5 411.4 831.5 413.3 830.5 410.9 829.5 411.4 828.5 410.2 827.5 413.9 826.5 413.3 825.5 413.8 824.5 415.9 823.5 412.8 822.5 414.6 821.5 413.8 820.5 414.9 819.5 416.1 818.5 416.2 817.5 420.4 816.5 421.8 815.5 420.7 814.5 423.1 813.5 422.5 812.5 420.7 811.5 419.6 810.5 419.6 809.5 418.4 808.5 419.0 807.5 421.5 806.5 423.0 805.5 422.7 804.5 424.3 803.5 427.3 802.5 426.2 801.5 425.1 800.5 430.0 799.5 432.1 798.5 436.1 797.5 443.5 796.5 450.2 795.5 456.4 794.5 460.1 793.5 464.6 792.5 468.7 791.5 472.7 790.5 474.3 789.5 479.2 788.5 479.6 787.5 478.3 786.5 477.6 785.5 477.0 784.5 475.3 783.5 474.8 782.5 476.7 781.5 478.7 780.5 480.6 779.5 478.2 778.5 480.6 777.5 480.2 776.5 479.3 775.5 480.7 774.5 480.8 773.5 479.7 772.5 476.8 771.5 479.4 770.5 480.2 769.5 481.6 768.5 483.1 767.5 480.8 766.5 478.9 765.5 480.1 764.5 478.2 763.5 480.0 762.5 479.3 761.5 479.3 760.5 476.3 759.5 475.6 758.5 476.3 757.5 476.4 756.5 477.9 755.5 479.7 754.5 480.9 753.5 481.5 752.5 479.0 751.5 475.0 750.5 471.5 749.5 468.7 748.5 465.8 747.5 466.3 746.5 467.4 745.5 466.7 744.5 465.5 743.5 465.4 742.5 466.8 741.5 463.1 740.5 463.6 739.5 462.8 738.5 459.7 737.5 460.1 736.5 458.8 735.5 457.6 734.5 460.6 733.5 461.5 732.5 460.7 731.5 458.4 730.5 457.1 729.5 454.3 728.5 452.5 727.5 450.9 726.5 450.3 725.5 449.3 724.5 448.9 723.5 448.7 722.5 452.1 721.5 451.5 720.5 447.6 719.5 447.9 718.5 445.2 717.5 445.2 716.5 446.5 715.5 447.8 714.5 449.7 713.5 449.4 712.5 449.3 711.5 447.9 710.5 448.1 709.5 446.3 708.5 448.6 707.5 450.6 706.5 450.4 705.5 454.5 704.5 454.4 703.5 452.6 702.5 450.1 701.5 449.4 700.5 448.3 699.5 448.3 698.5 446.0 697.5 446.9 696.5 444.2 695.5 445.1 694.5 443.3 693.5 442.1 692.5 447.0 691.5 449.2 690.5 450.7 689.5 447.5 688.5 445.2 687.5 445.7 686.5 445.1 685.5 443.9 684.5 443.5 683.5 445.5 682.5 446.1 681.5 447.7 680.5 447.3 679.5 448.7 678.5 446.3 677.5 445.6 676.5 446.3 675.5 446.4 674.5 445.4 673.5 447.0 672.5 445.6 671.5 444.7 670.5 445.1 669.5 446.3 668.5 447.2 667.5 451.0 666.5 452.8 665.5 455.2 664.5 455.0 663.5 455.3 662.5 451.5 661.5 449.6 660.5 445.9 659.5 445.3 658.5 447.8 657.5 450.9 656.5 451.0 655.5 450.9 654.5 453.0 653.5 453.6 652.5 452.5 651.5 451.3 650.5 449.6 649.5 449.1 648.5 446.6 647.5 447.3 646.5 445.1 645.5 445.0 644.5 446.0 643.5 442.3 642.5 440.1 641.5 437.3 640.5 436.1 639.5 440.3 638.5 442.5 637.5 442.9 636.5 442.2 635.5 444.4 634.5 441.8 633.5 442.3 632.5 438.5 631.5 439.7 630.5 439.4 629.5 440.8 628.5 441.3 627.5 442.4 626.5 444.0 625.5 445.6 624.5 442.9 623.5 443.2 622.5 443.2 621.5 445.1 620.5 444.6 619.5 447.1 618.5 449.1 617.5 449.1 616.5 449.2 615.5 447.6 614.5 445.7 613.5 446.8 612.5 447.7 611.5 447.7 610.5 448.8 609.5 449.9 608.5 452.6 607.5 451.2 606.5 449.1 605.5 446.3 604.5 446.3 603.5 449.4 602.5 450.1 601.5 451.1 600.5 449.8 599.5 448.3 598.5 444.3 597.5 446.0 596.5 448.8 595.5 446.0 594.5 446.3 593.5 442.3 592.5 442.9 591.5 443.5 590.5 443.1 589.5 443.2 588.5 442.5 587.5 439.6 586.5 435.5 585.5 433.9 584.5 428.7 583.5 426.1Z" fill="rgb(221, 238, 245)"/>
<path d="M583.5 411.1 584.5 411.0 585.5 407.2 586.5 410.1 587.5 408.5 588.5 405.2 589.5 406.7 590.5 404.9 591.5 406.1 592.5 404.3 593.5 405.0 594.5 400.6 595.5 400.9 596.5 398.7 597.5 400.3 598.5 397.8 599.5 397.8 600.5 394.4 601.5 393.1 602.5 385.8 603.5 377.3 604.5 370.1 605.5 365.5 606.5 361.7 607.5 359.0 608.5 358.4 609.5 359.5 610.5 362.2 611.5 364.7 612.5 366.8 613.5 363.5 614.5 364.3 615.5 363.2 616.5 367.0 617.5 365.9 618.5 368.7 619.5 364.8 620.5 365.8 621.5 368.4 622.5 366.8 623.5 369.7 624.5 368.8 625.5 367.8 626.5 369.1 627.5 365.4 628.5 364.4 629.5 367.1 630.5 365.0 631.5 363.6 632.5 362.1 633.5 365.9 634.5 366.1 635.5 363.6 636.5 362.2 637.5 365.3 638.5 365.1 639.5 360.2 640.5 364.2 641.5 361.8 642.5 366.0 643.5 362.7 644.5 369.1 645.5 369.4 646.5 366.0 647.5 371.3 648.5 371.0 649.5 374.1 650.5 370.6 651.5 371.7 652.5 375.9 653.5 370.3 654.5 373.6 655.5 371.9 656.5 368.4 657.5 373.5 658.5 368.1 659.5 373.0 660.5 369.4 661.5 375.9 662.5 377.4 663.5 380.5 664.5 381.4 665.5 380.8 666.5 380.6 667.5 378.0 668.5 376.6 669.5 374.6 670.5 372.1 671.5 374.9 672.5 373.3 673.5 372.2 674.5 372.7 675.5 375.9 676.5 375.7 677.5 370.8 678.5 370.8 679.5 373.0 680.5 373.4 681.5 369.5 682.5 372.3 683.5 370.1 684.5 370.7 685.5 369.9 686.5 367.1 687.5 373.5 688.5 374.6 689.5 376.2 690.5 378.7 691.5 371.3 692.5 375.9 693.5 372.1 694.5 377.7 695.5 377.6 696.5 378.7 697.5 378.6 698.5 371.0 699.5 377.7 700.5 375.1 701.5 376.7 702.5 379.5 703.5 378.2 704.5 378.0 705.5 383.4 706.5 375.4 707.5 376.0 708.5 377.4 709.5 373.9 710.5 377.3 711.5 374.9 712.5 372.6 713.5 373.2 714.5 373.7 715.5 375.8 716.5 375.9 717.5 373.7 718.5 373.8 719.5 375.8 720.5 374.3 721.5 379.6 722.5 373.9 723.5 373.7 724.5 375.3 725.5 372.4 726.5 376.4 727.5 380.7 728.5 377.6 729.5 384.1 730.5 382.6 731.5 386.5 732.5 385.6 733.5 386.9 734.5 388.8 735.5 384.5 736.5 388.5 737.5 388.0 738.5 384.7 739.5 382.4 740.5 383.4 741.5 384.5 742.5 388.6 743.5 385.9 744.5 389.4 745.5 384.9 746.5 383.6 747.5 385.6 748.5 386.6 749.5 384.4 750.5 386.1 751.5 389.4 752.5 388.8 753.5 386.9 754.5 395.2 755.5 384.3 756.5 387.3 757.5 387.8 758.5 389.7 759.5 388.4 760.5 387.4 761.5 392.0 762.5 386.6 763.5 387.1 764.5 385.0 765.5 379.4 766.5 383.5 767.5 381.0 768.5 382.4 769.5 383.1 770.5 383.9 771.5 380.2 772.5 380.5 773.5 380.7 774.5 385.1 775.5 385.5 776.5 387.3 777.5 385.5 778.5 379.0 779.5 383.5 780.5 385.3 781.5 387.6 782.5 380.9 783.5 389.2 784.5 387.0 785.5 381.8 786.5 384.8 787.5 384.8 788.5 389.4 789.5 388.2 790.5 388.3 791.5 388.6 792.5 392.0 793.5 388.9 794.5 385.2 795.5 391.6 796.5 386.0 797.5 385.5 798.5 389.4 799.5 389.5 800.5 395.8 801.5 390.9 802.5 397.5 803.5 404.2 804.5 401.3 805.5 401.3 806.5 405.4 807.5 399.7 808.5 400.8 809.5 399.0 810.5 400.5 811.5 405.2 812.5 405.2 813.5 406.9 814.5 410.3 815.5 405.1 816.5 408.3 817.5 402.8 818.5 400.1 819.5 398.8 820.5 395.1 821.5 395.7 822.5 398.4 823.5 393.2 824.5 398.2 825.5 392.7 826.5 391.7 827.5 391.8 828.5 388.2 829.5 390.9 830.5 389.8 831.5 394.7 832.5 392.6 833.5 387.4 834.5 389.9 835.5 386.7 836.5 388.0 837.5 387.2 838.5 387.5 839.5 386.4 840.5 384.0 841.5 383.3 842.5 382.5 843.5 379.9 844.5 379.4 845.5 375.0 846.5 375.3 847.5 375.5 848.5 372.3 849.5 370.3 850.5 367.5 851.5 367.5 852.5 368.2 853.5 365.2 854.5 367.1 855.5 368.4 856.5 369.5 857.5 371.3 858.5 369.7 859.5 367.5 860.5 368.9 861.5 370.5 862.5 369.9 863.5 374.1 864.5 374.1 865.5 372.8 866.5 371.2 867.5 370.1 868.5 371.0 869.5 369.7 870.5 369.9 871.5 369.5 872.5 367.7 873.5 367.2 874.5 362.9 875.5 363.6 876.5 359.3 877.5 360.7 878.5 359.3 879.5 359.9 880.5 359.7 881.5 361.4 882.5 358.1 883.5 360.9 884.5 359.7 885.5 361.9 886.5 359.3 887.5 360.5 888.5 364.4 889.5 365.1 890.5 367.9 891.5 367.1 892.5 374.1 893.5 379.1 894.5 384.1 895.5 384.8 896.5 385.5 897.5 389.2 898.5 389.4 899.5 389.7 900.5 389.6 901.5 389.4 902.5 385.6 903.5 387.5 904.5 385.2 905.5 386.7 906.5 387.5 907.5 387.8 908.5 388.1 909.5 384.3 910.5 385.8 911.5 391.3 912.5 391.6 913.5 394.0 L913.5 414.5 912.5 413.6 911.5 412.4 910.5 412.1 909.5 412.1 908.5 416.6 907.5 419.1 906.5 418.2 905.5 416.1 904.5 417.2 903.5 419.0 902.5 422.6 901.5 422.5 900.5 422.7 899.5 420.4 898.5 420.5 897.5 422.2 896.5 425.1 895.5 423.9 894.5 424.7 893.5 422.5 892.5 425.1 891.5 420.7 890.5 422.6 889.5 419.3 888.5 416.6 887.5 419.1 886.5 418.4 885.5 420.6 884.5 419.0 883.5 420.3 882.5 417.3 881.5 417.7 880.5 414.8 879.5 415.3 878.5 414.2 877.5 415.2 876.5 416.9 875.5 418.6 874.5 419.0 873.5 418.6 872.5 418.3 871.5 414.9 870.5 411.5 869.5 409.4 868.5 406.9 867.5 407.0 866.5 405.6 865.5 408.4 864.5 406.2 863.5 408.3 862.5 403.4 861.5 403.2 860.5 400.9 859.5 399.7 858.5 401.8 857.5 402.5 856.5 402.4 855.5 401.7 854.5 400.5 853.5 397.7 852.5 399.2 851.5 399.0 850.5 397.0 849.5 399.8 848.5 401.1 847.5 403.5 846.5 404.3 845.5 401.6 844.5 403.1 843.5 403.8 842.5 405.2 841.5 404.2 840.5 406.1 839.5 406.9 838.5 408.6 837.5 408.1 836.5 407.5 835.5 408.9 834.5 409.3 833.5 408.8 832.5 411.4 831.5 413.3 830.5 410.9 829.5 411.4 828.5 410.2 827.5 413.9 826.5 413.3 825.5 413.8 824.5 415.9 823.5 412.8 822.5 414.6 821.5 413.8 820.5 414.9 819.5 416.1 818.5 416.2 817.5 420.4 816.5 421.8 815.5 420.7 814.5 423.1 813.5 422.5 812.5 420.7 811.5 419.6 810.5 419.6 809.5 418.4 808.5 419.0 807.5 421.5 806.5 423.0 805.5 422.7 804.5 424.3 803.5 427.3 802.5 426.2 801.5 425.1 800.5 430.0 799.5 432.1 798.5 436.1 797.5 443.5 796.5 450.2 795.5 456.4 794.5 460.1 793.5 464.6 792.5 468.7 791.5 472.7 790.5 474.3 789.5 479.2 788.5 479.6 787.5 478.3 786.5 477.6 785.5 477.0 784.5 475.3 783.5 474.8 782.5 476.7 781.5 478.7 780.5 480.6 779.5 478.2 778.5 480.6 777.5 480.2 776.5 479.3 775.5 480.7 774.5 480.8 773.5 479.7 772.5 476.8 771.5 479.4 770.5 480.2 769.5 481.6 768.5 483.1 767.5 480.8 766.5 478.9 765.5 480.1 764.5 478.2 763.5 480.0 762.5 479.3 761.5 479.3 760.5 476.3 759.5 475.6 758.5 476.3 757.5 476.4 756.5 477.9 755.5 479.7 754.5 480.9 753.5 481.5 752.5 479.0 751.5 475.0 750.5 471.5 749.5 468.7 748.5 465.8 747.5 466.3 746.5 467.4 745.5 466.7 744.5 465.5 743.5 465.4 742.5 466.8 741.5 463.1 740.5 463.6 739.5 462.8 738.5 459.7 737.5 460.1 736.5 458.8 735.5 457.6 734.5 460.6 733.5 461.5 732.5 460.7 731.5 458.4 730.5 457.1 729.5 454.3 728.5 452.5 727.5 450.9 726.5 450.3 725.5 449.3 724.5 448.9 723.5 448.7 722.5 452.1 721.5 451.5 720.5 447.6 719.5 447.9 718.5 445.2 717.5 445.2 716.5 446.5 715.5 447.8 714.5 449.7 713.5 449.4 712.5 449.3 711.5 447.9 710.5 448.1 709.5 446.3 708.5 448.6 707.5 450.6 706.5 450.4 705.5 454.5 704.5 454.4 703.5 452.6 702.5 450.1 701.5 449.4 700.5 448.3 699.5 448.3 698.5 446.0 697.5 446.9 696.5 444.2 695.5 445.1 694.5 443.3 693.5 442.1 692.5 447.0 691.5 449.2 690.5 450.7 689.5 447.5 688.5 445.2 687.5 445.7 686.5 445.1 685.5 443.9 684.5 443.5 683.5 445.5 682.5 446.1 681.5 447.7 680.5 447.3 679.5 448.7 678.5 446.3 677.5 445.6 676.5 446.3 675.5 446.4 674.5 445.4 673.5 447.0 672.5 445.6 671.5 444.7 670.5 445.1 669.5 446.3 668.5 447.2 667.5 451.0 666.5 452.8 665.5 455.2 664.5 455.0 663.5 455.3 662.5 451.5 661.5 449.6 660.5 445.9 659.5 445.3 658.5 447.8 657.5 450.9 656.5 451.0 655.5 450.9 654.5 453.0 653.5 453.6 652.5 452.5 651.5 451.3 650.5 449.6 649.5 449.1 648.5 446.6 647.5 447.3 646.5 445.1 645.5 445.0 644.5 446.0 643.5 442.3 642.5 440.1 641.5 437.3 640.5 436.1 639.5 440.3 638.5 442.5 637.5 442.9 636.5 442.2 635.5 444.4 634.5 441.8 633.5 442.3 632.5 438.5 631.5 439.7 630.5 439.4 629.5 440.8 628.5 441.3 627.5 442.4 626.5 444.0 625.5 445.6 624.5 442.9 623.5 443.2 622.5 443.2 621.5 445.1 620.5 444.6 619.5 447.1 618.5 449.1 617.5 449.1 616.5 449.2 615.5 447.6 614.5 445.7 613.5 446.8 612.5 447.7 611.5 447.7 610.5 448.8 609.5 449.9 608.5 452.6 607.5 451.2 606.5 449.1 605.5 446.3 604.5 446.3 603.5 449.4 602.5 450.1 601.5 451.1 600.5 449.8 599.5 448.3 598.5 444.3 597.5 446.0 596.5 448.8 595.5 446.0 594.5 446.3 593.5 442.3 592.5 442.9 591.5 443.5 590.5 443.1 589.5 443.2 588.5 442.5 587.5 439.6 586.5 435.5 585.5 433.9 584.5 428.7 583.5 426.1Z" fill="rgb(213, 234, 243)"/>
<path d="M583.5 411.1 584.5 411.0 585.5 407.2 586.5 410.1 587.5 408.5 588.5 405.2 589.5 406.7 590.5 404.9 591.5 406.1 592.5 404.3 593.5 405.0 594.5 400.6 595.5 400.9 596.5 398.7 597.5 400.3 598.5 397.8 599.5 397.8 600.5 394.4 601.5 393.1 602.5 385.8 603.5 377.3 604.5 370.1 605.5 365.5 606.5 367.8 607.5 372.3 608.5 369.8 609.5 373.0 610.5 376.5 611.5 372.9 612.5 378.4 613.5 374.1 614.5 375.0 615.5 377.9 616.5 379.2 617.5 380.6 618.5 384.5 619.5 379.4 620.5 380.8 621.5 377.7 622.5 378.9 623.5 379.9 624.5 377.2 625.5 376.5 626.5 381.8 627.5 379.4 628.5 376.2 629.5 376.0 630.5 378.0 631.5 377.9 632.5 376.6 633.5 380.3 634.5 378.7 635.5 379.8 636.5 377.4 637.5 375.8 638.5 378.1 639.5 374.1 640.5 372.7 641.5 376.6 642.5 374.7 643.5 376.0 644.5 376.8 645.5 378.1 646.5 380.9 647.5 378.6 648.5 377.8 649.5 381.6 650.5 376.2 651.5 376.7 652.5 378.0 653.5 379.4 654.5 375.6 655.5 376.6 656.5 375.5 657.5 376.8 658.5 379.6 659.5 377.0 660.5 374.0 661.5 375.2 662.5 378.4 663.5 375.5 664.5 374.7 665.5 380.3 666.5 374.5 667.5 379.8 668.5 372.9 669.5 375.1 670.5 375.6 671.5 374.3 672.5 373.6 673.5 371.6 674.5 372.0 675.5 373.4 676.5 371.3 677.5 372.6 678.5 369.0 679.5 376.8 680.5 374.1 681.5 368.9 682.5 369.6 683.5 366.7 684.5 368.8 685.5 367.0 686.5 367.7 687.5 366.9 688.5 368.9 689.5 372.3 690.5 371.8 691.5 368.5 692.5 371.9 693.5 368.2 694.5 374.3 695.5 375.3 696.5 373.9 697.5 375.2 698.5 378.6 699.5 382.6 700.5 381.2 701.5 386.0 702.5 382.5 703.5 386.7 704.5 385.0 705.5 382.8 706.5 382.3 707.5 383.6 708.5 387.4 709.5 385.7 710.5 386.3 711.5 383.4 712.5 383.5 713.5 384.7 714.5 384.5 715.5 384.5 716.5 386.1 717.5 381.4 718.5 381.7 719.5 387.3 720.5 383.0 721.5 388.2 722.5 388.5 723.5 382.1 724.5 387.1 725.5 383.2 726.5 380.9 727.5 381.9 728.5 385.8 729.5 383.1 730.5 381.8 731.5 386.4 732.5 389.7 733.5 383.1 734.5 387.8 735.5 382.8 736.5 385.9 737.5 390.7 738.5 389.6 739.5 385.7 740.5 387.3 741.5 389.1 742.5 393.0 743.5 390.9 744.5 385.9 745.5 389.4 746.5 390.3 747.5 394.9 748.5 389.3 749.5 395.2 750.5 396.8 751.5 394.4 752.5 396.9 753.5 399.2 754.5 395.0 755.5 397.6 756.5 396.8 757.5 391.6 758.5 392.1 759.5 393.6 760.5 386.2 761.5 393.3 762.5 395.2 763.5 399.2 764.5 393.7 765.5 393.2 766.5 396.7 767.5 393.5 768.5 389.6 769.5 392.8 770.5 391.9 771.5 389.8 772.5 392.7 773.5 397.1 774.5 390.3 775.5 394.6 776.5 397.6 777.5 391.9 778.5 396.8 779.5 396.4 780.5 395.9 781.5 399.3 782.5 393.2 783.5 387.7 784.5 393.9 785.5 393.5 786.5 401.0 787.5 400.2 788.5 400.0 789.5 390.8 790.5 394.8 791.5 394.5 792.5 390.4 793.5 388.3 794.5 392.8 795.5 393.2 796.5 397.3 797.5 395.6 798.5 396.6 799.5 394.5 800.5 395.8 801.5 394.7 802.5 398.7 803.5 399.8 804.5 401.4 805.5 403.4 806.5 402.3 807.5 404.2 808.5 399.0 809.5 398.9 810.5 402.5 811.5 401.1 812.5 405.9 813.5 407.8 814.5 409.2 815.5 407.3 816.5 410.4 817.5 407.3 818.5 402.2 819.5 400.6 820.5 400.2 821.5 397.9 822.5 396.9 823.5 394.9 824.5 399.2 825.5 399.7 826.5 397.0 827.5 399.3 828.5 396.8 829.5 397.0 830.5 397.9 831.5 398.5 832.5 395.0 833.5 394.9 834.5 396.0 835.5 394.2 836.5 392.3 837.5 396.3 838.5 396.8 839.5 392.3 840.5 391.5 841.5 388.8 842.5 389.6 843.5 387.5 844.5 384.7 845.5 380.0 846.5 380.6 847.5 376.9 848.5 374.7 849.5 374.8 850.5 371.7 851.5 371.4 852.5 371.5 853.5 371.2 854.5 372.9 855.5 373.3 856.5 372.5 857.5 374.9 858.5 374.1 859.5 370.7 860.5 372.3 861.5 373.6 862.5 374.0 863.5 376.7 864.5 374.8 865.5 377.3 866.5 375.4 867.5 374.5 868.5 375.4 869.5 373.9 870.5 375.0 871.5 374.3 872.5 376.0 873.5 374.3 874.5 368.7 875.5 369.6 876.5 367.1 877.5 366.7 878.5 365.9 879.5 366.4 880.5 364.7 881.5 366.4 882.5 362.3 883.5 363.6 884.5 359.7 885.5 361.9 886.5 359.3 887.5 360.5 888.5 364.4 889.5 365.1 890.5 367.9 891.5 367.1 892.5 374.1 893.5 379.1 894.5 384.1 895.5 384.8 896.5 385.5 897.5 389.2 898.5 389.4 899.5 389.7 900.5 389.6 901.5 389.4 902.5 385.6 903.5 387.5 904.5 385.2 905.5 386.7 906.5 387.5 907.5 387.8 908.5 388.1 909.5 384.3 910.5 385.8 911.5 391.3 912.5 391.6 913.5 394.0 L913.5 414.5 912.5 413.6 911.5 412.4 910.5 412.1 909.5 412.1 908.5 416.6 907.5 419.1 906.5 418.2 905.5 416.1 904.5 417.2 903.5 419.0 902.5 422.6 901.5 422.5 900.5 422.7 899.5 420.4 898.5 420.5 897.5 422.2 896.5 425.1 895.5 423.9 894.5 424.7 893.5 422.5 892.5 425.1 891.5 420.7 890.5 422.6 889.5 419.3 888.5 416.6 887.5 419.1 886.5 418.4 885.5 420.6 884.5 419.0 883.5 420.3 882.5 417.3 881.5 417.7 880.5 414.8 879.5 415.3 878.5 414.2 877.5 415.2 876.5 416.9 875.5 418.6 874.5 419.0 873.5 418.6 872.5 418.3 871.5 414.9 870.5 411.5 869.5 409.4 868.5 406.9 867.5 407.0 866.5 405.6 865.5 408.4 864.5 406.2 863.5 408.3 862.5 403.4 861.5 403.2 860.5 400.9 859.5 399.7 858.5 401.8 857.5 402.5 856.5 402.4 855.5 401.7 854.5 400.5 853.5 397.7 852.5 399.2 851.5 399.0 850.5 397.0 849.5 399.8 848.5 401.1 847.5 403.5 846.5 404.3 845.5 401.6 844.5 403.1 843.5 403.8 842.5 405.2 841.5 404.2 840.5 406.1 839.5 406.9 838.5 408.6 837.5 408.1 836.5 407.5 835.5 408.9 834.5 409.3 833.5 408.8 832.5 411.4 831.5 413.3 830.5 410.9 829.5 411.4 828.5 410.2 827.5 413.9 826.5 413.3 825.5 413.8 824.5 415.9 823.5 412.8 822.5 414.6 821.5 413.8 820.5 414.9 819.5 416.1 818.5 416.2 817.5 420.4 816.5 421.8 815.5 420.7 814.5 423.1 813.5 422.5 812.5 420.7 811.5 419.6 810.5 419.6 809.5 418.4 808.5 419.0 807.5 421.5 806.5 423.0 805.5 422.7 804.5 424.3 803.5 427.3 802.5 426.2 801.5 425.1 800.5 430.0 799.5 432.1 798.5 436.1 797.5 443.5 796.5 450.2 795.5 456.4 794.5 460.1 793.5 464.6 792.5 468.7 791.5 472.7 790.5 474.3 789.5 479.2 788.5 479.6 787.5 478.3 786.5 477.6 785.5 477.0 784.5 475.3 783.5 474.8 782.5 476.7 781.5 478.7 780.5 480.6 779.5 478.2 778.5 480.6 777.5 480.2 776.5 479.3 775.5 480.7 774.5 480.8 773.5 479.7 772.5 476.8 771.5 479.4 770.5 480.2 769.5 481.6 768.5 483.1 767.5 480.8 766.5 478.9 765.5 480.1 764.5 478.2 763.5 480.0 762.5 479.3 761.5 479.3 760.5 476.3 759.5 475.6 758.5 476.3 757.5 476.4 756.5 477.9 755.5 479.7 754.5 480.9 753.5 481.5 752.5 479.0 751.5 475.0 750.5 471.5 749.5 468.7 748.5 465.8 747.5 466.3 746.5 467.4 745.5 466.7 744.5 465.5 743.5 465.4 742.5 466.8 741.5 463.1 740.5 463.6 739.5 462.8 738.5 459.7 737.5 460.1 736.5 458.8 735.5 457.6 734.5 460.6 733.5 461.5 732.5 460.7 731.5 458.4 730.5 457.1 729.5 454.3 728.5 452.5 727.5 450.9 726.5 450.3 725.5 449.3 724.5 448.9 723.5 448.7 722.5 452.1 721.5 451.5 720.5 447.6 719.5 447.9 718.5 445.2 717.5 445.2 716.5 446.5 715.5 447.8 714.5 449.7 713.5 449.4 712.5 449.3 711.5 447.9 710.5 448.1 709.5 446.3 708.5 448.6 707.5 450.6 706.5 450.4 705.5 454.5 704.5 454.4 703.5 452.6 702.5 450.1 701.5 449.4 700.5 448.3 699.5 448.3 698.5 446.0 697.5 446.9 696.5 444.2 695.5 445.1 694.5 443.3 693.5 442.1 692.5 447.0 691.5 449.2 690.5 450.7 689.5 447.5 688.5 445.2 687.5 445.7 686.5 445.1 685.5 443.9 684.5 443.5 683.5 445.5 682.5 446.1 681.5 447.7 680.5 447.3 679.5 448.7 678.5 446.3 677.5 445.6 676.5 446.3 675.5 446.4 674.5 445.4 673.5 447.0 672.5 445.6 671.5 444.7 670.5 445.1 669.5 446.3 668.5 447.2 667.5 451.0 666.5 452.8 665.5 455.2 664.5 455.0 663.5 455.3 662.5 451.5 661.5 449.6 660.5 445.9 659.5 445.3 658.5 447.8 657.5 450.9 656.5 451.0 655.5 450.9 654.5 453.0 653.5 453.6 652.5 452.5 651.5 451.3 650.5 449.6 649.5 449.1 648.5 446.6 647.5 447.3 646.5 445.1 645.5 445.0 644.5 446.0 643.5 442.3 642.5 440.1 641.5 437.3 640.5 436.1 639.5 440.3 638.5 442.5 637.5 442.9 636.5 442.2 635.5 444.4 634.5 441.8 633.5 442.3 632.5 438.5 631.5 439.7 630.5 439.4 629.5 440.8 628.5 441.3 627.5 442.4 626.5 444.0 625.5 445.6 624.5 442.9 623.5 443.2 622.5 443.2 621.5 445.1 620.5 444.6 619.5 447.1 618.5 449.1 617.5 449.1 616.5 449.2 615.5 447.6 614.5 445.7 613.5 446.8 612.5 447.7 611.5 447.7 610.5 448.8 609.5 449.9 608.5 452.6 607.5 451.2 606.5 449.1 605.5 446.3 604.5 446.3 603.5 449.4 602.5 450.1 601.5 451.1 600.5 449.8 599.5 448.3 598.5 444.3 597.5 446.0 596.5 448.8 595.5 446.0 594.5 446.3 593.5 442.3 592.5 442.9 591.5 443.5 590.5 443.1 589.5 443.2 588.5 442.5 587.5 439.6 586.5 435.5 585.5 433.9 584.5 428.7 583.5 426.1Z" fill="rgb(201, 228, 240)"/>
<path d="M583.5 411.1 584.5 411.0 585.5 407.2 586.5 410.1 587.5 408.5 588.5 405.2 589.5 406.7 590.5 404.9 591.5 406.1 592.5 404.3 593.5 405.0 594.5 400.6 595.5 400.9 596.5 398.7 597.5 400.3 598.5 397.8 599.5 397.8 600.5 394.4 601.5 393.1 602.5 385.8 603.5 377.3 604.5 370.1 605.5 365.5 606.5 367.0 607.5 369.8 608.5 372.4 609.5 372.9 610.5 376.8 611.5 376.6 612.5 376.0 613.5 375.4 614.5 376.7 615.5 377.4 616.5 378.9 617.5 378.8 618.5 379.5 619.5 379.2 620.5 376.6 621.5 379.2 622.5 376.6 623.5 379.4 624.5 380.2 625.5 379.2 626.5 385.1 627.5 384.5 628.5 384.0 629.5 383.5 630.5 382.1 631.5 378.4 632.5 379.1 633.5 381.0 634.5 376.7 635.5 379.4 636.5 379.7 637.5 380.2 638.5 380.4 639.5 378.4 640.5 372.8 641.5 373.5 642.5 378.8 643.5 380.4 644.5 381.7 645.5 379.9 646.5 376.8 647.5 380.5 648.5 383.1 649.5 380.3 650.5 382.9 651.5 382.6 652.5 384.3 653.5 382.1 654.5 383.1 655.5 383.2 656.5 385.8 657.5 388.5 658.5 382.3 659.5 383.9 660.5 380.1 661.5 384.2 662.5 385.3 663.5 387.2 664.5 383.6 665.5 387.9 666.5 386.3 667.5 387.6 668.5 381.7 669.5 385.2 670.5 384.9 671.5 378.8 672.5 381.8 673.5 385.5 674.5 383.6 675.5 385.7 676.5 382.5 677.5 387.2 678.5 382.7 679.5 381.7 680.5 381.1 681.5 381.2 682.5 382.1 683.5 382.2 684.5 384.1 685.5 383.4 686.5 380.0 687.5 383.4 688.5 383.9 689.5 385.4 690.5 386.1 691.5 386.9 692.5 386.1 693.5 377.8 694.5 375.2 695.5 378.0 696.5 376.4 697.5 381.9 698.5 379.0 699.5 379.9 700.5 377.7 701.5 380.0 702.5 379.5 703.5 380.6 704.5 386.5 705.5 390.2 706.5 385.6 707.5 381.9 708.5 377.5 709.5 380.4 710.5 379.6 711.5 385.8 712.5 385.0 713.5 385.1 714.5 385.3 715.5 388.5 716.5 388.0 717.5 390.2 718.5 390.1 719.5 387.8 720.5 391.0 721.5 393.2 722.5 387.6 723.5 385.1 724.5 391.3 725.5 386.8 726.5 390.3 727.5 389.7 728.5 389.1 729.5 390.7 730.5 394.5 731.5 398.7 732.5 400.0 733.5 397.3 734.5 394.5 735.5 390.5 736.5 395.3 737.5 396.2 738.5 395.5 739.5 393.7 740.5 396.2 741.5 397.2 742.5 404.3 743.5 400.2 744.5 396.3 745.5 401.5 746.5 398.2 747.5 396.9 748.5 399.5 749.5 393.7 750.5 398.7 751.5 406.1 752.5 404.7 753.5 408.0 754.5 405.7 755.5 409.0 756.5 408.8 757.5 400.4 758.5 401.4 759.5 401.0 760.5 401.1 761.5 399.7 762.5 401.1 763.5 406.6 764.5 408.9 765.5 403.3 766.5 406.8 767.5 410.0 768.5 411.9 769.5 412.6 770.5 409.8 771.5 414.4 772.5 407.0 773.5 411.6 774.5 411.3 775.5 412.4 776.5 408.7 777.5 415.5 778.5 413.5 779.5 404.4 780.5 405.6 781.5 406.8 782.5 410.2 783.5 405.0 784.5 407.9 785.5 403.4 786.5 410.6 787.5 407.2 788.5 412.5 789.5 411.9 790.5 407.9 791.5 406.8 792.5 402.1 793.5 402.2 794.5 404.8 795.5 404.3 796.5 402.7 797.5 406.8 798.5 407.5 799.5 404.7 800.5 406.2 801.5 406.6 802.5 408.3 803.5 414.4 804.5 412.3 805.5 413.0 806.5 413.2 807.5 411.5 808.5 409.0 809.5 408.3 810.5 409.6 811.5 409.5 812.5 410.7 813.5 412.6 814.5 413.1 815.5 410.6 816.5 411.8 817.5 410.3 818.5 405.8 819.5 405.8 820.5 404.5 821.5 403.4 822.5 404.3 823.5 402.4 824.5 405.6 825.5 403.4 826.5 402.8 827.5 403.4 828.5 399.7 829.5 401.0 830.5 400.3 831.5 402.9 832.5 400.9 833.5 398.1 834.5 398.7 835.5 398.2 836.5 396.7 837.5 397.2 838.5 397.4 839.5 395.8 840.5 394.9 841.5 392.9 842.5 393.8 843.5 391.9 844.5 390.5 845.5 384.8 846.5 387.9 847.5 385.8 848.5 380.0 849.5 379.4 850.5 375.1 851.5 376.5 852.5 376.8 853.5 373.5 854.5 373.9 855.5 376.0 856.5 375.9 857.5 376.2 858.5 374.9 859.5 373.6 860.5 376.3 861.5 376.7 862.5 374.1 863.5 379.9 864.5 377.8 865.5 377.5 866.5 374.3 867.5 375.2 868.5 373.9 869.5 373.4 870.5 373.2 871.5 372.8 872.5 372.6 873.5 373.0 874.5 369.1 875.5 369.9 876.5 366.9 877.5 367.2 878.5 365.9 879.5 365.6 880.5 365.0 881.5 364.6 882.5 360.1 883.5 361.2 884.5 359.7 885.5 361.9 886.5 359.3 887.5 360.5 888.5 364.4 889.5 365.1 890.5 367.9 891.5 367.1 892.5 374.1 893.5 379.1 894.5 384.1 895.5 384.8 896.5 385.5 897.5 389.2 898.5 389.4 899.5 389.7 900.5 389.6 901.5 389.4 902.5 385.6 903.5 387.5 904.5 385.2 905.5 386.7 906.5 387.5 907.5 387.8 908.5 388.1 909.5 384.3 910.5 385.8 911.5 391.3 912.5 391.6 913.5 394.0 L913.5 414.5 912.5 413.6 911.5 412.4 910.5 412.1 909.5 412.1 908.5 416.6 907.5 419.1 906.5 418.2 905.5 416.1 904.5 417.2 903.5 419.0 902.5 422.6 901.5 422.5 900.5 422.7 899.5 420.4 898.5 420.5 897.5 422.2 896.5 425.1 895.5 423.9 894.5 424.7 893.5 422.5 892.5 425.1 891.5 420.7 890.5 422.6 889.5 419.3 888.5 416.6 887.5 419.1 886.5 418.4 885.5 420.6 884.5 419.0 883.5 420.3 882.5 417.3 881.5 417.7 880.5 414.8 879.5 415.3 878.5 414.2 877.5 415.2 876.5 416.9 875.5 418.6 874.5 419.0 873.5 418.6 872.5 418.3 871.5 414.9 870.5 411.5 869.5 409.4 868.5 406.9 867.5 407.0 866.5 405.6 865.5 408.4 864.5 406.2 863.5 408.3 862.5 403.4 861.5 403.2 860.5 400.9 859.5 399.7 858.5 401.8 857.5 402.5 856.5 402.4 855.5 401.7 854.5 400.5 853.5 397.7 852.5 399.2 851.5 399.0 850.5 397.0 849.5 399.8 848.5 401.1 847.5 403.5 846.5 404.3 845.5 401.6 844.5 403.1 843.5 403.8 842.5 405.2 841.5 404.2 840.5 406.1 839.5 406.9 838.5 408.6 837.5 408.1 836.5 407.5 835.5 408.9 834.5 409.3 833.5 408.8 832.5 411.4 831.5 413.3 830.5 410.9 829.5 411.4 828.5 410.2 827.5 413.9 826.5 413.3 825.5 413.8 824.5 415.9 823.5 412.8 822.5 414.6 821.5 413.8 820.5 414.9 819.5 416.1 818.5 416.2 817.5 420.4 816.5 421.8 815.5 420.7 814.5 423.1 813.5 422.5 812.5 420.7 811.5 419.6 810.5 419.6 809.5 418.4 808.5 419.0 807.5 421.5 806.5 423.0 805.5 422.7 804.5 424.3 803.5 427.3 802.5 426.2 801.5 425.1 800.5 430.0 799.5 432.1 798.5 436.1 797.5 443.5 796.5 450.2 795.5 456.4 794.5 460.1 793.5 464.6 792.5 468.7 791.5 472.7 790.5 474.3 789.5 479.2 788.5 479.6 787.5 478.3 786.5 477.6 785.5 477.0 784.5 475.3 783.5 474.8 782.5 476.7 781.5 478.7 780.5 480.6 779.5 478.2 778.5 480.6 777.5 480.2 776.5 479.3 775.5 480.7 774.5 480.8 773.5 479.7 772.5 476.8 771.5 479.4 770.5 480.2 769.5 481.6 768.5 483.1 767.5 480.8 766.5 478.9 765.5 480.1 764.5 478.2 763.5 480.0 762.5 479.3 761.5 479.3 760.5 476.3 759.5 475.6 758.5 476.3 757.5 476.4 756.5 477.9 755.5 479.7 754.5 480.9 753.5 481.5 752.5 479.0 751.5 475.0 750.5 471.5 749.5 468.7 748.5 465.8 747.5 466.3 746.5 467.4 745.5 466.7 744.5 465.5 743.5 465.4 742.5 466.8 741.5 463.1 740.5 463.6 739.5 462.8 738.5 459.7 737.5 460.1 736.5 458.8 735.5 457.6 734.5 460.6 733.5 461.5 732.5 460.7 731.5 458.4 730.5 457.1 729.5 454.3 728.5 452.5 727.5 450.9 726.5 450.3 725.5 449.3 724.5 448.9 723.5 448.7 722.5 452.1 721.5 451.5 720.5 447.6 719.5 447.9 718.5 445.2 717.5 445.2 716.5 446.5 715.5 447.8 714.5 449.7 713.5 449.4 712.5 449.3 711.5 447.9 710.5 448.1 709.5 446.3 708.5 448.6 707.5 450.6 706.5 450.4 705.5 454.5 704.5 454.4 703.5 452.6 702.5 450.1 701.5 449.4 700.5 448.3 699.5 448.3 698.5 446.0 697.5 446.9 696.5 444.2 695.5 445.1 694.5 443.3 693.5 442.1 692.5 447.0 691.5 449.2 690.5 450.7 689.5 447.5 688.5 445.2 687.5 445.7 686.5 445.1 685.5 443.9 684.5 443.5 683.5 445.5 682.5 446.1 681.5 447.7 680.5 447.3 679.5 448.7 678.5 446.3 677.5 445.6 676.5 446.3 675.5 446.4 674.5 445.4 673.5 447.0 672.5 445.6 671.5 444.7 670.5 445.1 669.5 446.3 668.5 447.2 667.5 451.0 666.5 452.8 665.5 455.2 664.5 455.0 663.5 455.3 662.5 451.5 661.5 449.6 660.5 445.9 659.5 445.3 658.5 447.8 657.5 450.9 656.5 451.0 655.5 450.9 654.5 453.0 653.5 453.6 652.5 452.5 651.5 451.3 650.5 449.6 649.5 449.1 648.5 446.6 647.5 447.3 646.5 445.1 645.5 445.0 644.5 446.0 643.5 442.3 642.5 440.1 641.5 437.3 640.5 436.1 639.5 440.3 638.5 442.5 637.5 442.9 636.5 442.2 635.5 444.4 634.5 441.8 633.5 442.3 632.5 438.5 631.5 439.7 630.5 439.4 629.5 440.8 628.5 441.3 627.5 442.4 626.5 444.0 625.5 445.6 624.5 442.9 623.5 443.2 622.5 443.2 621.5 445.1 620.5 444.6 619.5 447.1 618.5 449.1 617.5 449.1 616.5 449.2 615.5 447.6 614.5 445.7 613.5 446.8 612.5 447.7 611.5 447.7 610.5 448.8 609.5 449.9 608.5 452.6 607.5 451.2 606.5 449.1 605.5 446.3 604.5 446.3 603.5 449.4 602.5 450.1 601.5 451.1 600.5 449.8 599.5 448.3 598.5 444.3 597.5 446.0 596.5 448.8 595.5 446.0 594.5 446.3 593.5 442.3 592.5 442.9 591.5 443.5 590.5 443.1 589.5 443.2 588.5 442.5 587.5 439.6 586.5 435.5 585.5 433.9 584.5 428.7 583.5 426.1Z" fill="rgb(189, 222, 237)"/>
<path d="M583.5 411.1 584.5 411.0 585.5 407.2 586.5 410.1 587.5 408.5 588.5 405.2 589.5 406.7 590.5 404.9 591.5 406.1 592.5 404.3 593.5 405.0 594.5 400.6 595.5 400.9 596.5 398.7 597.5 400.3 598.5 397.8 599.5 397.8 600.5 394.4 601.5 393.1 602.5 385.8 603.5 377.7 604.5 377.8 605.5 373.9 606.5 374.1 607.5 373.5 608.5 374.3 609.5 381.4 610.5 378.6 611.5 381.3 612.5 379.8 613.5 379.9 614.5 377.9 615.5 381.8 616.5 385.3 617.5 385.1 618.5 384.9 619.5 383.8 620.5 381.5 621.5 381.2 622.5 379.0 623.5 381.7 624.5 380.0 625.5 385.2 626.5 382.4 627.5 380.3 628.5 381.8 629.5 379.8 630.5 380.6 631.5 380.9 632.5 378.9 633.5 381.5 634.5 380.4 635.5 380.2 636.5 375.5 637.5 380.5 638.5 376.9 639.5 379.5 640.5 376.7 641.5 379.6 642.5 380.6 643.5 379.8 644.5 381.9 645.5 380.7 646.5 381.8 647.5 381.7 648.5 385.7 649.5 387.1 650.5 390.6 651.5 390.9 652.5 388.2 653.5 388.3 654.5 393.5 655.5 392.7 656.5 390.2 657.5 386.8 658.5 384.2 659.5 386.1 660.5 387.0 661.5 394.1 662.5 395.7 663.5 397.7 664.5 397.7 665.5 396.4 666.5 395.3 667.5 393.2 668.5 392.4 669.5 389.2 670.5 388.0 671.5 388.2 672.5 388.8 673.5 388.9 674.5 389.9 675.5 388.5 676.5 387.5 677.5 388.0 678.5 390.0 679.5 390.2 680.5 389.1 681.5 387.0 682.5 386.6 683.5 384.3 684.5 382.4 685.5 385.6 686.5 386.8 687.5 387.2 688.5 385.4 689.5 392.7 690.5 393.0 691.5 389.5 692.5 393.4 693.5 389.9 694.5 389.7 695.5 393.6 696.5 391.3 697.5 393.3 698.5 390.8 699.5 390.7 700.5 388.1 701.5 393.0 702.5 390.2 703.5 398.3 704.5 392.3 705.5 398.8 706.5 395.9 707.5 390.8 708.5 387.6 709.5 389.1 710.5 386.8 711.5 391.8 712.5 391.9 713.5 391.3 714.5 387.5 715.5 388.3 716.5 386.2 717.5 390.0 718.5 390.8 719.5 393.9 720.5 389.0 721.5 397.9 722.5 394.1 723.5 390.1 724.5 392.2 725.5 389.8 726.5 395.1 727.5 393.3 728.5 394.7 729.5 395.4 730.5 398.7 731.5 404.9 732.5 405.8 733.5 404.5 734.5 407.3 735.5 401.0 736.5 402.1 737.5 401.9 738.5 405.6 739.5 405.5 740.5 404.6 741.5 401.6 742.5 401.2 743.5 397.5 744.5 405.2 745.5 405.6 746.5 401.4 747.5 397.4 748.5 403.4 749.5 403.1 750.5 404.3 751.5 403.5 752.5 411.3 753.5 409.9 754.5 413.4 755.5 402.4 756.5 407.5 757.5 407.9 758.5 408.2 759.5 408.2 760.5 404.9 761.5 404.9 762.5 405.3 763.5 406.2 764.5 403.3 765.5 402.7 766.5 396.3 767.5 397.6 768.5 400.1 769.5 400.7 770.5 406.3 771.5 399.1 772.5 396.8 773.5 397.1 774.5 406.3 775.5 400.3 776.5 400.7 777.5 404.8 778.5 405.5 779.5 399.2 780.5 405.3 781.5 403.7 782.5 401.5 783.5 407.9 784.5 398.0 785.5 405.1 786.5 406.6 787.5 407.5 788.5 408.7 789.5 413.6 790.5 408.2 791.5 407.8 792.5 402.1 793.5 408.7 794.5 403.5 795.5 402.9 796.5 403.2 797.5 404.2 798.5 402.9 799.5 406.9 800.5 410.6 801.5 409.6 802.5 416.6 803.5 417.7 804.5 414.5 805.5 413.0 806.5 413.2 807.5 411.5 808.5 409.0 809.5 408.3 810.5 409.6 811.5 409.5 812.5 410.7 813.5 412.6 814.5 413.1 815.5 410.6 816.5 411.8 817.5 410.3 818.5 405.8 819.5 405.8 820.5 404.5 821.5 403.4 822.5 404.3 823.5 402.4 824.5 405.6 825.5 403.4 826.5 402.8 827.5 403.4 828.5 399.7 829.5 401.0 830.5 400.3 831.5 402.9 832.5 400.9 833.5 398.1 834.5 398.7 835.5 398.2 836.5 396.7 837.5 397.2 838.5 397.6 839.5 395.8 840.5 394.9 841.5 392.9 842.5 393.8 843.5 392.5 844.5 390.8 845.5 385.3 846.5 387.6 847.5 384.0 848.5 381.6 849.5 378.9 850.5 373.6 851.5 375.0 852.5 372.9 853.5 373.4 854.5 373.4 855.5 373.9 856.5 375.5 857.5 377.4 858.5 375.9 859.5 374.3 860.5 374.5 861.5 375.7 862.5 375.6 863.5 379.5 864.5 377.8 865.5 378.5 866.5 377.8 867.5 376.2 868.5 376.2 869.5 376.0 870.5 377.8 871.5 376.2 872.5 377.8 873.5 375.4 874.5 370.7 875.5 372.2 876.5 371.5 877.5 370.6 878.5 367.5 879.5 369.0 880.5 366.6 881.5 368.4 882.5 364.2 883.5 367.2 884.5 363.7 885.5 366.1 886.5 359.3 887.5 360.5 888.5 364.4 889.5 365.1 890.5 367.9 891.5 367.1 892.5 374.1 893.5 379.1 894.5 384.1 895.5 384.8 896.5 385.5 897.5 389.2 898.5 389.4 899.5 389.7 900.5 389.6 901.5 389.4 902.5 385.6 903.5 387.5 904.5 385.2 905.5 386.7 906.5 387.5 907.5 387.8 908.5 388.1 909.5 384.3 910.5 385.8 911.5 391.3 912.5 391.6 913.5 394.0 L913.5 414.5 912.5 413.6 911.5 412.4 910.5 412.1 909.5 412.1 908.5 416.6 907.5 419.1 906.5 418.2 905.5 416.1 904.5 417.2 903.5 419.0 902.5 422.6 901.5 422.5 900.5 422.7 899.5 420.4 898.5 420.5 897.5 422.2 896.5 425.1 895.5 423.9 894.5 424.7 893.5 422.5 892.5 425.1 891.5 420.7 890.5 422.6 889.5 419.3 888.5 416.6 887.5 419.1 886.5 418.4 885.5 420.6 884.5 419.0 883.5 420.3 882.5 417.3 881.5 417.7 880.5 414.8 879.5 415.3 878.5 414.2 877.5 415.2 876.5 416.9 875.5 418.6 874.5 419.0 873.5 418.6 872.5 418.3 871.5 414.9 870.5 411.5 869.5 409.4 868.5 406.9 867.5 407.0 866.5 405.6 865.5 408.4 864.5 406.2 863.5 408.3 862.5 403.4 861.5 403.2 860.5 400.9 859.5 399.7 858.5 401.8 857.5 402.5 856.5 402.4 855.5 401.7 854.5 400.5 853.5 397.7 852.5 399.2 851.5 399.0 850.5 397.0 849.5 399.8 848.5 401.1 847.5 403.5 846.5 404.3 845.5 401.6 844.5 403.1 843.5 403.8 842.5 405.2 841.5 404.2 840.5 406.1 839.5 406.9 838.5 408.6 837.5 408.1 836.5 407.5 835.5 408.9 834.5 409.3 833.5 408.8 832.5 411.4 831.5 413.3 830.5 410.9 829.5 411.4 828.5 410.2 827.5 413.9 826.5 413.3 825.5 413.8 824.5 415.9 823.5 412.8 822.5 414.6 821.5 413.8 820.5 414.9 819.5 416.1 818.5 416.2 817.5 420.4 816.5 421.8 815.5 420.7 814.5 423.1 813.5 422.5 812.5 420.7 811.5 419.6 810.5 419.6 809.5 418.4 808.5 419.0 807.5 421.5 806.5 423.0 805.5 422.7 804.5 424.3 803.5 427.3 802.5 426.2 801.5 425.1 800.5 430.0 799.5 432.1 798.5 436.1 797.5 443.5 796.5 450.2 795.5 456.4 794.5 460.1 793.5 464.6 792.5 468.7 791.5 472.7 790.5 474.3 789.5 479.2 788.5 479.6 787.5 478.3 786.5 477.6 785.5 477.0 784.5 475.3 783.5 474.8 782.5 476.7 781.5 478.7 780.5 480.6 779.5 478.2 778.5 480.6 777.5 480.2 776.5 479.3 775.5 480.7 774.5 480.8 773.5 479.7 772.5 476.8 771.5 479.4 770.5 480.2 769.5 481.6 768.5 483.1 767.5 480.8 766.5 478.9 765.5 480.1 764.5 478.2 763.5 480.0 762.5 479.3 761.5 479.3 760.5 476.3 759.5 475.6 758.5 476.3 757.5 476.4 756.5 477.9 755.5 479.7 754.5 480.9 753.5 481.5 752.5 479.0 751.5 475.0 750.5 471.5 749.5 468.7 748.5 465.8 747.5 466.3 746.5 467.4 745.5 466.7 744.5 465.5 743.5 465.4 742.5 466.8 741.5 463.1 740.5 463.6 739.5 462.8 738.5 459.7 737.5 460.1 736.5 458.8 735.5 457.6 734.5 460.6 733.5 461.5 732.5 460.7 731.5 458.4 730.5 457.1 729.5 454.3 728.5 452.5 727.5 450.9 726.5 450.3 725.5 449.3 724.5 448.9 723.5 448.7 722.5 452.1 721.5 451.5 720.5 447.6 719.5 447.9 718.5 445.2 717.5 445.2 716.5 446.5 715.5 447.8 714.5 449.7 713.5 449.4 712.5 449.3 711.5 447.9 710.5 448.1 709.5 446.3 708.5 448.6 707.5 450.6 706.5 450.4 705.5 454.5 704.5 454.4 703.5 452.6 702.5 450.1 701.5 449.4 700.5 448.3 699.5 448.3 698.5 446.0 697.5 446.9 696.5 444.2 695.5 445.1 694.5 443.3 693.5 442.1 692.5 447.0 691.5 449.2 690.5 450.7 689.5 447.5 688.5 445.2 687.5 445.7 686.5 445.1 685.5 443.9 684.5 443.5 683.5 445.5 682.5 446.1 681.5 447.7 680.5 447.3 679.5 448.7 678.5 446.3 677.5 445.6 676.5 446.3 675.5 446.4 674.5 445.4 673.5 447.0 672.5 445.6 671.5 444.7 670.5 445.1 669.5 446.3 668.5 447.2 667.5 451.0 666.5 452.8 665.5 455.2 664.5 455.0 663.5 455.3 662.5 451.5 661.5 449.6 660.5 445.9 659.5 445.3 658.5 447.8 657.5 450.9 656.5 451.0 655.5 450.9 654.5 453.0 653.5 453.6 652.5 452.5 651.5 451.3 650.5 449.6 649.5 449.1 648.5 446.6 647.5 447.3 646.5 445.1 645.5 445.0 644.5 446.0 643.5 442.3 642.5 440.1 641.5 437.3 640.5 436.1 639.5 440.3 638.5 442.5 637.5 442.9 636.5 442.2 635.5 444.4 634.5 441.8 633.5 442.3 632.5 438.5 631.5 439.7 630.5 439.4 629.5 440.8 628.5 441.3 627.5 442.4 626.5 444.0 625.5 445.6 624.5 442.9 623.5 443.2 622.5 443.2 621.5 445.1 620.5 444.6 619.5 447.1 618.5 449.1 617.5 449.1 616.5 449.2 615.5 447.6 614.5 445.7 613.5 446.8 612.5 447.7 611.5 447.7 610.5 448.8 609.5 449.9 608.5 452.6 607.5 451.2 606.5 449.1 605.5 446.3 604.5 446.3 603.5 449.4 602.5 450.1 601.5 451.1 600.5 449.8 599.5 448.3 598.5 444.3 597.5 446.0 596.5 448.8 595.5 446.0 594.5 446.3 593.5 442.3 592.5 442.9 591.5 443.5 590.5 443.1 589.5 443.2 588.5 442.5 587.5 439.6 586.5 435.5 585.5 433.9 584.5 428.7 583.5 426.1Z" fill="rgb(179, 216, 234)"/>
<path d="M583.5 411.1 584.5 411.0 585.5 407.2 586.5 410.1 587.5 408.5 588.5 405.2 589.5 406.7 590.5 404.9 591.5 406.1 592.5 404.3 593.5 405.0 594.5 400.6 595.5 400.9 596.5 398.7 597.5 400.3 598.5 397.8 599.5 397.8 600.5 394.4 601.5 395.7 602.5 392.0 603.5 385.9 604.5 385.0 605.5 384.6 606.5 385.3 607.5 391.2 608.5 390.8 609.5 392.9 610.5 392.9 611.5 388.8 612.5 394.1 613.5 393.2 614.5 393.1 615.5 393.0 616.5 395.3 617.5 395.6 618.5 396.3 619.5 393.4 620.5 395.4 621.5 394.9 622.5 394.5 623.5 397.0 624.5 390.9 625.5 394.9 626.5 393.6 627.5 391.4 628.5 389.6 629.5 392.4 630.5 391.6 631.5 389.1 632.5 392.3 633.5 391.0 634.5 392.2 635.5 393.4 636.5 395.6 637.5 394.2 638.5 391.8 639.5 390.0 640.5 386.4 641.5 388.8 642.5 390.4 643.5 393.4 644.5 394.5 645.5 392.6 646.5 393.1 647.5 394.2 648.5 390.0 649.5 392.9 650.5 396.4 651.5 392.8 652.5 395.7 653.5 397.6 654.5 395.0 655.5 391.9 656.5 393.7 657.5 393.8 658.5 389.9 659.5 392.0 660.5 388.9 661.5 393.3 662.5 395.6 663.5 396.2 664.5 397.6 665.5 396.3 666.5 391.7 667.5 394.5 668.5 393.3 669.5 385.9 670.5 390.6 671.5 389.2 672.5 388.8 673.5 388.9 674.5 385.3 675.5 387.9 676.5 386.9 677.5 388.9 678.5 386.4 679.5 392.0 680.5 390.6 681.5 387.1 682.5 384.2 683.5 386.3 684.5 385.3 685.5 382.4 686.5 384.0 687.5 382.3 688.5 382.9 689.5 387.7 690.5 384.5 691.5 386.8 692.5 390.7 693.5 384.9 694.5 390.7 695.5 386.6 696.5 388.1 697.5 394.5 698.5 392.8 699.5 398.6 700.5 394.3 701.5 400.9 702.5 395.8 703.5 402.1 704.5 402.1 705.5 398.4 706.5 401.6 707.5 399.0 708.5 399.9 709.5 400.5 710.5 398.6 711.5 395.6 712.5 398.7 713.5 402.6 714.5 398.6 715.5 397.6 716.5 396.5 717.5 397.9 718.5 395.5 719.5 403.5 720.5 401.3 721.5 399.2 722.5 400.2 723.5 400.3 724.5 402.9 725.5 401.0 726.5 396.3 727.5 402.3 728.5 396.4 729.5 398.9 730.5 403.2 731.5 399.9 732.5 403.8 733.5 404.2 734.5 399.9 735.5 398.1 736.5 400.1 737.5 400.8 738.5 400.8 739.5 400.4 740.5 402.4 741.5 407.7 742.5 405.5 743.5 404.6 744.5 403.6 745.5 406.5 746.5 407.6 747.5 412.4 748.5 406.9 749.5 406.7 750.5 413.8 751.5 411.4 752.5 414.0 753.5 413.8 754.5 411.8 755.5 408.8 756.5 414.1 757.5 412.4 758.5 405.6 759.5 411.8 760.5 409.4 761.5 411.6 762.5 412.2 763.5 413.0 764.5 411.1 765.5 415.7 766.5 414.6 767.5 411.8 768.5 415.8 769.5 407.7 770.5 411.0 771.5 402.9 772.5 409.7 773.5 413.8 774.5 413.4 775.5 409.8 776.5 410.3 777.5 415.4 778.5 413.7 779.5 413.8 780.5 418.6 781.5 411.6 782.5 415.3 783.5 410.1 784.5 416.1 785.5 414.7 786.5 419.6 787.5 418.0 788.5 415.2 789.5 415.3 790.5 409.8 791.5 410.6 792.5 409.5 793.5 407.3 794.5 410.0 795.5 410.8 796.5 414.3 797.5 408.5 798.5 413.6 799.5 412.9 800.5 419.1 801.5 411.3 802.5 416.6 803.5 417.7 804.5 414.5 805.5 413.0 806.5 413.2 807.5 411.5 808.5 409.0 809.5 408.3 810.5 409.6 811.5 409.5 812.5 410.7 813.5 412.6 814.5 413.1 815.5 410.6 816.5 411.8 817.5 410.3 818.5 405.8 819.5 405.8 820.5 404.5 821.5 403.4 822.5 404.3 823.5 402.4 824.5 405.6 825.5 403.4 826.5 402.8 827.5 403.4 828.5 399.7 829.5 401.0 830.5 400.3 831.5 402.9 832.5 400.9 833.5 398.1 834.5 398.7 835.5 398.2 836.5 396.7 837.5 397.2 838.5 397.6 839.5 395.8 840.5 394.9 841.5 392.9 842.5 393.8 843.5 392.5 844.5 391.7 845.5 390.1 846.5 391.4 847.5 388.4 848.5 384.7 849.5 382.3 850.5 377.4 851.5 379.3 852.5 378.1 853.5 376.7 854.5 378.8 855.5 380.4 856.5 378.3 857.5 380.9 858.5 379.9 859.5 376.4 860.5 378.5 861.5 380.8 862.5 379.5 863.5 383.1 864.5 380.6 865.5 382.9 866.5 381.0 867.5 380.7 868.5 380.9 869.5 380.9 870.5 381.3 871.5 382.1 872.5 384.9 873.5 383.7 874.5 379.5 875.5 380.2 876.5 378.9 877.5 376.1 878.5 374.2 879.5 376.9 880.5 375.3 881.5 378.2 882.5 374.1 883.5 376.2 884.5 372.9 885.5 373.9 886.5 367.3 887.5 365.8 888.5 368.5 889.5 365.1 890.5 367.9 891.5 367.1 892.5 374.1 893.5 379.1 894.5 384.1 895.5 384.8 896.5 385.5 897.5 389.2 898.5 389.4 899.5 389.7 900.5 389.6 901.5 389.4 902.5 385.6 903.5 387.5 904.5 385.2 905.5 386.7 906.5 387.5 907.5 387.8 908.5 388.1 909.5 384.3 910.5 385.8 911.5 391.3 912.5 391.6 913.5 394.0 L913.5 414.5 912.5 413.6 911.5 412.4 910.5 412.1 909.5 412.1 908.5 416.6 907.5 419.1 906.5 418.2 905.5 416.1 904.5 417.2 903.5 419.0 902.5 422.6 901.5 422.5 900.5 422.7 899.5 420.4 898.5 420.5 897.5 422.2 896.5 425.1 895.5 423.9 894.5 424.7 893.5 422.5 892.5 425.1 891.5 420.7 890.5 422.6 889.5 419.3 888.5 416.6 887.5 419.1 886.5 418.4 885.5 420.6 884.5 419.0 883.5 420.3 882.5 417.3 881.5 417.7 880.5 414.8 879.5 415.3 878.5 414.2 877.5 415.2 876.5 416.9 875.5 418.6 874.5 419.0 873.5 418.6 872.5 418.3 871.5 414.9 870.5 411.5 869.5 409.4 868.5 406.9 867.5 407.0 866.5 405.6 865.5 408.4 864.5 406.2 863.5 408.3 862.5 403.4 861.5 403.2 860.5 400.9 859.5 399.7 858.5 401.8 857.5 402.5 856.5 402.4 855.5 401.7 854.5 400.5 853.5 397.7 852.5 399.2 851.5 399.0 850.5 397.0 849.5 399.8 848.5 401.1 847.5 403.5 846.5 404.3 845.5 401.6 844.5 403.1 843.5 403.8 842.5 405.2 841.5 404.2 840.5 406.1 839.5 406.9 838.5 408.6 837.5 408.1 836.5 407.5 835.5 408.9 834.5 409.3 833.5 408.8 832.5 411.4 831.5 413.3 830.5 410.9 829.5 411.4 828.5 410.2 827.5 413.9 826.5 413.3 825.5 413.8 824.5 415.9 823.5 412.8 822.5 414.6 821.5 413.8 820.5 414.9 819.5 416.1 818.5 416.2 817.5 420.4 816.5 421.8 815.5 420.7 814.5 423.1 813.5 422.5 812.5 420.7 811.5 419.6 810.5 419.6 809.5 418.4 808.5 419.0 807.5 421.5 806.5 423.0 805.5 422.7 804.5 424.3 803.5 427.3 802.5 426.2 801.5 425.1 800.5 430.0 799.5 432.1 798.5 436.1 797.5 443.5 796.5 450.2 795.5 456.4 794.5 460.1 793.5 464.6 792.5 468.7 791.5 472.7 790.5 474.3 789.5 479.2 788.5 479.6 787.5 478.3 786.5 477.6 785.5 477.0 784.5 475.3 783.5 474.8 782.5 476.7 781.5 478.7 780.5 480.6 779.5 478.2 778.5 480.6 777.5 480.2 776.5 479.3 775.5 480.7 774.5 480.8 773.5 479.7 772.5 476.8 771.5 479.4 770.5 480.2 769.5 481.6 768.5 483.1 767.5 480.8 766.5 478.9 765.5 480.1 764.5 478.2 763.5 480.0 762.5 479.3 761.5 479.3 760.5 476.3 759.5 475.6 758.5 476.3 757.5 476.4 756.5 477.9 755.5 479.7 754.5 480.9 753.5 481.5 752.5 479.0 751.5 475.0 750.5 471.5 749.5 468.7 748.5 465.8 747.5 466.3 746.5 467.4 745.5 466.7 744.5 465.5 743.5 465.4 742.5 466.8 741.5 463.1 740.5 463.6 739.5 462.8 738.5 459.7 737.5 460.1 736.5 458.8 735.5 457.6 734.5 460.6 733.5 461.5 732.5 460.7 731.5 458.4 730.5 457.1 729.5 454.3 728.5 452.5 727.5 450.9 726.5 450.3 725.5 449.3 724.5 448.9 723.5 448.7 722.5 452.1 721.5 451.5 720.5 447.6 719.5 447.9 718.5 445.2 717.5 445.2 716.5 446.5 715.5 447.8 714.5 449.7 713.5 449.4 712.5 449.3 711.5 447.9 710.5 448.1 709.5 446.3 708.5 448.6 707.5 450.6 706.5 450.4 705.5 454.5 704.5 454.4 703.5 452.6 702.5 450.1 701.5 449.4 700.5 448.3 699.5 448.3 698.5 446.0 697.5 446.9 696.5 444.2 695.5 445.1 694.5 443.3 693.5 442.1 692.5 447.0 691.5 449.2 690.5 450.7 689.5 447.5 688.5 445.2 687.5 445.7 686.5 445.1 685.5 443.9 684.5 443.5 683.5 445.5 682.5 446.1 681.5 447.7 680.5 447.3 679.5 448.7 678.5 446.3 677.5 445.6 676.5 446.3 675.5 446.4 674.5 445.4 673.5 447.0 672.5 445.6 671.5 444.7 670.5 445.1 669.5 446.3 668.5 447.2 667.5 451.0 666.5 452.8 665.5 455.2 664.5 455.0 663.5 455.3 662.5 451.5 661.5 449.6 660.5 445.9 659.5 445.3 658.5 447.8 657.5 450.9 656.5 451.0 655.5 450.9 654.5 453.0 653.5 453.6 652.5 452.5 651.5 451.3 650.5 449.6 649.5 449.1 648.5 446.6 647.5 447.3 646.5 445.1 645.5 445.0 644.5 446.0 643.5 442.3 642.5 440.1 641.5 437.3 640.5 436.1 639.5 440.3 638.5 442.5 637.5 442.9 636.5 442.2 635.5 444.4 634.5 441.8 633.5 442.3 632.5 438.5 631.5 439.7 630.5 439.4 629.5 440.8 628.5 441.3 627.5 442.4 626.5 444.0 625.5 445.6 624.5 442.9 623.5 443.2 622.5 443.2 621.5 445.1 620.5 444.6 619.5 447.1 618.5 449.1 617.5 449.1 616.5 449.2 615.5 447.6 614.5 445.7 613.5 446.8 612.5 447.7 611.5 447.7 610.5 448.8 609.5 449.9 608.5 452.6 607.5 451.2 606.5 449.1 605.5 446.3 604.5 446.3 603.5 449.4 602.5 450.1 601.5 451.1 600.5 449.8 599.5 448.3 598.5 444.3 597.5 446.0 596.5 448.8 595.5 446.0 594.5 446.3 593.5 442.3 592.5 442.9 591.5 443.5 590.5 443.1 589.5 443.2 588.5 442.5 587.5 439.6 586.5 435.5 585.5 433.9 584.5 428.7 583.5 426.1Z" fill="rgb(168, 210, 231)"/>
<path d="M583.5 411.1 584.5 411.0 585.5 407.2 586.5 410.1 587.5 408.5 588.5 405.2 589.5 406.7 590.5 404.9 591.5 406.1 592.5 404.3 593.5 405.0 594.5 400.6 595.5 400.9 596.5 398.7 597.5 400.3 598.5 397.8 599.5 397.8 600.5 394.4 601.5 394.5 602.5 391.6 603.5 388.7 604.5 384.2 605.5 386.5 606.5 387.2 607.5 390.8 608.5 394.6 609.5 392.4 610.5 391.8 611.5 394.2 612.5 396.2 613.5 394.4 614.5 392.3 615.5 394.5 616.5 392.9 617.5 396.9 618.5 394.2 619.5 391.3 620.5 390.2 621.5 391.0 622.5 391.5 623.5 395.4 624.5 395.2 625.5 396.7 626.5 396.9 627.5 395.7 628.5 394.6 629.5 398.1 630.5 397.9 631.5 395.9 632.5 392.5 633.5 392.6 634.5 392.6 635.5 394.0 636.5 393.7 637.5 396.6 638.5 395.5 639.5 390.2 640.5 391.7 641.5 388.1 642.5 390.8 643.5 396.8 644.5 399.5 645.5 396.6 646.5 394.2 647.5 397.6 648.5 397.0 649.5 397.1 650.5 400.9 651.5 404.6 652.5 402.9 653.5 400.2 654.5 399.4 655.5 398.8 656.5 400.1 657.5 403.5 658.5 402.2 659.5 400.3 660.5 397.2 661.5 404.2 662.5 397.2 663.5 405.7 664.5 404.7 665.5 403.2 666.5 402.7 667.5 403.9 668.5 399.7 669.5 398.8 670.5 400.2 671.5 394.4 672.5 393.6 673.5 395.9 674.5 397.5 675.5 399.8 676.5 399.6 677.5 399.8 678.5 399.9 679.5 399.1 680.5 402.9 681.5 397.5 682.5 399.4 683.5 397.6 684.5 397.5 685.5 396.5 686.5 400.6 687.5 396.6 688.5 398.6 689.5 402.7 690.5 400.0 691.5 400.5 692.5 398.7 693.5 395.3 694.5 394.6 695.5 393.5 696.5 390.9 697.5 400.6 698.5 392.6 699.5 399.2 700.5 395.2 701.5 397.1 702.5 397.3 703.5 399.1 704.5 401.3 705.5 402.5 706.5 394.9 707.5 401.7 708.5 399.1 709.5 392.8 710.5 401.8 711.5 399.1 712.5 397.2 713.5 404.9 714.5 401.6 715.5 402.5 716.5 405.5 717.5 403.8 718.5 402.0 719.5 402.5 720.5 406.2 721.5 405.0 722.5 408.4 723.5 401.7 724.5 405.9 725.5 402.9 726.5 403.8 727.5 408.3 728.5 403.5 729.5 406.8 730.5 413.0 731.5 413.5 732.5 413.6 733.5 416.4 734.5 411.4 735.5 411.5 736.5 412.7 737.5 412.5 738.5 409.1 739.5 409.9 740.5 410.7 741.5 415.0 742.5 420.5 743.5 416.3 744.5 416.0 745.5 413.8 746.5 412.0 747.5 410.9 748.5 414.5 749.5 413.0 750.5 416.5 751.5 423.9 752.5 424.9 753.5 420.3 754.5 425.3 755.5 424.1 756.5 422.3 757.5 419.0 758.5 419.0 759.5 422.6 760.5 421.3 761.5 418.3 762.5 421.9 763.5 429.0 764.5 423.6 765.5 422.2 766.5 422.8 767.5 423.1 768.5 427.0 769.5 431.3 770.5 429.8 771.5 431.4 772.5 426.0 773.5 427.2 774.5 435.3 775.5 429.3 776.5 429.0 777.5 426.4 778.5 430.9 779.5 430.5 780.5 424.0 781.5 422.4 782.5 426.3 783.5 423.9 784.5 420.0 785.5 421.5 786.5 430.5 787.5 430.8 788.5 431.0 789.5 432.3 790.5 422.7 791.5 426.6 792.5 418.0 793.5 418.7 794.5 424.7 795.5 421.1 796.5 417.9 797.5 423.1 798.5 421.0 799.5 422.8 800.5 420.6 801.5 415.5 802.5 416.6 803.5 417.7 804.5 414.5 805.5 413.0 806.5 413.2 807.5 411.5 808.5 409.0 809.5 408.3 810.5 409.6 811.5 409.5 812.5 410.7 813.5 412.6 814.5 413.1 815.5 410.6 816.5 411.8 817.5 410.3 818.5 405.8 819.5 405.8 820.5 404.5 821.5 403.4 822.5 404.3 823.5 402.4 824.5 405.6 825.5 403.4 826.5 402.8 827.5 403.4 828.5 399.7 829.5 401.0 830.5 400.3 831.5 402.9 832.5 400.9 833.5 398.1 834.5 398.7 835.5 398.2 836.5 396.7 837.5 397.2 838.5 397.6 839.5 395.8 840.5 394.9 841.5 392.9 842.5 393.8 843.5 392.5 844.5 391.7 845.5 390.1 846.5 392.7 847.5 391.9 848.5 389.3 849.5 387.5 850.5 382.8 851.5 383.9 852.5 382.1 853.5 380.6 854.5 379.5 855.5 381.1 856.5 380.7 857.5 381.6 858.5 381.2 859.5 380.0 860.5 380.9 861.5 381.2 862.5 379.6 863.5 384.4 864.5 383.4 865.5 384.2 866.5 381.5 867.5 380.3 868.5 380.4 869.5 379.1 870.5 380.1 871.5 379.5 872.5 382.0 873.5 380.4 874.5 378.7 875.5 378.7 876.5 378.2 877.5 377.7 878.5 375.8 879.5 374.9 880.5 375.7 881.5 375.2 882.5 372.3 883.5 374.9 884.5 372.6 885.5 372.1 886.5 367.7 887.5 366.9 888.5 369.9 889.5 365.7 890.5 367.9 891.5 367.1 892.5 374.1 893.5 379.1 894.5 384.1 895.5 384.8 896.5 385.5 897.5 389.2 898.5 389.4 899.5 389.7 900.5 389.6 901.5 389.4 902.5 385.6 903.5 387.5 904.5 385.2 905.5 386.7 906.5 387.5 907.5 387.8 908.5 388.1 909.5 384.3 910.5 385.8 911.5 391.3 912.5 391.6 913.5 394.0 L913.5 414.5 912.5 413.6 911.5 412.4 910.5 412.1 909.5 412.1 908.5 416.6 907.5 419.1 906.5 418.2 905.5 416.1 904.5 417.2 903.5 419.0 902.5 422.6 901.5 422.5 900.5 422.7 899.5 420.4 898.5 420.5 897.5 422.2 896.5 425.1 895.5 423.9 894.5 424.7 893.5 422.5 892.5 425.1 891.5 420.7 890.5 422.6 889.5 419.3 888.5 416.6 887.5 419.1 886.5 418.4 885.5 420.6 884.5 419.0 883.5 420.3 882.5 417.3 881.5 417.7 880.5 414.8 879.5 415.3 878.5 414.2 877.5 415.2 876.5 416.9 875.5 418.6 874.5 419.0 873.5 418.6 872.5 418.3 871.5 414.9 870.5 411.5 869.5 409.4 868.5 406.9 867.5 407.0 866.5 405.6 865.5 408.4 864.5 406.2 863.5 408.3 862.5 403.4 861.5 403.2 860.5 400.9 859.5 399.7 858.5 401.8 857.5 402.5 856.5 402.4 855.5 401.7 854.5 400.5 853.5 397.7 852.5 399.2 851.5 399.0 850.5 397.0 849.5 399.8 848.5 401.1 847.5 403.5 846.5 404.3 845.5 401.6 844.5 403.1 843.5 403.8 842.5 405.2 841.5 404.2 840.5 406.1 839.5 406.9 838.5 408.6 837.5 408.1 836.5 407.5 835.5 408.9 834.5 409.3 833.5 408.8 832.5 411.4 831.5 413.3 830.5 410.9 829.5 411.4 828.5 410.2 827.5 413.9 826.5 413.3 825.5 413.8 824.5 415.9 823.5 412.8 822.5 414.6 821.5 413.8 820.5 414.9 819.5 416.1 818.5 416.2 817.5 420.4 816.5 421.8 815.5 420.7 814.5 423.1 813.5 422.5 812.5 420.7 811.5 419.6 810.5 419.6 809.5 418.4 808.5 419.0 807.5 421.5 806.5 423.0 805.5 422.7 804.5 424.3 803.5 427.3 802.5 426.2 801.5 425.1 800.5 430.0 799.5 432.1 798.5 436.1 797.5 443.5 796.5 450.2 795.5 456.4 794.5 460.1 793.5 464.6 792.5 468.7 791.5 472.7 790.5 474.3 789.5 479.2 788.5 479.6 787.5 478.3 786.5 477.6 785.5 477.0 784.5 475.3 783.5 474.8 782.5 476.7 781.5 478.7 780.5 480.6 779.5 478.2 778.5 480.6 777.5 480.2 776.5 479.3 775.5 480.7 774.5 480.8 773.5 479.7 772.5 476.8 771.5 479.4 770.5 480.2 769.5 481.6 768.5 483.1 767.5 480.8 766.5 478.9 765.5 480.1 764.5 478.2 763.5 480.0 762.5 479.3 761.5 479.3 760.5 476.3 759.5 475.6 758.5 476.3 757.5 476.4 756.5 477.9 755.5 479.7 754.5 480.9 753.5 481.5 752.5 479.0 751.5 475.0 750.5 471.5 749.5 468.7 748.5 465.8 747.5 466.3 746.5 467.4 745.5 466.7 744.5 465.5 743.5 465.4 742.5 466.8 741.5 463.1 740.5 463.6 739.5 462.8 738.5 459.7 737.5 460.1 736.5 458.8 735.5 457.6 734.5 460.6 733.5 461.5 732.5 460.7 731.5 458.4 730.5 457.1 729.5 454.3 728.5 452.5 727.5 450.9 726.5 450.3 725.5 449.3 724.5 448.9 723.5 448.7 722.5 452.1 721.5 451.5 720.5 447.6 719.5 447.9 718.5 445.2 717.5 445.2 716.5 446.5 715.5 447.8 714.5 449.7 713.5 449.4 712.5 449.3 711.5 447.9 710.5 448.1 709.5 446.3 708.5 448.6 707.5 450.6 706.5 450.4 705.5 454.5 704.5 454.4 703.5 452.6 702.5 450.1 701.5 449.4 700.5 448.3 699.5 448.3 698.5 446.0 697.5 446.9 696.5 444.2 695.5 445.1 694.5 443.3 693.5 442.1 692.5 447.0 691.5 449.2 690.5 450.7 689.5 447.5 688.5 445.2 687.5 445.7 686.5 445.1 685.5 443.9 684.5 443.5 683.5 445.5 682.5 446.1 681.5 447.7 680.5 447.3 679.5 448.7 678.5 446.3 677.5 445.6 676.5 446.3 675.5 446.4 674.5 445.4 673.5 447.0 672.5 445.6 671.5 444.7 670.5 445.1 669.5 446.3 668.5 447.2 667.5 451.0 666.5 452.8 665.5 455.2 664.5 455.0 663.5 455.3 662.5 451.5 661.5 449.6 660.5 445.9 659.5 445.3 658.5 447.8 657.5 450.9 656.5 451.0 655.5 450.9 654.5 453.0 653.5 453.6 652.5 452.5 651.5 451.3 650.5 449.6 649.5 449.1 648.5 446.6 647.5 447.3 646.5 445.1 645.5 445.0 644.5 446.0 643.5 442.3 642.5 440.1 641.5 437.3 640.5 436.1 639.5 440.3 638.5 442.5 637.5 442.9 636.5 442.2 635.5 444.4 634.5 441.8 633.5 442.3 632.5 438.5 631.5 439.7 630.5 439.4 629.5 440.8 628.5 441.3 627.5 442.4 626.5 444.0 625.5 445.6 624.5 442.9 623.5 443.2 622.5 443.2 621.5 445.1 620.5 444.6 619.5 447.1 618.5 449.1 617.5 449.1 616.5 449.2 615.5 447.6 614.5 445.7 613.5 446.8 612.5 447.7 611.5 447.7 610.5 448.8 609.5 449.9 608.5 452.6 607.5 451.2 606.5 449.1 605.5 446.3 604.5 446.3 603.5 449.4 602.5 450.1 601.5 451.1 600.5 449.8 599.5 448.3 598.5 444.3 597.5 446.0 596.5 448.8 595.5 446.0 594.5 446.3 593.5 442.3 592.5 442.9 591.5 443.5 590.5 443.1 589.5 443.2 588.5 442.5 587.5 439.6 586.5 435.5 585.5 433.9 584.5 428.7 583.5 426.1Z" fill="rgb(158, 204, 228)"/>
<path d="M583.5 411.1 584.5 411.0 585.5 407.2 586.5 410.1 587.5 408.5 588.5 405.2 589.5 406.7 590.5 404.9 591.5 406.1 592.5 404.3 593.5 405.0 594.5 400.6 595.5 400.9 596.5 398.7 597.5 400.3 598.5 397.8 599.5 399.3 600.5 400.1 601.5 401.5 602.5 399.2 603.5 397.9 604.5 396.1 605.5 391.9 606.5 394.6 607.5 394.7 608.5 397.6 609.5 394.8 610.5 396.7 611.5 394.8 612.5 396.5 613.5 398.3 614.5 397.5 615.5 395.0 616.5 397.7 617.5 398.7 618.5 399.0 619.5 398.7 620.5 396.4 621.5 396.7 622.5 394.8 623.5 397.8 624.5 397.3 625.5 400.9 626.5 398.3 627.5 396.6 628.5 395.9 629.5 394.2 630.5 392.5 631.5 394.8 632.5 392.2 633.5 395.5 634.5 393.7 635.5 396.3 636.5 392.9 637.5 395.7 638.5 391.5 639.5 394.9 640.5 393.7 641.5 394.3 642.5 396.6 643.5 397.2 644.5 400.6 645.5 397.4 646.5 401.2 647.5 401.4 648.5 398.8 649.5 407.4 650.5 403.4 651.5 404.5 652.5 406.1 653.5 407.0 654.5 409.9 655.5 405.0 656.5 403.3 657.5 406.7 658.5 400.5 659.5 402.0 660.5 401.4 661.5 407.6 662.5 411.3 663.5 411.4 664.5 412.3 665.5 416.4 666.5 412.5 667.5 411.2 668.5 405.0 669.5 407.8 670.5 405.8 671.5 406.4 672.5 408.6 673.5 406.1 674.5 408.3 675.5 407.5 676.5 404.3 677.5 406.5 678.5 401.8 679.5 402.8 680.5 399.6 681.5 404.8 682.5 400.9 683.5 398.4 684.5 404.1 685.5 398.1 686.5 402.1 687.5 402.8 688.5 402.6 689.5 404.5 690.5 411.1 691.5 404.0 692.5 409.6 693.5 404.3 694.5 402.4 695.5 406.6 696.5 409.0 697.5 405.5 698.5 403.8 699.5 404.2 700.5 406.9 701.5 408.6 702.5 408.7 703.5 408.1 704.5 408.7 705.5 410.1 706.5 410.4 707.5 406.1 708.5 407.1 709.5 404.7 710.5 406.8 711.5 408.5 712.5 403.5 713.5 405.9 714.5 405.7 715.5 405.4 716.5 401.3 717.5 402.0 718.5 402.9 719.5 405.4 720.5 411.2 721.5 412.7 722.5 412.0 723.5 407.7 724.5 407.4 725.5 408.2 726.5 407.0 727.5 405.3 728.5 413.4 729.5 413.2 730.5 416.2 731.5 416.5 732.5 417.6 733.5 425.3 734.5 417.8 735.5 418.1 736.5 418.5 737.5 422.5 738.5 418.8 739.5 416.3 740.5 422.2 741.5 416.0 742.5 423.8 743.5 420.5 744.5 416.1 745.5 421.6 746.5 417.5 747.5 413.6 748.5 420.6 749.5 418.2 750.5 416.5 751.5 418.9 752.5 425.0 753.5 429.6 754.5 430.2 755.5 422.1 756.5 424.4 757.5 426.7 758.5 420.8 759.5 424.0 760.5 418.3 761.5 426.6 762.5 423.5 763.5 420.0 764.5 421.9 765.5 416.5 766.5 416.3 767.5 424.6 768.5 422.8 769.5 425.2 770.5 422.9 771.5 415.9 772.5 415.5 773.5 417.9 774.5 419.1 775.5 425.2 776.5 422.3 777.5 420.1 778.5 421.3 779.5 422.9 780.5 422.1 781.5 423.6 782.5 420.7 783.5 425.0 784.5 423.1 785.5 425.9 786.5 420.7 787.5 422.1 788.5 430.7 789.5 429.0 790.5 420.6 791.5 422.8 792.5 419.2 793.5 419.4 794.5 422.5 795.5 424.2 796.5 421.1 797.5 420.0 798.5 420.7 799.5 422.8 800.5 420.6 801.5 415.5 802.5 416.6 803.5 417.7 804.5 414.5 805.5 413.0 806.5 413.2 807.5 411.5 808.5 409.0 809.5 408.3 810.5 409.6 811.5 409.5 812.5 410.7 813.5 412.6 814.5 413.1 815.5 410.6 816.5 411.8 817.5 410.3 818.5 405.8 819.5 405.8 820.5 404.5 821.5 403.4 822.5 404.3 823.5 402.4 824.5 405.6 825.5 403.4 826.5 402.8 827.5 403.4 828.5 399.7 829.5 401.0 830.5 400.3 831.5 402.9 832.5 400.9 833.5 398.1 834.5 398.7 835.5 398.2 836.5 396.7 837.5 397.2 838.5 397.6 839.5 395.8 840.5 394.9 841.5 392.9 842.5 393.8 843.5 392.5 844.5 391.7 845.5 390.1 846.5 392.7 847.5 391.9 848.5 388.1 849.5 385.9 850.5 381.4 851.5 381.5 852.5 379.8 853.5 379.1 854.5 381.2 855.5 380.0 856.5 381.8 857.5 381.6 858.5 381.6 859.5 378.8 860.5 378.6 861.5 382.1 862.5 381.9 863.5 385.1 864.5 384.9 865.5 385.4 866.5 381.4 867.5 382.4 868.5 383.1 869.5 383.7 870.5 384.5 871.5 385.4 872.5 387.1 873.5 383.5 874.5 381.7 875.5 381.5 876.5 381.1 877.5 380.8 878.5 377.4 879.5 378.3 880.5 377.4 881.5 380.3 882.5 377.6 883.5 377.3 884.5 376.9 885.5 379.2 886.5 372.7 887.5 372.2 888.5 372.4 889.5 373.6 890.5 371.7 891.5 368.3 892.5 374.1 893.5 379.1 894.5 384.1 895.5 384.8 896.5 385.5 897.5 389.2 898.5 389.4 899.5 389.7 900.5 389.6 901.5 389.4 902.5 385.6 903.5 387.5 904.5 385.2 905.5 386.7 906.5 387.5 907.5 387.8 908.5 388.1 909.5 384.3 910.5 385.8 911.5 391.3 912.5 391.6 913.5 394.0 L913.5 414.5 912.5 413.6 911.5 412.4 910.5 412.1 909.5 412.1 908.5 416.6 907.5 419.1 906.5 418.2 905.5 416.1 904.5 417.2 903.5 419.0 902.5 422.6 901.5 422.5 900.5 422.7 899.5 420.4 898.5 420.5 897.5 422.2 896.5 425.1 895.5 423.9 894.5 424.7 893.5 422.5 892.5 425.1 891.5 420.7 890.5 422.6 889.5 419.3 888.5 416.6 887.5 419.1 886.5 418.4 885.5 420.6 884.5 419.0 883.5 420.3 882.5 417.3 881.5 417.7 880.5 414.8 879.5 415.3 878.5 414.2 877.5 415.2 876.5 416.9 875.5 418.6 874.5 419.0 873.5 418.6 872.5 418.3 871.5 414.9 870.5 411.5 869.5 409.4 868.5 406.9 867.5 407.0 866.5 405.6 865.5 408.4 864.5 406.2 863.5 408.3 862.5 403.4 861.5 403.2 860.5 400.9 859.5 399.7 858.5 401.8 857.5 402.5 856.5 402.4 855.5 401.7 854.5 400.5 853.5 397.7 852.5 399.2 851.5 399.0 850.5 397.0 849.5 399.8 848.5 401.1 847.5 403.5 846.5 404.3 845.5 401.6 844.5 403.1 843.5 403.8 842.5 405.2 841.5 404.2 840.5 406.1 839.5 406.9 838.5 408.6 837.5 408.1 836.5 407.5 835.5 408.9 834.5 409.3 833.5 408.8 832.5 411.4 831.5 413.3 830.5 410.9 829.5 411.4 828.5 410.2 827.5 413.9 826.5 413.3 825.5 413.8 824.5 415.9 823.5 412.8 822.5 414.6 821.5 413.8 820.5 414.9 819.5 416.1 818.5 416.2 817.5 420.4 816.5 421.8 815.5 420.7 814.5 423.1 813.5 422.5 812.5 420.7 811.5 419.6 810.5 419.6 809.5 418.4 808.5 419.0 807.5 421.5 806.5 423.0 805.5 422.7 804.5 424.3 803.5 427.3 802.5 426.2 801.5 425.1 800.5 430.0 799.5 432.1 798.5 436.1 797.5 443.5 796.5 450.2 795.5 456.4 794.5 460.1 793.5 464.6 792.5 468.7 791.5 472.7 790.5 474.3 789.5 479.2 788.5 479.6 787.5 478.3 786.5 477.6 785.5 477.0 784.5 475.3 783.5 474.8 782.5 476.7 781.5 478.7 780.5 480.6 779.5 478.2 778.5 480.6 777.5 480.2 776.5 479.3 775.5 480.7 774.5 480.8 773.5 479.7 772.5 476.8 771.5 479.4 770.5 480.2 769.5 481.6 768.5 483.1 767.5 480.8 766.5 478.9 765.5 480.1 764.5 478.2 763.5 480.0 762.5 479.3 761.5 479.3 760.5 476.3 759.5 475.6 758.5 476.3 757.5 476.4 756.5 477.9 755.5 479.7 754.5 480.9 753.5 481.5 752.5 479.0 751.5 475.0 750.5 471.5 749.5 468.7 748.5 465.8 747.5 466.3 746.5 467.4 745.5 466.7 744.5 465.5 743.5 465.4 742.5 466.8 741.5 463.1 740.5 463.6 739.5 462.8 738.5 459.7 737.5 460.1 736.5 458.8 735.5 457.6 734.5 460.6 733.5 461.5 732.5 460.7 731.5 458.4 730.5 457.1 729.5 454.3 728.5 452.5 727.5 450.9 726.5 450.3 725.5 449.3 724.5 448.9 723.5 448.7 722.5 452.1 721.5 451.5 720.5 447.6 719.5 447.9 718.5 445.2 717.5 445.2 716.5 446.5 715.5 447.8 714.5 449.7 713.5 449.4 712.5 449.3 711.5 447.9 710.5 448.1 709.5 446.3 708.5 448.6 707.5 450.6 706.5 450.4 705.5 454.5 704.5 454.4 703.5 452.6 702.5 450.1 701.5 449.4 700.5 448.3 699.5 448.3 698.5 446.0 697.5 446.9 696.5 444.2 695.5 445.1 694.5 443.3 693.5 442.1 692.5 447.0 691.5 449.2 690.5 450.7 689.5 447.5 688.5 445.2 687.5 445.7 686.5 445.1 685.5 443.9 684.5 443.5 683.5 445.5 682.5 446.1 681.5 447.7 680.5 447.3 679.5 448.7 678.5 446.3 677.5 445.6 676.5 446.3 675.5 446.4 674.5 445.4 673.5 447.0 672.5 445.6 671.5 444.7 670.5 445.1 669.5 446.3 668.5 447.2 667.5 451.0 666.5 452.8 665.5 455.2 664.5 455.0 663.5 455.3 662.5 451.5 661.5 449.6 660.5 445.9 659.5 445.3 658.5 447.8 657.5 450.9 656.5 451.0 655.5 450.9 654.5 453.0 653.5 453.6 652.5 452.5 651.5 451.3 650.5 449.6 649.5 449.1 648.5 446.6 647.5 447.3 646.5 445.1 645.5 445.0 644.5 446.0 643.5 442.3 642.5 440.1 641.5 437.3 640.5 436.1 639.5 440.3 638.5 442.5 637.5 442.9 636.5 442.2 635.5 444.4 634.5 441.8 633.5 442.3 632.5 438.5 631.5 439.7 630.5 439.4 629.5 440.8 628.5 441.3 627.5 442.4 626.5 444.0 625.5 445.6 624.5 442.9 623.5 443.2 622.5 443.2 621.5 445.1 620.5 444.6 619.5 447.1 618.5 449.1 617.5 449.1 616.5 449.2 615.5 447.6 614.5 445.7 613.5 446.8 612.5 447.7 611.5 447.7 610.5 448.8 609.5 449.9 608.5 452.6 607.5 451.2 606.5 449.1 605.5 446.3 604.5 446.3 603.5 449.4 602.5 450.1 601.5 451.1 600.5 449.8 599.5 448.3 598.5 444.3 597.5 446.0 596.5 448.8 595.5 446.0 594.5 446.3 593.5 442.3 592.5 442.9 591.5 443.5 590.5 443.1 589.5 443.2 588.5 442.5 587.5 439.6 586.5 435.5 585.5 433.9 584.5 428.7 583.5 426.1Z" fill="rgb(148, 197, 225)"/>
<path d="M583.5 411.1 584.5 411.0 585.5 407.2 586.5 410.1 587.5 408.5 588.5 405.2 589.5 406.7 590.5 404.9 591.5 406.1 592.5 404.3 593.5 405.0 594.5 400.6 595.5 400.9 596.5 398.7 597.5 402.0 598.5 402.9 599.5 406.9 600.5 407.6 601.5 411.9 602.5 410.1 603.5 405.7 604.5 401.8 605.5 401.8 606.5 405.6 607.5 407.2 608.5 409.0 609.5 412.0 610.5 411.3 611.5 407.3 612.5 409.2 613.5 409.6 614.5 405.4 615.5 408.3 616.5 409.4 617.5 411.4 618.5 413.1 619.5 411.8 620.5 410.2 621.5 409.3 622.5 406.0 623.5 406.9 624.5 405.2 625.5 405.8 626.5 408.0 627.5 407.8 628.5 406.0 629.5 404.4 630.5 403.9 631.5 406.4 632.5 408.4 633.5 407.2 634.5 409.7 635.5 411.3 636.5 409.8 637.5 408.5 638.5 406.9 639.5 406.3 640.5 403.9 641.5 401.3 642.5 405.0 643.5 408.4 644.5 409.8 645.5 407.1 646.5 412.1 647.5 410.0 648.5 406.5 649.5 411.3 650.5 412.3 651.5 409.5 652.5 411.1 653.5 412.7 654.5 413.1 655.5 409.2 656.5 409.0 657.5 408.3 658.5 411.5 659.5 403.7 660.5 404.2 661.5 410.0 662.5 409.8 663.5 412.7 664.5 409.7 665.5 410.0 666.5 409.2 667.5 412.2 668.5 405.1 669.5 401.7 670.5 402.4 671.5 404.8 672.5 404.6 673.5 407.4 674.5 405.3 675.5 403.3 676.5 406.7 677.5 400.3 678.5 407.3 679.5 407.6 680.5 405.8 681.5 407.1 682.5 404.9 683.5 398.7 684.5 399.7 685.5 394.5 686.5 394.5 687.5 398.9 688.5 401.3 689.5 406.0 690.5 405.1 691.5 403.8 692.5 401.4 693.5 399.9 694.5 405.9 695.5 404.0 696.5 405.7 697.5 407.9 698.5 410.7 699.5 412.0 700.5 416.4 701.5 414.5 702.5 415.3 703.5 414.4 704.5 414.1 705.5 415.2 706.5 413.8 707.5 416.6 708.5 413.1 709.5 414.8 710.5 417.7 711.5 415.0 712.5 414.8 713.5 417.0 714.5 413.4 715.5 414.2 716.5 412.6 717.5 413.5 718.5 414.0 719.5 415.5 720.5 411.1 721.5 417.8 722.5 417.6 723.5 414.5 724.5 413.7 725.5 416.8 726.5 412.7 727.5 414.0 728.5 413.5 729.5 417.9 730.5 417.9 731.5 417.6 732.5 420.2 733.5 417.2 734.5 418.4 735.5 416.4 736.5 421.0 737.5 422.6 738.5 421.9 739.5 418.1 740.5 421.1 741.5 420.2 742.5 427.8 743.5 418.1 744.5 421.8 745.5 427.6 746.5 424.9 747.5 427.5 748.5 429.4 749.5 426.4 750.5 426.0 751.5 432.0 752.5 431.5 753.5 435.5 754.5 427.8 755.5 432.9 756.5 431.0 757.5 426.4 758.5 429.9 759.5 430.2 760.5 424.1 761.5 430.6 762.5 426.9 763.5 433.2 764.5 428.7 765.5 435.0 766.5 429.1 767.5 431.5 768.5 430.8 769.5 430.1 770.5 429.1 771.5 422.9 772.5 427.2 773.5 429.8 774.5 432.6 775.5 427.6 776.5 429.3 777.5 433.2 778.5 428.7 779.5 433.0 780.5 433.0 781.5 431.9 782.5 434.8 783.5 431.6 784.5 430.5 785.5 430.1 786.5 435.4 787.5 438.0 788.5 438.5 789.5 429.6 790.5 430.9 791.5 426.7 792.5 422.1 793.5 428.2 794.5 427.4 795.5 426.9 796.5 430.4 797.5 427.6 798.5 426.1 799.5 422.8 800.5 420.6 801.5 415.5 802.5 416.6 803.5 417.7 804.5 414.5 805.5 413.0 806.5 413.2 807.5 411.5 808.5 409.0 809.5 408.3 810.5 409.6 811.5 409.5 812.5 410.7 813.5 412.6 814.5 413.1 815.5 410.6 816.5 411.8 817.5 410.3 818.5 405.8 819.5 405.8 820.5 404.5 821.5 403.4 822.5 404.3 823.5 402.4 824.5 405.6 825.5 403.4 826.5 402.8 827.5 403.4 828.5 399.7 829.5 401.0 830.5 400.3 831.5 402.9 832.5 400.9 833.5 398.1 834.5 398.7 835.5 398.2 836.5 396.7 837.5 397.2 838.5 397.6 839.5 395.8 840.5 394.9 841.5 392.9 842.5 393.8 843.5 392.5 844.5 391.7 845.5 390.1 846.5 392.7 847.5 391.9 848.5 389.3 849.5 387.9 850.5 384.9 851.5 385.9 852.5 384.2 853.5 381.9 854.5 385.2 855.5 386.5 856.5 385.1 857.5 385.6 858.5 384.8 859.5 382.1 860.5 383.4 861.5 385.5 862.5 384.7 863.5 389.0 864.5 386.6 865.5 387.1 866.5 384.9 867.5 387.4 868.5 386.9 869.5 388.2 870.5 388.7 871.5 390.4 872.5 393.4 873.5 391.0 874.5 390.0 875.5 390.6 876.5 387.8 877.5 385.6 878.5 385.5 879.5 386.9 880.5 384.3 881.5 387.8 882.5 384.7 883.5 386.8 884.5 386.5 885.5 386.9 886.5 382.1 887.5 380.5 888.5 380.6 889.5 380.1 890.5 379.9 891.5 377.3 892.5 381.2 893.5 382.4 894.5 384.1 895.5 384.8 896.5 385.5 897.5 389.2 898.5 389.4 899.5 389.7 900.5 389.6 901.5 389.4 902.5 385.6 903.5 387.5 904.5 385.2 905.5 386.7 906.5 387.5 907.5 387.8 908.5 388.1 909.5 384.3 910.5 385.8 911.5 391.3 912.5 391.6 913.5 394.0 L913.5 414.5 912.5 413.6 911.5 412.4 910.5 412.1 909.5 412.1 908.5 416.6 907.5 419.1 906.5 418.2 905.5 416.1 904.5 417.2 903.5 419.0 902.5 422.6 901.5 422.5 900.5 422.7 899.5 420.4 898.5 420.5 897.5 422.2 896.5 425.1 895.5 423.9 894.5 424.7 893.5 422.5 892.5 425.1 891.5 420.7 890.5 422.6 889.5 419.3 888.5 416.6 887.5 419.1 886.5 418.4 885.5 420.6 884.5 419.0 883.5 420.3 882.5 417.3 881.5 417.7 880.5 414.8 879.5 415.3 878.5 414.2 877.5 415.2 876.5 416.9 875.5 418.6 874.5 419.0 873.5 418.6 872.5 418.3 871.5 414.9 870.5 411.5 869.5 409.4 868.5 406.9 867.5 407.0 866.5 405.6 865.5 408.4 864.5 406.2 863.5 408.3 862.5 403.4 861.5 403.2 860.5 400.9 859.5 399.7 858.5 401.8 857.5 402.5 856.5 402.4 855.5 401.7 854.5 400.5 853.5 397.7 852.5 399.2 851.5 399.0 850.5 397.0 849.5 399.8 848.5 401.1 847.5 403.5 846.5 404.3 845.5 401.6 844.5 403.1 843.5 403.8 842.5 405.2 841.5 404.2 840.5 406.1 839.5 406.9 838.5 408.6 837.5 408.1 836.5 407.5 835.5 408.9 834.5 409.3 833.5 408.8 832.5 411.4 831.5 413.3 830.5 410.9 829.5 411.4 828.5 410.2 827.5 413.9 826.5 413.3 825.5 413.8 824.5 415.9 823.5 412.8 822.5 414.6 821.5 413.8 820.5 414.9 819.5 416.1 818.5 416.2 817.5 420.4 816.5 421.8 815.5 420.7 814.5 423.1 813.5 422.5 812.5 420.7 811.5 419.6 810.5 419.6 809.5 418.4 808.5 419.0 807.5 421.5 806.5 423.0 805.5 422.7 804.5 424.3 803.5 427.3 802.5 426.2 801.5 425.1 800.5 430.0 799.5 432.1 798.5 436.1 797.5 443.5 796.5 450.2 795.5 456.4 794.5 460.1 793.5 464.6 792.5 468.7 791.5 472.7 790.5 474.3 789.5 479.2 788.5 479.6 787.5 478.3 786.5 477.6 785.5 477.0 784.5 475.3 783.5 474.8 782.5 476.7 781.5 478.7 780.5 480.6 779.5 478.2 778.5 480.6 777.5 480.2 776.5 479.3 775.5 480.7 774.5 480.8 773.5 479.7 772.5 476.8 771.5 479.4 770.5 480.2 769.5 481.6 768.5 483.1 767.5 480.8 766.5 478.9 765.5 480.1 764.5 478.2 763.5 480.0 762.5 479.3 761.5 479.3 760.5 476.3 759.5 475.6 758.5 476.3 757.5 476.4 756.5 477.9 755.5 479.7 754.5 480.9 753.5 481.5 752.5 479.0 751.5 475.0 750.5 471.5 749.5 468.7 748.5 465.8 747.5 466.3 746.5 467.4 745.5 466.7 744.5 465.5 743.5 465.4 742.5 466.8 741.5 463.1 740.5 463.6 739.5 462.8 738.5 459.7 737.5 460.1 736.5 458.8 735.5 457.6 734.5 460.6 733.5 461.5 732.5 460.7 731.5 458.4 730.5 457.1 729.5 454.3 728.5 452.5 727.5 450.9 726.5 450.3 725.5 449.3 724.5 448.9 723.5 448.7 722.5 452.1 721.5 451.5 720.5 447.6 719.5 447.9 718.5 445.2 717.5 445.2 716.5 446.5 715.5 447.8 714.5 449.7 713.5 449.4 712.5 449.3 711.5 447.9 710.5 448.1 709.5 446.3 708.5 448.6 707.5 450.6 706.5 450.4 705.5 454.5 704.5 454.4 703.5 452.6 702.5 450.1 701.5 449.4 700.5 448.3 699.5 448.3 698.5 446.0 697.5 446.9 696.5 444.2 695.5 445.1 694.5 443.3 693.5 442.1 692.5 447.0 691.5 449.2 690.5 450.7 689.5 447.5 688.5 445.2 687.5 445.7 686.5 445.1 685.5 443.9 684.5 443.5 683.5 445.5 682.5 446.1 681.5 447.7 680.5 447.3 679.5 448.7 678.5 446.3 677.5 445.6 676.5 446.3 675.5 446.4 674.5 445.4 673.5 447.0 672.5 445.6 671.5 444.7 670.5 445.1 669.5 446.3 668.5 447.2 667.5 451.0 666.5 452.8 665.5 455.2 664.5 455.0 663.5 455.3 662.5 451.5 661.5 449.6 660.5 445.9 659.5 445.3 658.5 447.8 657.5 450.9 656.5 451.0 655.5 450.9 654.5 453.0 653.5 453.6 652.5 452.5 651.5 451.3 650.5 449.6 649.5 449.1 648.5 446.6 647.5 447.3 646.5 445.1 645.5 445.0 644.5 446.0 643.5 442.3 642.5 440.1 641.5 437.3 640.5 436.1 639.5 440.3 638.5 442.5 637.5 442.9 636.5 442.2 635.5 444.4 634.5 441.8 633.5 442.3 632.5 438.5 631.5 439.7 630.5 439.4 629.5 440.8 628.5 441.3 627.5 442.4 626.5 444.0 625.5 445.6 624.5 442.9 623.5 443.2 622.5 443.2 621.5 445.1 620.5 444.6 619.5 447.1 618.5 449.1 617.5 449.1 616.5 449.2 615.5 447.6 614.5 445.7 613.5 446.8 612.5 447.7 611.5 447.7 610.5 448.8 609.5 449.9 608.5 452.6 607.5 451.2 606.5 449.1 605.5 446.3 604.5 446.3 603.5 449.4 602.5 450.1 601.5 451.1 600.5 449.8 599.5 448.3 598.5 444.3 597.5 446.0 596.5 448.8 595.5 446.0 594.5 446.3 593.5 442.3 592.5 442.9 591.5 443.5 590.5 443.1 589.5 443.2 588.5 442.5 587.5 439.6 586.5 435.5 585.5 433.9 584.5 428.7 583.5 426.1Z" fill="rgb(139, 190, 222)"/>
<path d="M583.5 411.1 584.5 411.0 585.5 407.2 586.5 410.1 587.5 408.5 588.5 405.2 589.5 406.7 590.5 404.9 591.5 406.1 592.5 404.3 593.5 405.0 594.5 400.6 595.5 402.4 596.5 402.4 597.5 406.0 598.5 405.9 599.5 408.5 600.5 410.0 601.5 411.7 602.5 410.0 603.5 407.7 604.5 402.0 605.5 403.9 606.5 408.8 607.5 409.5 608.5 411.5 609.5 408.3 610.5 409.6 611.5 409.8 612.5 408.2 613.5 408.6 614.5 407.1 615.5 410.1 616.5 410.2 617.5 412.4 618.5 410.7 619.5 409.6 620.5 406.2 621.5 409.7 622.5 407.8 623.5 409.2 624.5 407.4 625.5 412.8 626.5 411.0 627.5 413.9 628.5 408.9 629.5 411.3 630.5 412.0 631.5 407.5 632.5 408.9 633.5 411.0 634.5 410.1 635.5 410.0 636.5 412.5 637.5 409.5 638.5 408.2 639.5 407.6 640.5 405.2 641.5 406.2 642.5 407.8 643.5 412.4 644.5 415.5 645.5 412.5 646.5 408.6 647.5 413.9 648.5 414.4 649.5 412.7 650.5 416.1 651.5 420.3 652.5 419.8 653.5 416.7 654.5 417.9 655.5 419.9 656.5 419.0 657.5 416.9 658.5 414.6 659.5 415.0 660.5 415.6 661.5 414.3 662.5 414.4 663.5 424.2 664.5 417.3 665.5 423.0 666.5 418.4 667.5 419.3 668.5 414.3 669.5 412.2 670.5 412.8 671.5 415.8 672.5 412.8 673.5 411.8 674.5 416.6 675.5 418.3 676.5 416.2 677.5 418.5 678.5 417.2 679.5 420.6 680.5 413.6 681.5 417.4 682.5 412.8 683.5 414.7 684.5 418.1 685.5 411.7 686.5 417.3 687.5 413.6 688.5 418.5 689.5 416.2 690.5 419.2 691.5 417.3 692.5 416.8 693.5 412.1 694.5 411.3 695.5 408.0 696.5 406.5 697.5 414.5 698.5 410.5 699.5 409.4 700.5 412.8 701.5 410.2 702.5 412.5 703.5 415.1 704.5 415.7 705.5 419.6 706.5 412.7 707.5 411.6 708.5 412.2 709.5 407.6 710.5 416.6 711.5 414.2 712.5 414.6 713.5 414.0 714.5 418.0 715.5 421.4 716.5 421.9 717.5 418.1 718.5 420.1 719.5 420.8 720.5 419.5 721.5 420.8 722.5 421.7 723.5 415.3 724.5 417.9 725.5 423.6 726.5 416.2 727.5 423.5 728.5 421.2 729.5 420.0 730.5 425.8 731.5 425.9 732.5 433.7 733.5 430.1 734.5 423.4 735.5 424.9 736.5 424.3 737.5 427.2 738.5 426.6 739.5 429.3 740.5 430.7 741.5 430.6 742.5 438.5 743.5 438.6 744.5 430.4 745.5 432.4 746.5 429.9 747.5 426.9 748.5 431.3 749.5 432.1 750.5 431.9 751.5 443.2 752.5 444.5 753.5 440.7 754.5 445.7 755.5 439.0 756.5 439.0 757.5 434.5 758.5 438.8 759.5 438.6 760.5 440.7 761.5 439.9 762.5 439.0 763.5 446.2 764.5 446.5 765.5 444.6 766.5 442.7 767.5 440.2 768.5 451.9 769.5 452.2 770.5 453.4 771.5 447.4 772.5 447.8 773.5 449.8 774.5 452.3 775.5 443.9 776.5 447.2 777.5 445.9 778.5 448.2 779.5 442.7 780.5 444.5 781.5 447.6 782.5 443.4 783.5 443.9 784.5 444.6 785.5 443.5 786.5 446.0 787.5 448.8 788.5 444.5 789.5 446.5 790.5 444.3 791.5 437.9 792.5 438.8 793.5 439.7 794.5 436.7 795.5 439.8 796.5 437.0 797.5 434.7 798.5 427.0 799.5 422.8 800.5 420.6 801.5 415.5 802.5 416.6 803.5 417.7 804.5 414.5 805.5 413.0 806.5 413.2 807.5 411.5 808.5 409.0 809.5 408.3 810.5 409.6 811.5 409.5 812.5 410.7 813.5 412.6 814.5 413.1 815.5 410.6 816.5 411.8 817.5 410.3 818.5 405.8 819.5 405.8 820.5 404.5 821.5 403.4 822.5 404.3 823.5 402.4 824.5 405.6 825.5 403.4 826.5 402.8 827.5 403.4 828.5 399.7 829.5 401.0 830.5 400.3 831.5 402.9 832.5 400.9 833.5 398.1 834.5 398.7 835.5 398.2 836.5 396.7 837.5 397.2 838.5 397.6 839.5 395.8 840.5 394.9 841.5 392.9 842.5 393.8 843.5 392.5 844.5 391.7 845.5 390.1 846.5 392.7 847.5 391.9 848.5 389.3 849.5 387.9 850.5 385.0 851.5 387.0 852.5 387.2 853.5 385.6 854.5 386.7 855.5 387.0 856.5 386.9 857.5 386.9 858.5 385.6 859.5 383.7 860.5 385.3 861.5 387.5 862.5 385.8 863.5 391.1 864.5 388.1 865.5 390.3 866.5 385.5 867.5 386.1 868.5 384.9 869.5 386.9 870.5 388.3 871.5 389.7 872.5 391.4 873.5 389.1 874.5 389.8 875.5 389.7 876.5 388.6 877.5 385.2 878.5 384.2 879.5 385.1 880.5 384.7 881.5 385.9 882.5 385.3 883.5 387.0 884.5 384.6 885.5 386.5 886.5 382.4 887.5 381.3 888.5 383.1 889.5 382.1 890.5 383.8 891.5 380.4 892.5 384.4 893.5 385.8 894.5 387.4 895.5 385.4 896.5 385.5 897.5 389.2 898.5 389.4 899.5 389.7 900.5 389.6 901.5 389.4 902.5 385.6 903.5 387.5 904.5 385.2 905.5 386.7 906.5 387.5 907.5 387.8 908.5 388.1 909.5 384.3 910.5 385.8 911.5 391.3 912.5 391.6 913.5 394.0 L913.5 414.5 912.5 413.6 911.5 412.4 910.5 412.1 909.5 412.1 908.5 416.6 907.5 419.1 906.5 418.2 905.5 416.1 904.5 417.2 903.5 419.0 902.5 422.6 901.5 422.5 900.5 422.7 899.5 420.4 898.5 420.5 897.5 422.2 896.5 425.1 895.5 423.9 894.5 424.7 893.5 422.5 892.5 425.1 891.5 420.7 890.5 422.6 889.5 419.3 888.5 416.6 887.5 419.1 886.5 418.4 885.5 420.6 884.5 419.0 883.5 420.3 882.5 417.3 881.5 417.7 880.5 414.8 879.5 415.3 878.5 414.2 877.5 415.2 876.5 416.9 875.5 418.6 874.5 419.0 873.5 418.6 872.5 418.3 871.5 414.9 870.5 411.5 869.5 409.4 868.5 406.9 867.5 407.0 866.5 405.6 865.5 408.4 864.5 406.2 863.5 408.3 862.5 403.4 861.5 403.2 860.5 400.9 859.5 399.7 858.5 401.8 857.5 402.5 856.5 402.4 855.5 401.7 854.5 400.5 853.5 397.7 852.5 399.2 851.5 399.0 850.5 397.0 849.5 399.8 848.5 401.1 847.5 403.5 846.5 404.3 845.5 401.6 844.5 403.1 843.5 403.8 842.5 405.2 841.5 404.2 840.5 406.1 839.5 406.9 838.5 408.6 837.5 408.1 836.5 407.5 835.5 408.9 834.5 409.3 833.5 408.8 832.5 411.4 831.5 413.3 830.5 410.9 829.5 411.4 828.5 410.2 827.5 413.9 826.5 413.3 825.5 413.8 824.5 415.9 823.5 412.8 822.5 414.6 821.5 413.8 820.5 414.9 819.5 416.1 818.5 416.2 817.5 420.4 816.5 421.8 815.5 420.7 814.5 423.1 813.5 422.5 812.5 420.7 811.5 419.6 810.5 419.6 809.5 418.4 808.5 419.0 807.5 421.5 806.5 423.0 805.5 422.7 804.5 424.3 803.5 427.3 802.5 426.2 801.5 425.1 800.5 430.0 799.5 432.1 798.5 436.1 797.5 443.5 796.5 450.2 795.5 456.4 794.5 460.1 793.5 464.6 792.5 468.7 791.5 472.7 790.5 474.3 789.5 479.2 788.5 479.6 787.5 478.3 786.5 477.6 785.5 477.0 784.5 475.3 783.5 474.8 782.5 476.7 781.5 478.7 780.5 480.6 779.5 478.2 778.5 480.6 777.5 480.2 776.5 479.3 775.5 480.7 774.5 480.8 773.5 479.7 772.5 476.8 771.5 479.4 770.5 480.2 769.5 481.6 768.5 483.1 767.5 480.8 766.5 478.9 765.5 480.1 764.5 478.2 763.5 480.0 762.5 479.3 761.5 479.3 760.5 476.3 759.5 475.6 758.5 476.3 757.5 476.4 756.5 477.9 755.5 479.7 754.5 480.9 753.5 481.5 752.5 479.0 751.5 475.0 750.5 471.5 749.5 468.7 748.5 465.8 747.5 466.3 746.5 467.4 745.5 466.7 744.5 465.5 743.5 465.4 742.5 466.8 741.5 463.1 740.5 463.6 739.5 462.8 738.5 459.7 737.5 460.1 736.5 458.8 735.5 457.6 734.5 460.6 733.5 461.5 732.5 460.7 731.5 458.4 730.5 457.1 729.5 454.3 728.5 452.5 727.5 450.9 726.5 450.3 725.5 449.3 724.5 448.9 723.5 448.7 722.5 452.1 721.5 451.5 720.5 447.6 719.5 447.9 718.5 445.2 717.5 445.2 716.5 446.5 715.5 447.8 714.5 449.7 713.5 449.4 712.5 449.3 711.5 447.9 710.5 448.1 709.5 446.3 708.5 448.6 707.5 450.6 706.5 450.4 705.5 454.5 704.5 454.4 703.5 452.6 702.5 450.1 701.5 449.4 700.5 448.3 699.5 448.3 698.5 446.0 697.5 446.9 696.5 444.2 695.5 445.1 694.5 443.3 693.5 442.1 692.5 447.0 691.5 449.2 690.5 450.7 689.5 447.5 688.5 445.2 687.5 445.7 686.5 445.1 685.5 443.9 684.5 443.5 683.5 445.5 682.5 446.1 681.5 447.7 680.5 447.3 679.5 448.7 678.5 446.3 677.5 445.6 676.5 446.3 675.5 446.4 674.5 445.4 673.5 447.0 672.5 445.6 671.5 444.7 670.5 445.1 669.5 446.3 668.5 447.2 667.5 451.0 666.5 452.8 665.5 455.2 664.5 455.0 663.5 455.3 662.5 451.5 661.5 449.6 660.5 445.9 659.5 445.3 658.5 447.8 657.5 450.9 656.5 451.0 655.5 450.9 654.5 453.0 653.5 453.6 652.5 452.5 651.5 451.3 650.5 449.6 649.5 449.1 648.5 446.6 647.5 447.3 646.5 445.1 645.5 445.0 644.5 446.0 643.5 442.3 642.5 440.1 641.5 437.3 640.5 436.1 639.5 440.3 638.5 442.5 637.5 442.9 636.5 442.2 635.5 444.4 634.5 441.8 633.5 442.3 632.5 438.5 631.5 439.7 630.5 439.4 629.5 440.8 628.5 441.3 627.5 442.4 626.5 444.0 625.5 445.6 624.5 442.9 623.5 443.2 622.5 443.2 621.5 445.1 620.5 444.6 619.5 447.1 618.5 449.1 617.5 449.1 616.5 449.2 615.5 447.6 614.5 445.7 613.5 446.8 612.5 447.7 611.5 447.7 610.5 448.8 609.5 449.9 608.5 452.6 607.5 451.2 606.5 449.1 605.5 446.3 604.5 446.3 603.5 449.4 602.5 450.1 601.5 451.1 600.5 449.8 599.5 448.3 598.5 444.3 597.5 446.0 596.5 448.8 595.5 446.0 594.5 446.3 593.5 442.3 592.5 442.9 591.5 443.5 590.5 443.1 589.5 443.2 588.5 442.5 587.5 439.6 586.5 435.5 585.5 433.9 584.5 428.7 583.5 426.1Z" fill="rgb(130, 182, 218)"/>
<path d="M583.5 411.1 584.5 411.0 585.5 407.2 586.5 410.1 587.5 408.5 588.5 405.2 589.5 406.7 590.5 404.9 591.5 407.6 592.5 406.3 593.5 409.2 594.5 408.1 595.5 410.2 596.5 412.1 597.5 412.0 598.5 412.1 599.5 415.7 600.5 418.0 601.5 420.4 602.5 416.5 603.5 413.9 604.5 412.5 605.5 413.6 606.5 412.0 607.5 412.2 608.5 414.7 609.5 413.4 610.5 412.9 611.5 412.9 612.5 415.1 613.5 411.1 614.5 412.7 615.5 413.1 616.5 416.0 617.5 415.2 618.5 417.2 619.5 415.1 620.5 412.5 621.5 414.9 622.5 410.0 623.5 412.4 624.5 414.6 625.5 417.2 626.5 412.5 627.5 410.0 628.5 410.8 629.5 410.2 630.5 407.9 631.5 407.8 632.5 407.7 633.5 411.0 634.5 409.2 635.5 411.0 636.5 410.4 637.5 406.4 638.5 407.5 639.5 408.1 640.5 404.6 641.5 407.6 642.5 409.5 643.5 407.6 644.5 416.4 645.5 413.8 646.5 413.9 647.5 416.1 648.5 419.0 649.5 418.2 650.5 420.8 651.5 424.7 652.5 421.8 653.5 422.2 654.5 424.1 655.5 425.1 656.5 419.0 657.5 420.1 658.5 420.3 659.5 415.8 660.5 418.0 661.5 423.4 662.5 425.6 663.5 430.4 664.5 427.9 665.5 432.3 666.5 428.5 667.5 429.6 668.5 421.4 669.5 419.0 670.5 421.8 671.5 418.9 672.5 422.3 673.5 422.8 674.5 418.2 675.5 421.8 676.5 420.1 677.5 420.5 678.5 420.9 679.5 421.9 680.5 421.7 681.5 421.5 682.5 419.8 683.5 418.1 684.5 414.0 685.5 414.9 686.5 416.5 687.5 420.5 688.5 419.1 689.5 420.0 690.5 426.1 691.5 425.2 692.5 420.4 693.5 419.3 694.5 417.2 695.5 422.6 696.5 421.6 697.5 420.1 698.5 419.7 699.5 426.0 700.5 423.3 701.5 421.6 702.5 427.0 703.5 425.1 704.5 429.1 705.5 427.3 706.5 421.3 707.5 419.5 708.5 421.3 709.5 418.8 710.5 420.4 711.5 418.3 712.5 417.7 713.5 421.5 714.5 418.3 715.5 420.2 716.5 421.5 717.5 418.1 718.5 417.6 719.5 421.5 720.5 425.6 721.5 428.7 722.5 422.5 723.5 418.6 724.5 419.4 725.5 420.9 726.5 424.2 727.5 421.1 728.5 428.1 729.5 426.1 730.5 433.3 731.5 435.6 732.5 440.3 733.5 435.1 734.5 434.8 735.5 433.3 736.5 433.9 737.5 440.5 738.5 436.3 739.5 434.2 740.5 440.0 741.5 435.4 742.5 438.3 743.5 434.3 744.5 435.0 745.5 437.5 746.5 434.6 747.5 436.7 748.5 433.0 749.5 432.3 750.5 437.4 751.5 440.9 752.5 443.1 753.5 447.0 754.5 446.7 755.5 447.5 756.5 442.9 757.5 443.0 758.5 443.0 759.5 444.1 760.5 440.0 761.5 444.2 762.5 443.7 763.5 443.1 764.5 437.3 765.5 435.7 766.5 439.9 767.5 436.6 768.5 443.7 769.5 439.4 770.5 444.2 771.5 439.2 772.5 441.4 773.5 436.5 774.5 436.0 775.5 436.8 776.5 443.3 777.5 437.8 778.5 435.7 779.5 441.3 780.5 442.2 781.5 439.1 782.5 440.2 783.5 437.7 784.5 435.2 785.5 438.5 786.5 439.4 787.5 439.0 788.5 442.9 789.5 444.2 790.5 441.5 791.5 445.0 792.5 441.1 793.5 442.0 794.5 437.8 795.5 438.4 796.5 439.9 797.5 434.7 798.5 427.0 799.5 422.8 800.5 420.6 801.5 415.5 802.5 416.6 803.5 417.7 804.5 414.5 805.5 413.0 806.5 413.2 807.5 411.5 808.5 409.0 809.5 408.3 810.5 409.6 811.5 409.5 812.5 410.7 813.5 412.6 814.5 413.1 815.5 410.6 816.5 411.8 817.5 410.3 818.5 405.8 819.5 405.8 820.5 404.5 821.5 403.4 822.5 404.3 823.5 402.4 824.5 405.6 825.5 403.4 826.5 402.8 827.5 403.4 828.5 399.7 829.5 401.0 830.5 400.3 831.5 402.9 832.5 400.9 833.5 398.1 834.5 398.7 835.5 398.2 836.5 396.7 837.5 397.2 838.5 397.6 839.5 395.8 840.5 394.9 841.5 392.9 842.5 393.8 843.5 392.5 844.5 391.7 845.5 390.1 846.5 392.7 847.5 391.9 848.5 389.3 849.5 387.9 850.5 385.0 851.5 387.0 852.5 387.2 853.5 385.6 854.5 386.6 855.5 386.1 856.5 387.1 857.5 388.8 858.5 387.6 859.5 383.8 860.5 384.2 861.5 387.2 862.5 387.1 863.5 391.7 864.5 390.3 865.5 391.8 866.5 387.5 867.5 387.7 868.5 388.5 869.5 389.2 870.5 391.3 871.5 393.8 872.5 395.9 873.5 394.3 874.5 391.3 875.5 393.1 876.5 389.0 877.5 388.9 878.5 388.2 879.5 389.3 880.5 389.5 881.5 390.7 882.5 388.8 883.5 390.3 884.5 390.8 885.5 390.3 886.5 387.9 887.5 388.8 888.5 387.2 889.5 388.3 890.5 390.4 891.5 387.6 892.5 390.0 893.5 392.1 894.5 392.6 895.5 391.1 896.5 390.7 897.5 390.7 898.5 390.9 899.5 390.8 900.5 389.7 901.5 389.4 902.5 385.6 903.5 387.5 904.5 385.2 905.5 386.7 906.5 387.5 907.5 387.8 908.5 388.1 909.5 384.3 910.5 385.8 911.5 391.3 912.5 391.6 913.5 394.0 L913.5 414.5 912.5 413.6 911.5 412.4 910.5 412.1 909.5 412.1 908.5 416.6 907.5 419.1 906.5 418.2 905.5 416.1 904.5 417.2 903.5 419.0 902.5 422.6 901.5 422.5 900.5 422.7 899.5 420.4 898.5 420.5 897.5 422.2 896.5 425.1 895.5 423.9 894.5 424.7 893.5 422.5 892.5 425.1 891.5 420.7 890.5 422.6 889.5 419.3 888.5 416.6 887.5 419.1 886.5 418.4 885.5 420.6 884.5 419.0 883.5 420.3 882.5 417.3 881.5 417.7 880.5 414.8 879.5 415.3 878.5 414.2 877.5 415.2 876.5 416.9 875.5 418.6 874.5 419.0 873.5 418.6 872.5 418.3 871.5 414.9 870.5 411.5 869.5 409.4 868.5 406.9 867.5 407.0 866.5 405.6 865.5 408.4 864.5 406.2 863.5 408.3 862.5 403.4 861.5 403.2 860.5 400.9 859.5 399.7 858.5 401.8 857.5 402.5 856.5 402.4 855.5 401.7 854.5 400.5 853.5 397.7 852.5 399.2 851.5 399.0 850.5 397.0 849.5 399.8 848.5 401.1 847.5 403.5 846.5 404.3 845.5 401.6 844.5 403.1 843.5 403.8 842.5 405.2 841.5 404.2 840.5 406.1 839.5 406.9 838.5 408.6 837.5 408.1 836.5 407.5 835.5 408.9 834.5 409.3 833.5 408.8 832.5 411.4 831.5 413.3 830.5 410.9 829.5 411.4 828.5 410.2 827.5 413.9 826.5 413.3 825.5 413.8 824.5 415.9 823.5 412.8 822.5 414.6 821.5 413.8 820.5 414.9 819.5 416.1 818.5 416.2 817.5 420.4 816.5 421.8 815.5 420.7 814.5 423.1 813.5 422.5 812.5 420.7 811.5 419.6 810.5 419.6 809.5 418.4 808.5 419.0 807.5 421.5 806.5 423.0 805.5 422.7 804.5 424.3 803.5 427.3 802.5 426.2 801.5 425.1 800.5 430.0 799.5 432.1 798.5 436.1 797.5 443.5 796.5 450.2 795.5 456.4 794.5 460.1 793.5 464.6 792.5 468.7 791.5 472.7 790.5 474.3 789.5 479.2 788.5 479.6 787.5 478.3 786.5 477.6 785.5 477.0 784.5 475.3 783.5 474.8 782.5 476.7 781.5 478.7 780.5 480.6 779.5 478.2 778.5 480.6 777.5 480.2 776.5 479.3 775.5 480.7 774.5 480.8 773.5 479.7 772.5 476.8 771.5 479.4 770.5 480.2 769.5 481.6 768.5 483.1 767.5 480.8 766.5 478.9 765.5 480.1 764.5 478.2 763.5 480.0 762.5 479.3 761.5 479.3 760.5 476.3 759.5 475.6 758.5 476.3 757.5 476.4 756.5 477.9 755.5 479.7 754.5 480.9 753.5 481.5 752.5 479.0 751.5 475.0 750.5 471.5 749.5 468.7 748.5 465.8 747.5 466.3 746.5 467.4 745.5 466.7 744.5 465.5 743.5 465.4 742.5 466.8 741.5 463.1 740.5 463.6 739.5 462.8 738.5 459.7 737.5 460.1 736.5 458.8 735.5 457.6 734.5 460.6 733.5 461.5 732.5 460.7 731.5 458.4 730.5 457.1 729.5 454.3 728.5 452.5 727.5 450.9 726.5 450.3 725.5 449.3 724.5 448.9 723.5 448.7 722.5 452.1 721.5 451.5 720.5 447.6 719.5 447.9 718.5 445.2 717.5 445.2 716.5 446.5 715.5 447.8 714.5 449.7 713.5 449.4 712.5 449.3 711.5 447.9 710.5 448.1 709.5 446.3 708.5 448.6 707.5 450.6 706.5 450.4 705.5 454.5 704.5 454.4 703.5 452.6 702.5 450.1 701.5 449.4 700.5 448.3 699.5 448.3 698.5 446.0 697.5 446.9 696.5 444.2 695.5 445.1 694.5 443.3 693.5 442.1 692.5 447.0 691.5 449.2 690.5 450.7 689.5 447.5 688.5 445.2 687.5 445.7 686.5 445.1 685.5 443.9 684.5 443.5 683.5 445.5 682.5 446.1 681.5 447.7 680.5 447.3 679.5 448.7 678.5 446.3 677.5 445.6 676.5 446.3 675.5 446.4 674.5 445.4 673.5 447.0 672.5 445.6 671.5 444.7 670.5 445.1 669.5 446.3 668.5 447.2 667.5 451.0 666.5 452.8 665.5 455.2 664.5 455.0 663.5 455.3 662.5 451.5 661.5 449.6 660.5 445.9 659.5 445.3 658.5 447.8 657.5 450.9 656.5 451.0 655.5 450.9 654.5 453.0 653.5 453.6 652.5 452.5 651.5 451.3 650.5 449.6 649.5 449.1 648.5 446.6 647.5 447.3 646.5 445.1 645.5 445.0 644.5 446.0 643.5 442.3 642.5 440.1 641.5 437.3 640.5 436.1 639.5 440.3 638.5 442.5 637.5 442.9 636.5 442.2 635.5 444.4 634.5 441.8 633.5 442.3 632.5 438.5 631.5 439.7 630.5 439.4 629.5 440.8 628.5 441.3 627.5 442.4 626.5 444.0 625.5 445.6 624.5 442.9 623.5 443.2 622.5 443.2 621.5 445.1 620.5 444.6 619.5 447.1 618.5 449.1 617.5 449.1 616.5 449.2 615.5 447.6 614.5 445.7 613.5 446.8 612.5 447.7 611.5 447.7 610.5 448.8 609.5 449.9 608.5 452.6 607.5 451.2 606.5 449.1 605.5 446.3 604.5 446.3 603.5 449.4 602.5 450.1 601.5 451.1 600.5 449.8 599.5 448.3 598.5 444.3 597.5 446.0 596.5 448.8 595.5 446.0 594.5 446.3 593.5 442.3 592.5 442.9 591.5 443.5 590.5 443.1 589.5 443.2 588.5 442.5 587.5 439.6 586.5 435.5 585.5 433.9 584.5 428.7 583.5 426.1Z" fill="rgb(122, 173, 213)"/>
<path d="M583.5 411.1 584.5 411.2 585.5 408.9 586.5 412.4 587.5 413.0 588.5 412.2 589.5 414.0 590.5 414.9 591.5 415.7 592.5 416.1 593.5 417.6 594.5 417.4 595.5 419.1 596.5 420.3 597.5 421.3 598.5 420.1 599.5 423.7 600.5 427.3 601.5 427.8 602.5 425.6 603.5 426.2 604.5 423.3 605.5 419.8 606.5 426.6 607.5 430.3 608.5 431.4 609.5 428.2 610.5 426.6 611.5 422.4 612.5 425.4 613.5 425.9 614.5 424.3 615.5 423.8 616.5 429.0 617.5 429.5 618.5 428.0 619.5 428.9 620.5 423.0 621.5 423.9 622.5 421.8 623.5 423.5 624.5 422.9 625.5 426.1 626.5 425.3 627.5 422.4 628.5 420.5 629.5 421.3 630.5 417.9 631.5 421.6 632.5 420.4 633.5 424.4 634.5 423.5 635.5 421.7 636.5 424.0 637.5 425.0 638.5 418.8 639.5 420.6 640.5 417.9 641.5 416.4 642.5 419.8 643.5 423.8 644.5 427.4 645.5 424.4 646.5 427.3 647.5 425.3 648.5 426.9 649.5 429.1 650.5 426.4 651.5 428.4 652.5 429.3 653.5 429.7 654.5 429.2 655.5 426.7 656.5 427.5 657.5 428.2 658.5 425.6 659.5 422.6 660.5 419.6 661.5 423.9 662.5 428.0 663.5 427.1 664.5 431.3 665.5 426.5 666.5 426.6 667.5 426.9 668.5 424.3 669.5 419.5 670.5 419.3 671.5 420.6 672.5 421.8 673.5 424.5 674.5 418.7 675.5 418.6 676.5 421.5 677.5 421.8 678.5 422.1 679.5 421.5 680.5 421.1 681.5 421.3 682.5 416.3 683.5 419.0 684.5 412.7 685.5 413.3 686.5 411.4 687.5 414.1 688.5 413.4 689.5 421.0 690.5 423.9 691.5 416.2 692.5 417.1 693.5 414.4 694.5 416.5 695.5 421.8 696.5 422.9 697.5 427.8 698.5 422.7 699.5 424.6 700.5 431.2 701.5 430.5 702.5 429.9 703.5 430.2 704.5 431.1 705.5 433.8 706.5 429.4 707.5 429.5 708.5 428.9 709.5 425.1 710.5 429.5 711.5 427.3 712.5 430.8 713.5 434.1 714.5 432.5 715.5 430.8 716.5 428.9 717.5 429.6 718.5 425.2 719.5 432.3 720.5 429.9 721.5 434.3 722.5 437.3 723.5 431.3 724.5 431.1 725.5 427.5 726.5 428.4 727.5 433.2 728.5 427.4 729.5 428.0 730.5 431.7 731.5 436.5 732.5 435.6 733.5 439.0 734.5 433.7 735.5 429.3 736.5 435.6 737.5 434.5 738.5 433.3 739.5 436.7 740.5 438.8 741.5 443.1 742.5 442.3 743.5 440.1 744.5 437.1 745.5 441.6 746.5 445.0 747.5 440.0 748.5 441.6 749.5 441.2 750.5 448.0 751.5 449.0 752.5 453.1 753.5 450.4 754.5 449.5 755.5 451.2 756.5 448.3 757.5 442.1 758.5 441.2 759.5 447.3 760.5 444.0 761.5 449.2 762.5 449.6 763.5 449.5 764.5 442.5 765.5 453.4 766.5 447.9 767.5 452.5 768.5 448.3 769.5 453.6 770.5 449.0 771.5 441.8 772.5 443.5 773.5 451.4 774.5 454.7 775.5 449.8 776.5 452.7 777.5 453.2 778.5 446.8 779.5 449.0 780.5 452.2 781.5 453.6 782.5 453.0 783.5 450.1 784.5 448.1 785.5 453.3 786.5 450.1 787.5 455.7 788.5 457.0 789.5 453.4 790.5 449.2 791.5 450.8 792.5 444.8 793.5 438.2 794.5 446.7 795.5 442.0 796.5 441.8 797.5 434.7 798.5 427.0 799.5 422.8 800.5 420.6 801.5 415.5 802.5 416.6 803.5 417.7 804.5 414.5 805.5 413.0 806.5 413.2 807.5 411.5 808.5 409.0 809.5 408.3 810.5 409.6 811.5 409.5 812.5 410.7 813.5 412.6 814.5 413.1 815.5 410.6 816.5 411.8 817.5 410.3 818.5 405.8 819.5 405.8 820.5 404.5 821.5 403.4 822.5 404.3 823.5 402.4 824.5 405.6 825.5 403.4 826.5 402.8 827.5 403.4 828.5 399.7 829.5 401.0 830.5 400.3 831.5 402.9 832.5 400.9 833.5 398.1 834.5 398.7 835.5 398.2 836.5 396.7 837.5 397.2 838.5 397.6 839.5 395.8 840.5 394.9 841.5 392.9 842.5 393.8 843.5 392.5 844.5 391.7 845.5 390.1 846.5 392.7 847.5 391.9 848.5 389.3 849.5 387.9 850.5 385.0 851.5 387.0 852.5 387.2 853.5 385.6 854.5 388.5 855.5 389.7 856.5 390.3 857.5 390.3 858.5 389.6 859.5 387.3 860.5 388.5 861.5 390.4 862.5 390.0 863.5 394.7 864.5 391.4 865.5 392.7 866.5 392.0 867.5 392.3 868.5 392.6 869.5 394.4 870.5 395.2 871.5 399.6 872.5 403.0 873.5 402.1 874.5 399.9 875.5 399.6 876.5 398.1 877.5 396.6 878.5 394.1 879.5 396.4 880.5 396.7 881.5 398.6 882.5 398.6 883.5 401.9 884.5 399.6 885.5 399.1 886.5 396.8 887.5 397.3 888.5 394.1 889.5 397.1 890.5 396.8 891.5 396.3 892.5 400.7 893.5 398.1 894.5 401.2 895.5 398.9 896.5 397.8 897.5 397.7 898.5 396.0 899.5 396.1 900.5 397.0 901.5 396.4 902.5 393.8 903.5 393.9 904.5 390.5 905.5 391.4 906.5 392.5 907.5 392.0 908.5 390.7 909.5 386.9 910.5 387.7 911.5 391.8 912.5 391.9 913.5 394.0 L913.5 414.5 912.5 413.6 911.5 412.4 910.5 412.1 909.5 412.1 908.5 416.6 907.5 419.1 906.5 418.2 905.5 416.1 904.5 417.2 903.5 419.0 902.5 422.6 901.5 422.5 900.5 422.7 899.5 420.4 898.5 420.5 897.5 422.2 896.5 425.1 895.5 423.9 894.5 424.7 893.5 422.5 892.5 425.1 891.5 420.7 890.5 422.6 889.5 419.3 888.5 416.6 887.5 419.1 886.5 418.4 885.5 420.6 884.5 419.0 883.5 420.3 882.5 417.3 881.5 417.7 880.5 414.8 879.5 415.3 878.5 414.2 877.5 415.2 876.5 416.9 875.5 418.6 874.5 419.0 873.5 418.6 872.5 418.3 871.5 414.9 870.5 411.5 869.5 409.4 868.5 406.9 867.5 407.0 866.5 405.6 865.5 408.4 864.5 406.2 863.5 408.3 862.5 403.4 861.5 403.2 860.5 400.9 859.5 399.7 858.5 401.8 857.5 402.5 856.5 402.4 855.5 401.7 854.5 400.5 853.5 397.7 852.5 399.2 851.5 399.0 850.5 397.0 849.5 399.8 848.5 401.1 847.5 403.5 846.5 404.3 845.5 401.6 844.5 403.1 843.5 403.8 842.5 405.2 841.5 404.2 840.5 406.1 839.5 406.9 838.5 408.6 837.5 408.1 836.5 407.5 835.5 408.9 834.5 409.3 833.5 408.8 832.5 411.4 831.5 413.3 830.5 410.9 829.5 411.4 828.5 410.2 827.5 413.9 826.5 413.3 825.5 413.8 824.5 415.9 823.5 412.8 822.5 414.6 821.5 413.8 820.5 414.9 819.5 416.1 818.5 416.2 817.5 420.4 816.5 421.8 815.5 420.7 814.5 423.1 813.5 422.5 812.5 420.7 811.5 419.6 810.5 419.6 809.5 418.4 808.5 419.0 807.5 421.5 806.5 423.0 805.5 422.7 804.5 424.3 803.5 427.3 802.5 426.2 801.5 425.1 800.5 430.0 799.5 432.1 798.5 436.1 797.5 443.5 796.5 450.2 795.5 456.4 794.5 460.1 793.5 464.6 792.5 468.7 791.5 472.7 790.5 474.3 789.5 479.2 788.5 479.6 787.5 478.3 786.5 477.6 785.5 477.0 784.5 475.3 783.5 474.8 782.5 476.7 781.5 478.7 780.5 480.6 779.5 478.2 778.5 480.6 777.5 480.2 776.5 479.3 775.5 480.7 774.5 480.8 773.5 479.7 772.5 476.8 771.5 479.4 770.5 480.2 769.5 481.6 768.5 483.1 767.5 480.8 766.5 478.9 765.5 480.1 764.5 478.2 763.5 480.0 762.5 479.3 761.5 479.3 760.5 476.3 759.5 475.6 758.5 476.3 757.5 476.4 756.5 477.9 755.5 479.7 754.5 480.9 753.5 481.5 752.5 479.0 751.5 475.0 750.5 471.5 749.5 468.7 748.5 465.8 747.5 466.3 746.5 467.4 745.5 466.7 744.5 465.5 743.5 465.4 742.5 466.8 741.5 463.1 740.5 463.6 739.5 462.8 738.5 459.7 737.5 460.1 736.5 458.8 735.5 457.6 734.5 460.6 733.5 461.5 732.5 460.7 731.5 458.4 730.5 457.1 729.5 454.3 728.5 452.5 727.5 450.9 726.5 450.3 725.5 449.3 724.5 448.9 723.5 448.7 722.5 452.1 721.5 451.5 720.5 447.6 719.5 447.9 718.5 445.2 717.5 445.2 716.5 446.5 715.5 447.8 714.5 449.7 713.5 449.4 712.5 449.3 711.5 447.9 710.5 448.1 709.5 446.3 708.5 448.6 707.5 450.6 706.5 450.4 705.5 454.5 704.5 454.4 703.5 452.6 702.5 450.1 701.5 449.4 700.5 448.3 699.5 448.3 698.5 446.0 697.5 446.9 696.5 444.2 695.5 445.1 694.5 443.3 693.5 442.1 692.5 447.0 691.5 449.2 690.5 450.7 689.5 447.5 688.5 445.2 687.5 445.7 686.5 445.1 685.5 443.9 684.5 443.5 683.5 445.5 682.5 446.1 681.5 447.7 680.5 447.3 679.5 448.7 678.5 446.3 677.5 445.6 676.5 446.3 675.5 446.4 674.5 445.4 673.5 447.0 672.5 445.6 671.5 444.7 670.5 445.1 669.5 446.3 668.5 447.2 667.5 451.0 666.5 452.8 665.5 455.2 664.5 455.0 663.5 455.3 662.5 451.5 661.5 449.6 660.5 445.9 659.5 445.3 658.5 447.8 657.5 450.9 656.5 451.0 655.5 450.9 654.5 453.0 653.5 453.6 652.5 452.5 651.5 451.3 650.5 449.6 649.5 449.1 648.5 446.6 647.5 447.3 646.5 445.1 645.5 445.0 644.5 446.0 643.5 442.3 642.5 440.1 641.5 437.3 640.5 436.1 639.5 440.3 638.5 442.5 637.5 442.9 636.5 442.2 635.5 444.4 634.5 441.8 633.5 442.3 632.5 438.5 631.5 439.7 630.5 439.4 629.5 440.8 628.5 441.3 627.5 442.4 626.5 444.0 625.5 445.6 624.5 442.9 623.5 443.2 622.5 443.2 621.5 445.1 620.5 444.6 619.5 447.1 618.5 449.1 617.5 449.1 616.5 449.2 615.5 447.6 614.5 445.7 613.5 446.8 612.5 447.7 611.5 447.7 610.5 448.8 609.5 449.9 608.5 452.6 607.5 451.2 606.5 449.1 605.5 446.3 604.5 446.3 603.5 449.4 602.5 450.1 601.5 451.1 600.5 449.8 599.5 448.3 598.5 444.3 597.5 446.0 596.5 448.8 595.5 446.0 594.5 446.3 593.5 442.3 592.5 442.9 591.5 443.5 590.5 443.1 589.5 443.2 588.5 442.5 587.5 439.6 586.5 435.5 585.5 433.9 584.5 428.7 583.5 426.1Z" fill="rgb(114, 164, 209)"/>
<path d="M583.5 411.5 584.5 412.6 585.5 413.0 586.5 415.9 587.5 417.5 588.5 418.1 589.5 419.4 590.5 420.0 591.5 420.9 592.5 420.1 593.5 421.2 594.5 422.5 595.5 423.8 596.5 425.6 597.5 424.2 598.5 424.1 599.5 427.0 600.5 428.2 601.5 429.8 602.5 427.1 603.5 424.8 604.5 421.2 605.5 423.4 606.5 427.5 607.5 431.4 608.5 430.2 609.5 429.3 610.5 425.5 611.5 427.1 612.5 425.3 613.5 426.1 614.5 424.6 615.5 426.2 616.5 424.8 617.5 428.8 618.5 425.3 619.5 426.5 620.5 419.3 621.5 424.5 622.5 423.5 623.5 422.6 624.5 423.8 625.5 428.7 626.5 425.6 627.5 424.9 628.5 426.7 629.5 428.3 630.5 425.6 631.5 422.1 632.5 421.7 633.5 425.7 634.5 424.6 635.5 427.8 636.5 426.4 637.5 429.1 638.5 421.9 639.5 423.0 640.5 416.8 641.5 417.2 642.5 420.0 643.5 423.4 644.5 427.2 645.5 426.9 646.5 428.9 647.5 428.7 648.5 426.6 649.5 429.5 650.5 430.1 651.5 434.8 652.5 431.1 653.5 435.5 654.5 438.3 655.5 436.9 656.5 434.4 657.5 434.3 658.5 429.3 659.5 429.6 660.5 429.2 661.5 433.4 662.5 434.5 663.5 436.2 664.5 438.6 665.5 437.6 666.5 431.0 667.5 432.4 668.5 433.1 669.5 432.9 670.5 426.6 671.5 429.9 672.5 427.9 673.5 433.9 674.5 429.4 675.5 429.8 676.5 435.0 677.5 432.9 678.5 436.7 679.5 433.3 680.5 429.7 681.5 431.7 682.5 434.0 683.5 429.9 684.5 430.1 685.5 431.0 686.5 432.5 687.5 429.6 688.5 431.3 689.5 436.9 690.5 438.9 691.5 433.8 692.5 430.4 693.5 424.3 694.5 425.1 695.5 423.3 696.5 422.1 697.5 430.8 698.5 425.2 699.5 424.3 700.5 424.3 701.5 423.7 702.5 425.5 703.5 433.6 704.5 436.8 705.5 434.7 706.5 428.3 707.5 430.2 708.5 426.2 709.5 423.8 710.5 433.1 711.5 434.6 712.5 428.8 713.5 434.8 714.5 433.8 715.5 434.0 716.5 432.3 717.5 432.7 718.5 430.9 719.5 438.6 720.5 433.4 721.5 442.3 722.5 441.5 723.5 436.2 724.5 437.0 725.5 438.5 726.5 432.0 727.5 437.1 728.5 434.0 729.5 440.2 730.5 445.7 731.5 442.1 732.5 450.5 733.5 449.2 734.5 445.4 735.5 443.3 736.5 441.6 737.5 445.2 738.5 439.8 739.5 448.5 740.5 449.0 741.5 448.1 742.5 453.7 743.5 450.1 744.5 453.3 745.5 451.8 746.5 448.6 747.5 447.5 748.5 450.7 749.5 453.0 750.5 451.9 751.5 456.4 752.5 463.7 753.5 456.9 754.5 465.5 755.5 457.7 756.5 459.6 757.5 458.5 758.5 457.7 759.5 460.0 760.5 461.1 761.5 459.1 762.5 462.9 763.5 459.4 764.5 466.7 765.5 461.2 766.5 463.2 767.5 466.5 768.5 468.2 769.5 469.4 770.5 471.9 771.5 466.8 772.5 462.7 773.5 469.6 774.5 470.1 775.5 467.9 776.5 467.0 777.5 469.3 778.5 471.7 779.5 465.1 780.5 462.0 781.5 463.6 782.5 464.7 783.5 460.1 784.5 456.5 785.5 458.5 786.5 461.4 787.5 463.8 788.5 470.3 789.5 466.6 790.5 465.4 791.5 458.3 792.5 455.6 793.5 454.2 794.5 452.2 795.5 448.2 796.5 441.8 797.5 434.7 798.5 427.0 799.5 422.8 800.5 420.6 801.5 415.5 802.5 416.6 803.5 417.7 804.5 414.5 805.5 413.0 806.5 413.2 807.5 411.5 808.5 409.0 809.5 408.3 810.5 409.6 811.5 409.5 812.5 410.7 813.5 412.6 814.5 413.1 815.5 410.6 816.5 411.8 817.5 410.3 818.5 405.8 819.5 405.8 820.5 404.5 821.5 403.4 822.5 404.3 823.5 402.4 824.5 405.6 825.5 403.4 826.5 402.8 827.5 403.4 828.5 399.7 829.5 401.0 830.5 400.3 831.5 402.9 832.5 400.9 833.5 398.1 834.5 398.7 835.5 398.2 836.5 396.7 837.5 397.2 838.5 397.6 839.5 395.8 840.5 394.9 841.5 392.9 842.5 393.8 843.5 392.5 844.5 391.7 845.5 390.1 846.5 392.7 847.5 391.9 848.5 389.3 849.5 387.9 850.5 385.0 851.5 387.0 852.5 387.2 853.5 385.6 854.5 388.5 855.5 389.7 856.5 390.3 857.5 390.3 858.5 389.6 859.5 387.3 860.5 388.5 861.5 390.9 862.5 391.1 863.5 395.7 864.5 393.7 865.5 394.5 866.5 391.6 867.5 392.2 868.5 391.6 869.5 392.1 870.5 394.1 871.5 397.1 872.5 400.5 873.5 399.3 874.5 398.3 875.5 400.0 876.5 397.7 877.5 397.1 878.5 393.4 879.5 394.7 880.5 395.7 881.5 396.7 882.5 396.8 883.5 400.3 884.5 398.1 885.5 399.9 886.5 396.2 887.5 397.7 888.5 397.1 889.5 397.3 890.5 401.4 891.5 397.8 892.5 402.7 893.5 401.0 894.5 404.1 895.5 403.6 896.5 403.9 897.5 402.5 898.5 400.3 899.5 400.1 900.5 401.5 901.5 401.1 902.5 399.9 903.5 397.7 904.5 395.8 905.5 395.8 906.5 396.9 907.5 397.2 908.5 396.2 909.5 391.1 910.5 391.9 911.5 394.4 912.5 395.3 913.5 396.7 L913.5 414.5 912.5 413.6 911.5 412.4 910.5 412.1 909.5 412.1 908.5 416.6 907.5 419.1 906.5 418.2 905.5 416.1 904.5 417.2 903.5 419.0 902.5 422.6 901.5 422.5 900.5 422.7 899.5 420.4 898.5 420.5 897.5 422.2 896.5 425.1 895.5 423.9 894.5 424.7 893.5 422.5 892.5 425.1 891.5 420.7 890.5 422.6 889.5 419.3 888.5 416.6 887.5 419.1 886.5 418.4 885.5 420.6 884.5 419.0 883.5 420.3 882.5 417.3 881.5 417.7 880.5 414.8 879.5 415.3 878.5 414.2 877.5 415.2 876.5 416.9 875.5 418.6 874.5 419.0 873.5 418.6 872.5 418.3 871.5 414.9 870.5 411.5 869.5 409.4 868.5 406.9 867.5 407.0 866.5 405.6 865.5 408.4 864.5 406.2 863.5 408.3 862.5 403.4 861.5 403.2 860.5 400.9 859.5 399.7 858.5 401.8 857.5 402.5 856.5 402.4 855.5 401.7 854.5 400.5 853.5 397.7 852.5 399.2 851.5 399.0 850.5 397.0 849.5 399.8 848.5 401.1 847.5 403.5 846.5 404.3 845.5 401.6 844.5 403.1 843.5 403.8 842.5 405.2 841.5 404.2 840.5 406.1 839.5 406.9 838.5 408.6 837.5 408.1 836.5 407.5 835.5 408.9 834.5 409.3 833.5 408.8 832.5 411.4 831.5 413.3 830.5 410.9 829.5 411.4 828.5 410.2 827.5 413.9 826.5 413.3 825.5 413.8 824.5 415.9 823.5 412.8 822.5 414.6 821.5 413.8 820.5 414.9 819.5 416.1 818.5 416.2 817.5 420.4 816.5 421.8 815.5 420.7 814.5 423.1 813.5 422.5 812.5 420.7 811.5 419.6 810.5 419.6 809.5 418.4 808.5 419.0 807.5 421.5 806.5 423.0 805.5 422.7 804.5 424.3 803.5 427.3 802.5 426.2 801.5 425.1 800.5 430.0 799.5 432.1 798.5 436.1 797.5 443.5 796.5 450.2 795.5 456.4 794.5 460.1 793.5 464.6 792.5 468.7 791.5 472.7 790.5 474.3 789.5 479.2 788.5 479.6 787.5 478.3 786.5 477.6 785.5 477.0 784.5 475.3 783.5 474.8 782.5 476.7 781.5 478.7 780.5 480.6 779.5 478.2 778.5 480.6 777.5 480.2 776.5 479.3 775.5 480.7 774.5 480.8 773.5 479.7 772.5 476.8 771.5 479.4 770.5 480.2 769.5 481.6 768.5 483.1 767.5 480.8 766.5 478.9 765.5 480.1 764.5 478.2 763.5 480.0 762.5 479.3 761.5 479.3 760.5 476.3 759.5 475.6 758.5 476.3 757.5 476.4 756.5 477.9 755.5 479.7 754.5 480.9 753.5 481.5 752.5 479.0 751.5 475.0 750.5 471.5 749.5 468.7 748.5 465.8 747.5 466.3 746.5 467.4 745.5 466.7 744.5 465.5 743.5 465.4 742.5 466.8 741.5 463.1 740.5 463.6 739.5 462.8 738.5 459.7 737.5 460.1 736.5 458.8 735.5 457.6 734.5 460.6 733.5 461.5 732.5 460.7 731.5 458.4 730.5 457.1 729.5 454.3 728.5 452.5 727.5 450.9 726.5 450.3 725.5 449.3 724.5 448.9 723.5 448.7 722.5 452.1 721.5 451.5 720.5 447.6 719.5 447.9 718.5 445.2 717.5 445.2 716.5 446.5 715.5 447.8 714.5 449.7 713.5 449.4 712.5 449.3 711.5 447.9 710.5 448.1 709.5 446.3 708.5 448.6 707.5 450.6 706.5 450.4 705.5 454.5 704.5 454.4 703.5 452.6 702.5 450.1 701.5 449.4 700.5 448.3 699.5 448.3 698.5 446.0 697.5 446.9 696.5 444.2 695.5 445.1 694.5 443.3 693.5 442.1 692.5 447.0 691.5 449.2 690.5 450.7 689.5 447.5 688.5 445.2 687.5 445.7 686.5 445.1 685.5 443.9 684.5 443.5 683.5 445.5 682.5 446.1 681.5 447.7 680.5 447.3 679.5 448.7 678.5 446.3 677.5 445.6 676.5 446.3 675.5 446.4 674.5 445.4 673.5 447.0 672.5 445.6 671.5 444.7 670.5 445.1 669.5 446.3 668.5 447.2 667.5 451.0 666.5 452.8 665.5 455.2 664.5 455.0 663.5 455.3 662.5 451.5 661.5 449.6 660.5 445.9 659.5 445.3 658.5 447.8 657.5 450.9 656.5 451.0 655.5 450.9 654.5 453.0 653.5 453.6 652.5 452.5 651.5 451.3 650.5 449.6 649.5 449.1 648.5 446.6 647.5 447.3 646.5 445.1 645.5 445.0 644.5 446.0 643.5 442.3 642.5 440.1 641.5 437.3 640.5 436.1 639.5 440.3 638.5 442.5 637.5 442.9 636.5 442.2 635.5 444.4 634.5 441.8 633.5 442.3 632.5 438.5 631.5 439.7 630.5 439.4 629.5 440.8 628.5 441.3 627.5 442.4 626.5 444.0 625.5 445.6 624.5 442.9 623.5 443.2 622.5 443.2 621.5 445.1 620.5 444.6 619.5 447.1 618.5 449.1 617.5 449.1 616.5 449.2 615.5 447.6 614.5 445.7 613.5 446.8 612.5 447.7 611.5 447.7 610.5 448.8 609.5 449.9 608.5 452.6 607.5 451.2 606.5 449.1 605.5 446.3 604.5 446.3 603.5 449.4 602.5 450.1 601.5 451.1 600.5 449.8 599.5 448.3 598.5 444.3 597.5 446.0 596.5 448.8 595.5 446.0 594.5 446.3 593.5 442.3 592.5 442.9 591.5 443.5 590.5 443.1 589.5 443.2 588.5 442.5 587.5 439.6 586.5 435.5 585.5 433.9 584.5 428.7 583.5 426.1Z" fill="rgb(105, 155, 204)"/>
<path d="M583.5 412.1 584.5 414.5 585.5 419.9 586.5 420.9 587.5 424.9 588.5 428.3 589.5 429.3 590.5 429.6 591.5 429.3 592.5 428.9 593.5 428.5 594.5 430.5 595.5 432.5 596.5 434.0 597.5 432.2 598.5 430.1 599.5 435.0 600.5 435.3 601.5 434.9 602.5 434.0 603.5 435.7 604.5 431.4 605.5 432.4 606.5 431.9 607.5 434.1 608.5 434.8 609.5 432.3 610.5 432.5 611.5 429.9 612.5 427.5 613.5 428.9 614.5 429.4 615.5 431.0 616.5 433.7 617.5 429.0 618.5 430.1 619.5 428.1 620.5 424.9 621.5 427.6 622.5 427.5 623.5 425.8 624.5 427.1 625.5 432.5 626.5 426.4 627.5 427.4 628.5 423.4 629.5 421.9 630.5 422.2 631.5 425.7 632.5 420.3 633.5 426.8 634.5 426.5 635.5 428.1 636.5 423.9 637.5 421.0 638.5 423.1 639.5 422.2 640.5 420.5 641.5 420.4 642.5 426.3 643.5 423.8 644.5 429.5 645.5 426.7 646.5 432.5 647.5 431.4 648.5 435.6 649.5 436.9 650.5 436.0 651.5 439.3 652.5 440.6 653.5 441.0 654.5 441.8 655.5 436.3 656.5 436.3 657.5 435.7 658.5 436.9 659.5 431.9 660.5 434.8 661.5 440.9 662.5 443.0 663.5 444.8 664.5 446.8 665.5 446.8 666.5 443.4 667.5 442.5 668.5 435.6 669.5 437.6 670.5 436.4 671.5 436.1 672.5 435.1 673.5 438.5 674.5 436.9 675.5 437.4 676.5 437.9 677.5 437.2 678.5 435.0 679.5 440.5 680.5 435.7 681.5 437.4 682.5 433.7 683.5 433.6 684.5 431.8 685.5 430.5 686.5 433.7 687.5 433.9 688.5 436.2 689.5 437.3 690.5 442.7 691.5 437.4 692.5 438.8 693.5 433.0 694.5 434.9 695.5 436.7 696.5 435.9 697.5 438.6 698.5 434.9 699.5 439.5 700.5 435.7 701.5 434.2 702.5 441.0 703.5 440.1 704.5 443.2 705.5 442.6 706.5 436.2 707.5 440.0 708.5 435.2 709.5 435.3 710.5 439.9 711.5 434.0 712.5 438.2 713.5 438.1 714.5 433.3 715.5 434.8 716.5 435.4 717.5 431.4 718.5 432.5 719.5 434.3 720.5 438.2 721.5 443.5 722.5 442.3 723.5 434.4 724.5 439.2 725.5 435.9 726.5 436.3 727.5 437.2 728.5 444.4 729.5 443.5 730.5 449.2 731.5 450.6 732.5 453.1 733.5 453.8 734.5 452.9 735.5 449.6 736.5 447.4 737.5 449.9 738.5 449.3 739.5 455.3 740.5 452.6 741.5 451.3 742.5 458.4 743.5 447.6 744.5 452.3 745.5 454.7 746.5 452.1 747.5 449.0 748.5 449.2 749.5 455.8 750.5 457.1 751.5 454.2 752.5 461.3 753.5 469.9 754.5 464.0 755.5 466.0 756.5 458.7 757.5 457.9 758.5 459.6 759.5 457.0 760.5 455.4 761.5 459.0 762.5 463.3 763.5 457.5 764.5 458.5 765.5 457.4 766.5 452.6 767.5 454.6 768.5 465.0 769.5 456.3 770.5 461.7 771.5 454.7 772.5 454.0 773.5 455.6 774.5 459.6 775.5 461.2 776.5 462.4 777.5 457.9 778.5 454.5 779.5 458.7 780.5 463.5 781.5 457.3 782.5 458.5 783.5 458.7 784.5 459.0 785.5 462.2 786.5 456.9 787.5 460.2 788.5 460.8 789.5 465.7 790.5 458.5 791.5 457.6 792.5 457.7 793.5 456.3 794.5 452.2 795.5 448.2 796.5 441.8 797.5 434.7 798.5 427.0 799.5 422.8 800.5 420.6 801.5 415.5 802.5 416.6 803.5 417.7 804.5 414.5 805.5 413.0 806.5 413.2 807.5 411.5 808.5 409.0 809.5 408.3 810.5 409.6 811.5 409.5 812.5 410.7 813.5 412.6 814.5 413.1 815.5 410.6 816.5 411.8 817.5 410.3 818.5 405.8 819.5 405.8 820.5 404.5 821.5 403.4 822.5 404.3 823.5 402.4 824.5 405.6 825.5 403.4 826.5 402.8 827.5 403.4 828.5 399.7 829.5 401.0 830.5 400.3 831.5 402.9 832.5 400.9 833.5 398.1 834.5 398.7 835.5 398.2 836.5 396.7 837.5 397.2 838.5 397.6 839.5 395.8 840.5 394.9 841.5 392.9 842.5 393.8 843.5 392.5 844.5 391.7 845.5 390.1 846.5 392.7 847.5 391.9 848.5 389.3 849.5 387.9 850.5 385.0 851.5 387.0 852.5 387.2 853.5 385.6 854.5 388.5 855.5 389.7 856.5 390.3 857.5 390.3 858.5 389.6 859.5 387.3 860.5 388.5 861.5 390.9 862.5 391.1 863.5 396.2 864.5 393.9 865.5 396.1 866.5 393.2 867.5 393.8 868.5 393.4 869.5 396.2 870.5 398.3 871.5 399.9 872.5 404.7 873.5 402.3 874.5 402.9 875.5 401.9 876.5 399.7 877.5 398.4 878.5 397.4 879.5 397.8 880.5 398.5 881.5 402.1 882.5 400.0 883.5 403.7 884.5 403.7 885.5 404.2 886.5 402.1 887.5 402.7 888.5 400.3 889.5 404.2 890.5 406.0 891.5 403.9 892.5 409.0 893.5 406.7 894.5 408.8 895.5 409.2 896.5 409.7 897.5 407.0 898.5 406.3 899.5 405.1 900.5 407.0 901.5 407.6 902.5 407.0 903.5 403.9 904.5 402.2 905.5 401.5 906.5 403.8 907.5 404.6 908.5 401.9 909.5 397.7 910.5 397.4 911.5 398.1 912.5 399.4 913.5 400.1 L913.5 414.5 912.5 413.6 911.5 412.4 910.5 412.1 909.5 412.1 908.5 416.6 907.5 419.1 906.5 418.2 905.5 416.1 904.5 417.2 903.5 419.0 902.5 422.6 901.5 422.5 900.5 422.7 899.5 420.4 898.5 420.5 897.5 422.2 896.5 425.1 895.5 423.9 894.5 424.7 893.5 422.5 892.5 425.1 891.5 420.7 890.5 422.6 889.5 419.3 888.5 416.6 887.5 419.1 886.5 418.4 885.5 420.6 884.5 419.0 883.5 420.3 882.5 417.3 881.5 417.7 880.5 414.8 879.5 415.3 878.5 414.2 877.5 415.2 876.5 416.9 875.5 418.6 874.5 419.0 873.5 418.6 872.5 418.3 871.5 414.9 870.5 411.5 869.5 409.4 868.5 406.9 867.5 407.0 866.5 405.6 865.5 408.4 864.5 406.2 863.5 408.3 862.5 403.4 861.5 403.2 860.5 400.9 859.5 399.7 858.5 401.8 857.5 402.5 856.5 402.4 855.5 401.7 854.5 400.5 853.5 397.7 852.5 399.2 851.5 399.0 850.5 397.0 849.5 399.8 848.5 401.1 847.5 403.5 846.5 404.3 845.5 401.6 844.5 403.1 843.5 403.8 842.5 405.2 841.5 404.2 840.5 406.1 839.5 406.9 838.5 408.6 837.5 408.1 836.5 407.5 835.5 408.9 834.5 409.3 833.5 408.8 832.5 411.4 831.5 413.3 830.5 410.9 829.5 411.4 828.5 410.2 827.5 413.9 826.5 413.3 825.5 413.8 824.5 415.9 823.5 412.8 822.5 414.6 821.5 413.8 820.5 414.9 819.5 416.1 818.5 416.2 817.5 420.4 816.5 421.8 815.5 420.7 814.5 423.1 813.5 422.5 812.5 420.7 811.5 419.6 810.5 419.6 809.5 418.4 808.5 419.0 807.5 421.5 806.5 423.0 805.5 422.7 804.5 424.3 803.5 427.3 802.5 426.2 801.5 425.1 800.5 430.0 799.5 432.1 798.5 436.1 797.5 443.5 796.5 450.2 795.5 456.4 794.5 460.1 793.5 464.6 792.5 468.7 791.5 472.7 790.5 474.3 789.5 479.2 788.5 479.6 787.5 478.3 786.5 477.6 785.5 477.0 784.5 475.3 783.5 474.8 782.5 476.7 781.5 478.7 780.5 480.6 779.5 478.2 778.5 480.6 777.5 480.2 776.5 479.3 775.5 480.7 774.5 480.8 773.5 479.7 772.5 476.8 771.5 479.4 770.5 480.2 769.5 481.6 768.5 483.1 767.5 480.8 766.5 478.9 765.5 480.1 764.5 478.2 763.5 480.0 762.5 479.3 761.5 479.3 760.5 476.3 759.5 475.6 758.5 476.3 757.5 476.4 756.5 477.9 755.5 479.7 754.5 480.9 753.5 481.5 752.5 479.0 751.5 475.0 750.5 471.5 749.5 468.7 748.5 465.8 747.5 466.3 746.5 467.4 745.5 466.7 744.5 465.5 743.5 465.4 742.5 466.8 741.5 463.1 740.5 463.6 739.5 462.8 738.5 459.7 737.5 460.1 736.5 458.8 735.5 457.6 734.5 460.6 733.5 461.5 732.5 460.7 731.5 458.4 730.5 457.1 729.5 454.3 728.5 452.5 727.5 450.9 726.5 450.3 725.5 449.3 724.5 448.9 723.5 448.7 722.5 452.1 721.5 451.5 720.5 447.6 719.5 447.9 718.5 445.2 717.5 445.2 716.5 446.5 715.5 447.8 714.5 449.7 713.5 449.4 712.5 449.3 711.5 447.9 710.5 448.1 709.5 446.3 708.5 448.6 707.5 450.6 706.5 450.4 705.5 454.5 704.5 454.4 703.5 452.6 702.5 450.1 701.5 449.4 700.5 448.3 699.5 448.3 698.5 446.0 697.5 446.9 696.5 444.2 695.5 445.1 694.5 443.3 693.5 442.1 692.5 447.0 691.5 449.2 690.5 450.7 689.5 447.5 688.5 445.2 687.5 445.7 686.5 445.1 685.5 443.9 684.5 443.5 683.5 445.5 682.5 446.1 681.5 447.7 680.5 447.3 679.5 448.7 678.5 446.3 677.5 445.6 676.5 446.3 675.5 446.4 674.5 445.4 673.5 447.0 672.5 445.6 671.5 444.7 670.5 445.1 669.5 446.3 668.5 447.2 667.5 451.0 666.5 452.8 665.5 455.2 664.5 455.0 663.5 455.3 662.5 451.5 661.5 449.6 660.5 445.9 659.5 445.3 658.5 447.8 657.5 450.9 656.5 451.0 655.5 450.9 654.5 453.0 653.5 453.6 652.5 452.5 651.5 451.3 650.5 449.6 649.5 449.1 648.5 446.6 647.5 447.3 646.5 445.1 645.5 445.0 644.5 446.0 643.5 442.3 642.5 440.1 641.5 437.3 640.5 436.1 639.5 440.3 638.5 442.5 637.5 442.9 636.5 442.2 635.5 444.4 634.5 441.8 633.5 442.3 632.5 438.5 631.5 439.7 630.5 439.4 629.5 440.8 628.5 441.3 627.5 442.4 626.5 444.0 625.5 445.6 624.5 442.9 623.5 443.2 622.5 443.2 621.5 445.1 620.5 444.6 619.5 447.1 618.5 449.1 617.5 449.1 616.5 449.2 615.5 447.6 614.5 445.7 613.5 446.8 612.5 447.7 611.5 447.7 610.5 448.8 609.5 449.9 608.5 452.6 607.5 451.2 606.5 449.1 605.5 446.3 604.5 446.3 603.5 449.4 602.5 450.1 601.5 451.1 600.5 449.8 599.5 448.3 598.5 444.3 597.5 446.0 596.5 448.8 595.5 446.0 594.5 446.3 593.5 442.3 592.5 442.9 591.5 443.5 590.5 443.1 589.5 443.2 588.5 442.5 587.5 439.6 586.5 435.5 585.5 433.9 584.5 428.7 583.5 426.1Z" fill="rgb(96, 146, 198)"/>
</g>
<rect x="580" y="300" width="340" height="180" fill="url(#crm)"/>
</g>
<path d="M733.5 329.5L869.5 261.5V418.8L733.5 489.7Z" fill="none" stroke="#ff0000" stroke-width="1"/>
<g fill="none" stroke="#fffacd" stroke-width="1" shape-rendering="crispEdges">
<rect x="90.5" y="632.5" width="900.0" height="75.0"/>
<path d="M90.5 660.5H990.5M315.5 632.5V707.5M540.5 632.5V707.5M765.5 632.5V707.5" stroke-dasharray="2 2" stroke-opacity="0.85"/>
<path d="M90.5 707.5v-8M90.5 632.5v8M315.5 707.5v-8M315.5 632.5v8M540.5 707.5v-8M540.5 632.5v8M765.5 707.5v-8M765.5 632.5v8M990.5 707.5v-8M990.5 632.5v8M203.5 707.5v-4M203.5 632.5v4M428.5 707.5v-4M428.5 632.5v4M653.5 707.5v-4M653.5 632.5v4M878.5 707.5v-4M878.5 632.5v4M90.5 660.5h8M990.5 660.5h-8M90.5 707.5h8M990.5 707.5h-8"/>
</g>
<polyline points="281.0,687.5 294.0,687.5" fill="none" stroke="#ffff00" stroke-width="1.1"/>
<polyline points="349.4,685.6 353.0,684.5 359.6,681.8 364.0,681.3 377.2,679.4 386.0,678.2 394.8,676.6 398.0,676.6 400.6,677.4 409.0,677.4 412.4,676.6 432.9,676.6 435.8,677.4 454.8,677.4 457.0,676.6 465.1,676.2 468.0,675.4 475.4,674.8 480.0,672.6 484.1,671.5 488.0,671.0 491.5,670.4 500.0,670.2 503.2,669.5 510.0,669.3 514.9,668.4 522.2,668.4 525.2,669.5 555.9,669.5 558.0,668.6 563.4,668.5 574.6,682.1 585.4,664.0 598.6,664.0 605.9,666.3 642.6,666.3 652.8,670.1 668.9,670.1 676.2,671.6 685.6,674.2 704.1,674.2 705.5,673.3 732.8,673.3 742.8,678.3 776.7,678.3 788.5,657.2 799.3,682.4 802.2,683.3 810.1,684.5" fill="none" stroke="#ffff00" stroke-width="1.1"/>
<path d="M788.5 632.5V707.5" stroke="#ff0000" stroke-width="1" shape-rendering="crispEdges"/>
<text x="40.0" y="663.8" fill="#fffacd" font-size="16.6" textLength="36.3" lengthAdjust="spacingAndGlyphs">-100</text>
<text x="40.0" y="710.8" fill="#fffacd" font-size="16.6" textLength="36.3" lengthAdjust="spacingAndGlyphs">-120</text>
<text x="53.4" y="728.8" fill="#fffacd" font-size="16.6" textLength="71.9" lengthAdjust="spacingAndGlyphs">19:22:40</text>
<text x="278.4" y="728.8" fill="#fffacd" font-size="16.6" textLength="71.9" lengthAdjust="spacingAndGlyphs">19:23:00</text>
<text x="503.4" y="728.8" fill="#fffacd" font-size="16.6" textLength="71.9" lengthAdjust="spacingAndGlyphs">19:23:20</text>
<text x="728.4" y="728.8" fill="#fffacd" font-size="16.6" textLength="71.9" lengthAdjust="spacingAndGlyphs">19:23:40</text>
<text x="953.4" y="728.8" fill="#fffacd" font-size="16.6" textLength="71.9" lengthAdjust="spacingAndGlyphs">19:24:00</text>
<text x="-31.9" y="671.5" fill="#fffacd" font-size="16.6" textLength="102.7" lengthAdjust="spacingAndGlyphs" transform="rotate(-90 19.4 671.5)">Power (dBm)</text>
</svg>
</body></html>
